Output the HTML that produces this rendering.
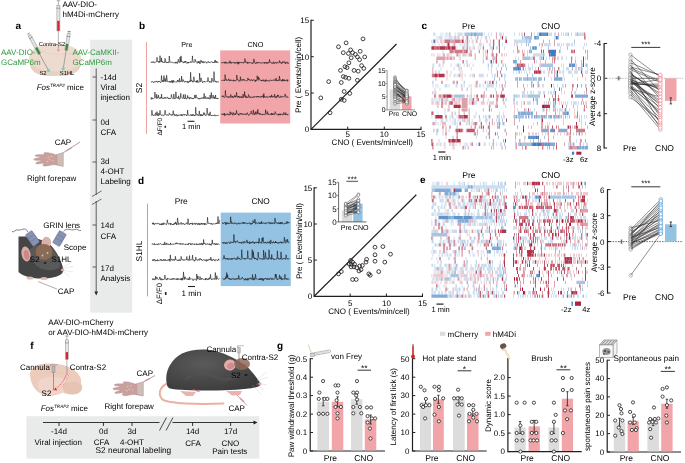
<!DOCTYPE html>
<html><head><meta charset="utf-8"><style>
html,body{margin:0;padding:0;background:#fff;}
svg{display:block;will-change:transform;}
text{font-family:"Liberation Sans",sans-serif;text-rendering:geometricPrecision;}
</style></head><body>
<svg width="685" height="463" viewBox="0 0 685 463">
<rect x="90.2" y="39.7" width="42" height="273" fill="#e9ebea"/>
<line x1="96.2" y1="68.4" x2="96.2" y2="195" stroke="#4d4d4d" stroke-width="0.9"/>
<line x1="96.2" y1="201" x2="96.2" y2="292" stroke="#4d4d4d" stroke-width="0.9"/>
<path d="M94.4 291.5 L98 291.5 L96.2 295.5 Z" fill="#231f20"/>
<line x1="92" y1="196.5" x2="101.5" y2="191" stroke="#4d4d4d" stroke-width="0.8"/>
<line x1="92" y1="204.5" x2="101.5" y2="199" stroke="#4d4d4d" stroke-width="0.8"/>
<line x1="92.5" y1="77" x2="96.2" y2="77" stroke="#4d4d4d" stroke-width="0.9"/>
<line x1="92.5" y1="120" x2="96.2" y2="120" stroke="#4d4d4d" stroke-width="0.9"/>
<line x1="92.5" y1="162" x2="96.2" y2="162" stroke="#4d4d4d" stroke-width="0.9"/>
<line x1="92.5" y1="225" x2="96.2" y2="225" stroke="#4d4d4d" stroke-width="0.9"/>
<line x1="92.5" y1="267" x2="96.2" y2="267" stroke="#4d4d4d" stroke-width="0.9"/>
<line x1="146.5" y1="42" x2="146.5" y2="134" stroke="#f3a3a6" stroke-width="1"/>
<rect x="220.2" y="50.4" width="70" height="73.1" fill="#f2a5a8"/>
<path d="M151 61.7 151.3 62.5 151.6 62.8 151.9 62 152.2 61.6 152.5 62.3 152.8 62.5 153.1 62.8 153.4 61.7 153.7 61.7 154 62.7 154.3 62.5 154.6 63.1 154.9 62.8 155.2 62.2 155.5 62.2 155.8 62.1 156.1 61.5 156.4 61.6 156.7 61.6 157 57.3 157.3 60.2 157.6 61.2 157.9 61.9 158.2 62.3 158.5 62.6 158.8 61 159.1 61.6 159.4 61.1 159.7 62.5 160 55.7 160.3 59.7 160.6 60.5 160.9 61.9 161.2 61.7 161.5 57.9 161.8 62 162.1 61.5 162.4 62.4 162.7 61.5 163 62.1 163.3 62.6 163.6 62.2 163.9 62.5 164.2 62.3 164.5 61.8 164.8 62.6 165.1 58.4 165.4 61.7 165.7 61.4 166 62.4 166.3 62.2 166.6 62.7 166.9 62 167.2 62.8 167.5 62.2 167.8 62.9 168.1 62.6 168.4 62.4 168.7 61.9 169 62.7 169.3 56 169.6 60.4 169.9 60.9 170.2 62.1 170.5 62.3 170.8 62.4 171.1 62.4 171.4 62.4 171.7 62 172 61.8 172.3 62.1 172.6 62.6 172.9 63.1 173.2 62.8 173.5 62.8 173.8 62.7 174.1 62.6 174.4 62.4 174.7 62.7 175 63.2 175.3 62.1 175.6 62 175.9 63.3 176.2 62.4 176.5 62.8 176.8 62.7 177.1 61.7 177.4 63.5 177.7 63.2 178 62.4 178.3 59.3 178.6 60.9 178.9 61.3 179.2 62 179.5 62.4 179.8 62.8 180.1 57 180.4 59.9 180.7 62 181 55.9 181.3 60.1 181.6 61.8 181.9 61.7 182.2 61.2 182.5 61.8 182.8 62.4 183.1 62.6 183.4 63.1 183.7 61.8 184 62.3 184.3 62.6 184.6 62.2 184.9 61.1 185.2 62.7 185.5 61.3 185.8 61.9 186.1 61.4 186.4 61.9 186.7 62.3 187 63.5 187.3 62.6 187.6 62.4 187.9 63.1 188.2 62.3 188.5 63.2 188.8 62 189.1 62.1 189.4 62.7 189.7 63 190 62.6 190.3 62.5 190.6 61.4 190.9 61.9 191.2 62 191.5 62 191.8 62.6 192.1 62.1 192.4 55.9 192.7 59.5 193 60.9 193.3 61.8 193.6 62.3 193.9 62.6 194.2 62 194.5 62.2 194.8 61.6 195.1 59.2 195.4 61.4 195.7 61.5 196 61.8 196.3 61.6 196.6 62.3 196.9 62.4 197.2 63.4 197.5 62.4 197.8 61.9 198.1 61.1 198.4 63 198.7 62.4 199 61.5 199.3 62.4 199.6 61.5 199.9 64 200.2 62.9 200.5 62.6 200.8 60.1 201.1 60.4 201.4 61.9 201.7 61.4 202 62.5 202.3 61.2 202.6 61.8 202.9 62.9 203.2 63.1 203.5 61.7 203.8 61.5 204.1 62.7 204.4 62.7 204.7 61.8 205 62 205.3 62 205.6 61.7 205.9 62 206.2 62.9 206.5 62.6 206.8 63.3 207.1 62.3 207.4 62.2 207.7 61.8 208 62.2 208.3 61.6 208.6 61.4 208.9 62.6 209.2 63 209.5 62.7 209.8 63 210.1 62.4 210.4 61.9 210.7 62.3 211 62.1 211.3 61.7 211.6 61.5 211.9 61.6 212.2 62.3 212.5 62.4 212.8 62.1 213.1 63 213.4 62.4 213.7 62.6 214 62.9 214.3 61.9 214.6 61.3 214.9 62.7 215.2 59.9 215.5 62.1 215.8 62.1 216.1 62.6 216.4 62.6 216.7 61.2 217 62.6 217.3 62 217.6 61.9 217.9 62.1 218.2 62.7 218.5 62.7" fill="none" stroke="#1a1a1a" stroke-width="0.6" stroke-linejoin="bevel"/>
<path d="M151 81.9 151.3 81.8 151.6 82.3 151.9 81.8 152.2 81.1 152.5 81.6 152.8 81.9 153.1 82 153.4 82 153.7 82.6 154 82.8 154.3 81.6 154.6 81.8 154.9 81.8 155.2 82.2 155.5 81.5 155.8 81.7 156.1 81.3 156.4 81.1 156.7 81.8 157 81.1 157.3 82 157.6 82.5 157.9 81.8 158.2 81.9 158.5 81.4 158.8 80.9 159.1 81.9 159.4 81.4 159.7 81.9 160 82 160.3 82.2 160.6 82.8 160.9 81.8 161.2 81.9 161.5 75.6 161.8 79.9 162.1 80.2 162.4 80.7 162.7 81.9 163 80.2 163.3 81.6 163.6 81.8 163.9 75.7 164.2 80 164.5 80.2 164.8 81.4 165.1 78.3 165.4 79.8 165.7 81.8 166 82.1 166.3 81.1 166.6 75.3 166.9 78.1 167.2 79.9 167.5 81.7 167.8 81.9 168.1 81.8 168.4 81.6 168.7 81.7 169 81.3 169.3 82.3 169.6 81.4 169.9 81.4 170.2 82.4 170.5 81.4 170.8 81.3 171.1 82.3 171.4 81.1 171.7 81.4 172 80.1 172.3 83.1 172.6 81.2 172.9 81.1 173.2 81.8 173.5 80.3 173.8 82.4 174.1 81.8 174.4 81.7 174.7 81.3 175 81.6 175.3 81.8 175.6 81.9 175.9 82.2 176.2 82 176.5 81.9 176.8 82.2 177.1 81.3 177.4 80.4 177.7 81.6 178 80.2 178.3 81 178.6 81.1 178.9 81 179.2 82.3 179.5 78.3 179.8 80.1 180.1 80.9 180.4 81.7 180.7 81.5 181 81.3 181.3 81.7 181.6 76.1 181.9 79.6 182.2 81.9 182.5 81.8 182.8 81 183.1 79.5 183.4 80.2 183.7 81 184 81.3 184.3 82.3 184.6 81.3 184.9 81.5 185.2 81.6 185.5 81.3 185.8 82.1 186.1 81.7 186.4 82 186.7 81.8 187 81.7 187.3 81.2 187.6 82.4 187.9 81.2 188.2 83.1 188.5 82.2 188.8 81.9 189.1 81.6 189.4 82.1 189.7 81.4 190 80.4 190.3 81.9 190.6 72.3 190.9 78.3 191.2 80.7 191.5 80.7 191.8 80 192.1 81.8 192.4 81.9 192.7 81.1 193 82.2 193.3 82.2 193.6 81.4 193.9 76.8 194.2 80.1 194.5 81 194.8 81.7 195.1 81.9 195.4 81.4 195.7 81.2 196 81.6 196.3 82.4 196.6 80.9 196.9 82.1 197.2 80 197.5 81.4 197.8 82.5 198.1 81.5 198.4 81.7 198.7 81.9 199 82.4 199.3 81.2 199.6 73.2 199.9 77.9 200.2 80.1 200.5 81.8 200.8 80.8 201.1 77.9 201.4 79.6 201.7 80.4 202 81.6 202.3 81.9 202.6 82.8 202.9 81.5 203.2 81.8 203.5 81.6 203.8 82.1 204.1 81.8 204.4 81.1 204.7 82 205 82.2 205.3 82.1 205.6 81.9 205.9 81.8 206.2 81.4 206.5 81.1 206.8 81.4 207.1 81.3 207.4 81.4 207.7 81.7 208 77.5 208.3 80.8 208.6 81.1 208.9 81.2 209.2 82.2 209.5 82.3 209.8 81.1 210.1 81.1 210.4 81.8 210.7 82.2 211 81.7 211.3 82.6 211.6 81.2 211.9 78 212.2 80.3 212.5 80.9 212.8 80.6 213.1 81.3 213.4 82.1 213.7 81.4 214 71.6 214.3 77.7 214.6 80.1 214.9 80.8 215.2 81.9 215.5 81.9 215.8 80.9 216.1 81.7 216.4 81.4 216.7 82.5 217 82 217.3 81.9 217.6 81.6 217.9 81.5 218.2 81.4 218.5 82.5" fill="none" stroke="#1a1a1a" stroke-width="0.6" stroke-linejoin="bevel"/>
<path d="M151 97.7 151.3 99.4 151.6 97.6 151.9 98 152.2 97.8 152.5 99.1 152.8 98.5 153.1 98.5 153.4 98.9 153.7 98.7 154 98.2 154.3 98 154.6 97.5 154.9 92 155.2 95.2 155.5 96.9 155.8 97.8 156.1 98.4 156.4 98.6 156.7 94.3 157 97.5 157.3 98 157.6 97.4 157.9 98.4 158.2 97.7 158.5 95.1 158.8 97.4 159.1 97.4 159.4 97.9 159.7 98.7 160 98.8 160.3 98.3 160.6 97.9 160.9 97 161.2 98.5 161.5 94.1 161.8 96.8 162.1 97.6 162.4 97.8 162.7 98.6 163 98.1 163.3 98.1 163.6 97.9 163.9 98.7 164.2 98.5 164.5 97.4 164.8 98.1 165.1 98.1 165.4 98.4 165.7 97.2 166 97.9 166.3 98.2 166.6 98 166.9 98.3 167.2 98 167.5 96.9 167.8 97.5 168.1 98.2 168.4 98.5 168.7 98 169 99 169.3 98.1 169.6 98.4 169.9 98.5 170.2 98.3 170.5 99 170.8 98.2 171.1 97.9 171.4 94.5 171.7 96.3 172 97.3 172.3 98 172.6 98.4 172.9 98.2 173.2 98.8 173.5 97.9 173.8 94 174.1 96.5 174.4 97.5 174.7 99.1 175 99.1 175.3 98.2 175.6 98.1 175.9 91.8 176.2 95.8 176.5 96.8 176.8 98.1 177.1 97.9 177.4 97.4 177.7 97.8 178 98.5 178.3 98.9 178.6 95.8 178.9 97.2 179.2 98.5 179.5 99.4 179.8 98.9 180.1 98 180.4 98 180.7 93.3 181 95.8 181.3 96.8 181.6 97.1 181.9 97.6 182.2 98.6 182.5 98.3 182.8 98 183.1 98.3 183.4 94.6 183.7 97.4 184 98 184.3 98.6 184.6 98.1 184.9 98.9 185.2 94.3 185.5 97.4 185.8 98.4 186.1 98.2 186.4 99 186.7 99.2 187 97.8 187.3 98 187.6 95.4 187.9 97.7 188.2 97.6 188.5 97.3 188.8 98.2 189.1 97.7 189.4 99.2 189.7 98.3 190 97.1 190.3 97.3 190.6 97.4 190.9 98.4 191.2 98.8 191.5 97.9 191.8 97.8 192.1 98.2 192.4 98.7 192.7 98.1 193 99.1 193.3 98.6 193.6 99 193.9 97.8 194.2 97.6 194.5 97.8 194.8 95 195.1 97.6 195.4 98 195.7 98.2 196 94.8 196.3 97.3 196.6 97.6 196.9 98.2 197.2 98 197.5 97.7 197.8 98.3 198.1 98.7 198.4 98 198.7 98.5 199 99.3 199.3 98.8 199.6 99 199.9 98.1 200.2 98.6 200.5 97.9 200.8 98.4 201.1 98 201.4 98.3 201.7 97.7 202 98.5 202.3 98.2 202.6 98.4 202.9 98.1 203.2 97.1 203.5 98 203.8 98.7 204.1 93.4 204.4 96.1 204.7 97.8 205 98.9 205.3 98.5 205.6 96.4 205.9 97 206.2 97.5 206.5 98.7 206.8 98.4 207.1 98.3 207.4 98.6 207.7 98 208 97.1 208.3 98.3 208.6 98.9 208.9 98.2 209.2 98.4 209.5 98.7 209.8 99.2 210.1 95.1 210.4 97.5 210.7 98.7 211 97.8 211.3 92.5 211.6 96.1 211.9 98.1 212.2 98.2 212.5 98.1 212.8 98 213.1 95 213.4 97.1 213.7 97.6 214 98.7 214.3 96.8 214.6 97 214.9 98.9 215.2 98.7 215.5 95 215.8 97.7 216.1 98.4 216.4 98.6 216.7 98 217 98.6 217.3 98.5 217.6 98 217.9 99 218.2 98.4 218.5 98.6" fill="none" stroke="#1a1a1a" stroke-width="0.6" stroke-linejoin="bevel"/>
<path d="M151 115.3 151.3 115.6 151.6 115.1 151.9 110.2 152.2 112.5 152.5 115 152.8 114.9 153.1 115.5 153.4 114.9 153.7 115.5 154 115.3 154.3 115.2 154.6 114.8 154.9 114.7 155.2 115.7 155.5 113.9 155.8 112.7 156.1 115 156.4 115.1 156.7 114.9 157 111.6 157.3 113.1 157.6 115.6 157.9 114.7 158.2 115.2 158.5 115.9 158.8 113.2 159.1 114.4 159.4 114.6 159.7 115.1 160 110.4 160.3 113.6 160.6 114 160.9 114.9 161.2 115.3 161.5 115.6 161.8 114.9 162.1 115.2 162.4 115 162.7 114.9 163 115.6 163.3 115.5 163.6 114.9 163.9 115.3 164.2 114.5 164.5 114.8 164.8 114.5 165.1 110.2 165.4 113.7 165.7 114.4 166 114.7 166.3 115.2 166.6 115 166.9 115.3 167.2 114.5 167.5 115.2 167.8 114.8 168.1 115.3 168.4 115.2 168.7 115.3 169 114.6 169.3 112.9 169.6 113.5 169.9 114.5 170.2 114.8 170.5 114.8 170.8 114.5 171.1 115.3 171.4 115.6 171.7 115.1 172 114.1 172.3 114.6 172.6 115.3 172.9 114.5 173.2 110.6 173.5 113.1 173.8 114.1 174.1 115.1 174.4 115.6 174.7 114.2 175 114.4 175.3 115.9 175.6 115.5 175.9 115.3 176.2 114.8 176.5 115.2 176.8 114.3 177.1 116.3 177.4 115.4 177.7 115.5 178 115.3 178.3 115.9 178.6 115.2 178.9 115.2 179.2 114.7 179.5 115.1 179.8 115.2 180.1 115.8 180.4 114.8 180.7 114.7 181 114.7 181.3 114.7 181.6 115.8 181.9 114.1 182.2 115 182.5 115.6 182.8 115.5 183.1 114.9 183.4 115 183.7 114.4 184 114.7 184.3 114 184.6 115.3 184.9 114.9 185.2 114.8 185.5 114.8 185.8 114.8 186.1 115 186.4 115 186.7 116 187 114.8 187.3 115.1 187.6 110.1 187.9 113.5 188.2 114.5 188.5 115.4 188.8 115.2 189.1 115.3 189.4 115.4 189.7 115.3 190 115.1 190.3 115 190.6 114.4 190.9 115.5 191.2 114.9 191.5 115.2 191.8 115.9 192.1 114.4 192.4 115.6 192.7 115.3 193 114.3 193.3 115.2 193.6 114.6 193.9 115.7 194.2 115.2 194.5 116 194.8 115 195.1 115.6 195.4 115.3 195.7 107.3 196 112.6 196.3 113.4 196.6 114 196.9 115.3 197.2 114.4 197.5 114.5 197.8 115.3 198.1 114.9 198.4 114.7 198.7 115.7 199 115.2 199.3 110.9 199.6 113.9 199.9 114.4 200.2 116.1 200.5 114.6 200.8 115.6 201.1 115.7 201.4 114.6 201.7 115.5 202 114.3 202.3 115.9 202.6 115.4 202.9 115.2 203.2 115.1 203.5 115 203.8 112.4 204.1 113.9 204.4 114.4 204.7 113.4 205 115.4 205.3 115.5 205.6 115.8 205.9 115.3 206.2 114.7 206.5 115.2 206.8 114.9 207.1 108.1 207.4 112.1 207.7 113.4 208 114.1 208.3 115.4 208.6 115.2 208.9 113.8 209.2 114.6 209.5 115.7 209.8 114.3 210.1 111.8 210.4 114 210.7 114.9 211 115.9 211.3 115.8 211.6 115.2 211.9 115.8 212.2 115.5 212.5 115.5 212.8 115.8 213.1 115.3 213.4 115.6 213.7 115.7 214 115.1 214.3 115.6 214.6 114.7 214.9 115.3 215.2 115.2 215.5 115.4 215.8 116.2 216.1 115.6 216.4 115.1 216.7 115.4 217 115.4 217.3 115.7 217.6 115.5 217.9 115.2 218.2 115.6 218.5 114.8" fill="none" stroke="#1a1a1a" stroke-width="0.6" stroke-linejoin="bevel"/>
<path d="M221.5 62.2 221.8 63 222.1 63.2 222.4 62.6 222.7 62.7 223 62.4 223.3 62.4 223.6 62.6 223.9 63.1 224.2 62.5 224.5 63.3 224.8 62.2 225.1 61.7 225.4 63.1 225.7 62.2 226 63.3 226.3 62.4 226.6 62.5 226.9 63.3 227.2 63 227.5 62.7 227.8 63.3 228.1 63.2 228.4 62.7 228.7 62.5 229 62.1 229.3 62.8 229.6 63.3 229.9 60.7 230.2 62.4 230.5 62.3 230.8 63.1 231.1 62.2 231.4 63.5 231.7 63.2 232 62.3 232.3 62.6 232.6 62.7 232.9 63 233.2 62.7 233.5 62.5 233.8 63.2 234.1 62.7 234.4 62.1 234.7 62.2 235 63.7 235.3 62.9 235.6 62.8 235.9 62.4 236.2 62.4 236.5 62.4 236.8 63.2 237.1 62.5 237.4 63.5 237.7 61.8 238 62 238.3 64.3 238.6 62.6 238.9 62.1 239.2 63.4 239.5 62.3 239.8 62.2 240.1 63 240.4 62.8 240.7 62.3 241 62.9 241.3 62.6 241.6 62.5 241.9 63.1 242.2 62.8 242.5 62.6 242.8 63 243.1 62.2 243.4 63.3 243.7 63.1 244 63 244.3 62.4 244.6 62.2 244.9 58.6 245.2 60.6 245.5 62.3 245.8 61.7 246.1 62.7 246.4 62.5 246.7 62.7 247 62.8 247.3 63.6 247.6 61.9 247.9 62.9 248.2 62.7 248.5 62.4 248.8 63.3 249.1 62.6 249.4 62.7 249.7 62.9 250 62.4 250.3 62.5 250.6 62.8 250.9 62.6 251.2 62.7 251.5 63.3 251.8 63.1 252.1 62.6 252.4 63.6 252.7 62.8 253 63.3 253.3 63.1 253.6 62.9 253.9 58.9 254.2 61.6 254.5 61.3 254.8 62.8 255.1 63.5 255.4 63.3 255.7 63.5 256 63.9 256.3 62.3 256.6 62.7 256.9 62 257.2 62.2 257.5 63.3 257.8 62.7 258.1 63.1 258.4 62.8 258.7 63.1 259 62.1 259.3 62.7 259.6 62.5 259.9 62.7 260.2 62.8 260.5 63.1 260.8 63.1 261.1 63.5 261.4 62.6 261.7 62.9 262 62.7 262.3 62.6 262.6 62.9 262.9 62.8 263.2 63 263.5 63.2 263.8 62.6 264.1 62.1 264.4 62.9 264.7 63.7 265 62 265.3 62.3 265.6 62.6 265.9 63.2 266.2 62.5 266.5 62.5 266.8 63.6 267.1 62.8 267.4 63.3 267.7 62.3 268 63 268.3 62.5 268.6 63.2 268.9 62.6 269.2 62.8 269.5 59.4 269.8 61.2 270.1 61.5 270.4 62.4 270.7 62.4 271 63 271.3 63.2 271.6 63.1 271.9 62.6 272.2 63.3 272.5 62.9 272.8 63.6 273.1 62.7 273.4 62.8 273.7 61.7 274 63.5 274.3 63.5 274.6 62.8 274.9 63.3 275.2 62.7 275.5 62.4 275.8 62.5 276.1 62.6 276.4 63.5 276.7 62.4 277 62.6 277.3 62.2 277.6 62.8 277.9 62.8 278.2 62.6 278.5 63.1 278.8 63 279.1 62.7 279.4 60.6 279.7 60.6 280 62.7 280.3 62.2 280.6 62.9 280.9 62.7 281.2 62.6 281.5 63.7 281.8 62.7 282.1 62.6 282.4 63.2 282.7 61.7 283 61.4 283.3 62.4 283.6 62.6 283.9 62.8 284.2 61.4 284.5 61.8 284.8 62.1 285.1 63.3 285.4 62.4 285.7 63.9 286 63 286.3 62.8 286.6 62.1 286.9 62.3 287.2 62.3 287.5 61.9 287.8 63.1 288.1 63.9 288.4 62.7" fill="none" stroke="#1a1a1a" stroke-width="0.6" stroke-linejoin="bevel"/>
<path d="M221.5 80 221.8 80.6 222.1 80.4 222.4 80.5 222.7 80.4 223 80 223.3 79.9 223.6 80.1 223.9 80 224.2 81 224.5 80 224.8 80.5 225.1 74.6 225.4 77.6 225.7 79.5 226 80.2 226.3 79.3 226.6 80.4 226.9 80.2 227.2 80.7 227.5 80.2 227.8 80.1 228.1 80 228.4 80.3 228.7 78.7 229 79.4 229.3 80.1 229.6 80.7 229.9 80 230.2 81.1 230.5 80 230.8 79.6 231.1 80.2 231.4 80.3 231.7 80.4 232 80 232.3 80.5 232.6 80.9 232.9 80.9 233.2 80.4 233.5 79.7 233.8 81.3 234.1 80.9 234.4 80.4 234.7 81 235 81.1 235.3 80.5 235.6 80 235.9 80.5 236.2 79.9 236.5 80.2 236.8 75 237.1 77.8 237.4 78.7 237.7 80 238 80.1 238.3 79.8 238.6 80.4 238.9 81.4 239.2 80.8 239.5 80.6 239.8 80.7 240.1 81.3 240.4 76.7 240.7 79.6 241 79.7 241.3 80.4 241.6 80.2 241.9 80.1 242.2 79.2 242.5 80.5 242.8 80.6 243.1 79.9 243.4 79.5 243.7 80.2 244 79.2 244.3 79.9 244.6 80.5 244.9 80.7 245.2 80.7 245.5 80.6 245.8 80.3 246.1 80.6 246.4 80.8 246.7 80.8 247 80.5 247.3 80.5 247.6 80.6 247.9 77.9 248.2 79.5 248.5 79.3 248.8 79.9 249.1 79.1 249.4 80.2 249.7 80.7 250 80.6 250.3 80.8 250.6 80.6 250.9 80.5 251.2 79.3 251.5 80.1 251.8 80.4 252.1 80.1 252.4 81 252.7 80.2 253 79.7 253.3 80.3 253.6 80 253.9 79.5 254.2 79.8 254.5 80.1 254.8 80.5 255.1 81.7 255.4 79.9 255.7 81.2 256 80.5 256.3 80.3 256.6 80.5 256.9 80.6 257.2 75.7 257.5 78.3 257.8 79.2 258.1 80.4 258.4 76.8 258.7 79 259 79.2 259.3 78.2 259.6 79.1 259.9 80.1 260.2 80.3 260.5 80.3 260.8 80.5 261.1 80.3 261.4 81.1 261.7 80 262 80.8 262.3 80.1 262.6 80.1 262.9 79.8 263.2 81.2 263.5 79.9 263.8 80.1 264.1 79.9 264.4 80.3 264.7 79.9 265 81.4 265.3 80.5 265.6 81.6 265.9 81 266.2 79.6 266.5 80.7 266.8 80.9 267.1 80.8 267.4 80.4 267.7 80.8 268 81.1 268.3 80.5 268.6 81.1 268.9 81.1 269.2 81.4 269.5 80.4 269.8 80.6 270.1 80.2 270.4 80 270.7 79.9 271 80.2 271.3 80.9 271.6 80.1 271.9 80.4 272.2 80.4 272.5 80 272.8 80.4 273.1 79.8 273.4 80.1 273.7 80.2 274 80.5 274.3 79.8 274.6 80.4 274.9 79.6 275.2 79.4 275.5 80.3 275.8 80.9 276.1 78 276.4 79.5 276.7 79.9 277 81.1 277.3 80.4 277.6 80 277.9 80.9 278.2 80.1 278.5 79.8 278.8 80.7 279.1 80.9 279.4 76 279.7 78.2 280 79.7 280.3 80.4 280.6 79.8 280.9 80.2 281.2 80.7 281.5 80.6 281.8 81.3 282.1 80.9 282.4 79.1 282.7 81.1 283 80 283.3 80.6 283.6 79.6 283.9 80.7 284.2 79.6 284.5 80.8 284.8 81.2 285.1 80.3 285.4 80.8 285.7 80.5 286 80.3 286.3 79.9 286.6 80.4 286.9 80.6 287.2 79.7 287.5 81.4 287.8 79.8 288.1 80.3 288.4 80.3" fill="none" stroke="#1a1a1a" stroke-width="0.6" stroke-linejoin="bevel"/>
<path d="M221.5 96.8 221.8 97.1 222.1 96.6 222.4 96.7 222.7 95.5 223 96.7 223.3 95.9 223.6 96.5 223.9 96.5 224.2 97.7 224.5 97.4 224.8 97.2 225.1 96.7 225.4 90.4 225.7 94.7 226 95.5 226.3 96.5 226.6 97.3 226.9 96.8 227.2 96.9 227.5 96.5 227.8 97.5 228.1 97.3 228.4 97.3 228.7 97.8 229 96.2 229.3 97 229.6 97.3 229.9 97.2 230.2 97.1 230.5 97.2 230.8 94.5 231.1 96.2 231.4 97.3 231.7 96.8 232 96.8 232.3 97.4 232.6 96.1 232.9 97.2 233.2 97.8 233.5 96.9 233.8 96.6 234.1 97.3 234.4 96.8 234.7 95.3 235 96.5 235.3 95.9 235.6 97.2 235.9 96.3 236.2 96.7 236.5 92.3 236.8 94.8 237.1 96.2 237.4 97.3 237.7 97.6 238 96.5 238.3 96.1 238.6 97.2 238.9 96 239.2 97.3 239.5 97.6 239.8 96.6 240.1 97.2 240.4 97.4 240.7 96.9 241 96.7 241.3 97.8 241.6 96.3 241.9 97.1 242.2 97.5 242.5 97.1 242.8 97.8 243.1 94 243.4 95.6 243.7 97.2 244 97.1 244.3 96.2 244.6 91.5 244.9 94.8 245.2 96.1 245.5 95.7 245.8 98 246.1 96.1 246.4 96.4 246.7 97.2 247 97.1 247.3 97.8 247.6 97.1 247.9 97.2 248.2 97.4 248.5 94.5 248.8 95.4 249.1 96.4 249.4 97.3 249.7 96.8 250 97.6 250.3 96.7 250.6 97.4 250.9 97 251.2 97.4 251.5 97 251.8 97.1 252.1 96.8 252.4 97.6 252.7 97 253 97.2 253.3 97.3 253.6 96.5 253.9 96.6 254.2 97 254.5 97.6 254.8 96.5 255.1 96.5 255.4 96.5 255.7 96.8 256 96.4 256.3 96.6 256.6 97.3 256.9 96.4 257.2 97 257.5 96.4 257.8 96.9 258.1 97.3 258.4 96 258.7 97 259 97.1 259.3 97 259.6 97.1 259.9 97.2 260.2 96.3 260.5 96.9 260.8 97.3 261.1 97.6 261.4 96.3 261.7 96.7 262 96.3 262.3 97 262.6 96.4 262.9 95.3 263.2 96.9 263.5 97.9 263.8 93.5 264.1 96.8 264.4 96.1 264.7 97.2 265 97.1 265.3 97.6 265.6 96.9 265.9 96.6 266.2 97 266.5 97.4 266.8 96.5 267.1 97.2 267.4 97 267.7 97.1 268 97 268.3 97.3 268.6 97.4 268.9 96.8 269.2 96.8 269.5 95.9 269.8 96.5 270.1 96.2 270.4 97.3 270.7 96.4 271 96.6 271.3 97.3 271.6 94.8 271.9 96.5 272.2 96.1 272.5 96.9 272.8 97.4 273.1 96.5 273.4 96.9 273.7 96.4 274 96.7 274.3 97.3 274.6 94.1 274.9 95.6 275.2 96.2 275.5 97.5 275.8 97.3 276.1 96.3 276.4 98.1 276.7 96.8 277 96.9 277.3 96.7 277.6 94.8 277.9 96.5 278.2 95.9 278.5 95.2 278.8 96.1 279.1 97.6 279.4 97.1 279.7 97.2 280 97.2 280.3 97.3 280.6 97.1 280.9 95.8 281.2 97.2 281.5 96.8 281.8 97.3 282.1 97.2 282.4 96.7 282.7 96.5 283 96.5 283.3 97.1 283.6 96.9 283.9 96.5 284.2 96.8 284.5 97.2 284.8 96.7 285.1 93.9 285.4 95.4 285.7 95.1 286 96.8 286.3 96.9 286.6 97.4 286.9 97.6 287.2 96.6 287.5 97.3 287.8 97.1 288.1 97 288.4 97.4" fill="none" stroke="#1a1a1a" stroke-width="0.6" stroke-linejoin="bevel"/>
<path d="M221.5 114.4 221.8 113.9 222.1 113.7 222.4 114.5 222.7 114.5 223 113.8 223.3 114.8 223.6 114 223.9 113.8 224.2 114.6 224.5 113.1 224.8 115.9 225.1 114.8 225.4 114.4 225.7 115 226 114.7 226.3 114.5 226.6 114.5 226.9 113.7 227.2 114.6 227.5 114.3 227.8 113.8 228.1 114.2 228.4 114.8 228.7 114.6 229 114.1 229.3 115.3 229.6 114.4 229.9 114 230.2 111.7 230.5 113.9 230.8 114.6 231.1 114.1 231.4 112.7 231.7 113.5 232 113.7 232.3 113.5 232.6 114.5 232.9 115.4 233.2 112.4 233.5 113.2 233.8 114.1 234.1 114.2 234.4 114 234.7 115 235 114.5 235.3 113.2 235.6 114.5 235.9 114.4 236.2 114 236.5 110.4 236.8 112.5 237.1 113.1 237.4 114 237.7 114.4 238 114.1 238.3 114.2 238.6 114.1 238.9 115.4 239.2 113.7 239.5 114 239.8 114 240.1 114.1 240.4 113.2 240.7 114.3 241 114.2 241.3 114 241.6 114.3 241.9 113.1 242.2 113.9 242.5 114.5 242.8 114 243.1 113.9 243.4 114.2 243.7 114.7 244 115 244.3 114.3 244.6 113.8 244.9 113.6 245.2 114.7 245.5 114.2 245.8 113.7 246.1 114.5 246.4 114.5 246.7 114.8 247 113 247.3 112.7 247.6 113.9 247.9 113.8 248.2 114.6 248.5 114.9 248.8 115.5 249.1 114.1 249.4 114.1 249.7 114.1 250 113.7 250.3 113.7 250.6 113.7 250.9 113.5 251.2 110.9 251.5 113.6 251.8 113.7 252.1 113.8 252.4 113.8 252.7 113.9 253 114.5 253.3 109.9 253.6 112.2 253.9 113 254.2 114.8 254.5 114.4 254.8 113.5 255.1 114.6 255.4 111.7 255.7 113.1 256 113.6 256.3 114 256.6 114.4 256.9 111.6 257.2 111.9 257.5 113.6 257.8 109.3 258.1 112.2 258.4 113.5 258.7 113.2 259 113.3 259.3 114.6 259.6 113 259.9 113.7 260.2 113.7 260.5 114.5 260.8 113.9 261.1 113.9 261.4 114.3 261.7 114.2 262 114.8 262.3 114.2 262.6 115.1 262.9 115 263.2 114.4 263.5 114.4 263.8 113.9 264.1 114.4 264.4 114.5 264.7 115.1 265 114.7 265.3 114.2 265.6 109.7 265.9 111.7 266.2 113.7 266.5 113.9 266.8 114.3 267.1 113.8 267.4 111.5 267.7 113.5 268 113.7 268.3 115 268.6 113.7 268.9 114 269.2 114.2 269.5 114.4 269.8 114.1 270.1 114.1 270.4 114.2 270.7 114.7 271 114.6 271.3 113.3 271.6 114.8 271.9 113 272.2 113.7 272.5 115 272.8 114 273.1 113.9 273.4 113.8 273.7 114.4 274 113.6 274.3 114.6 274.6 114.8 274.9 113.8 275.2 111.6 275.5 112.8 275.8 113 276.1 113.3 276.4 113.8 276.7 114.4 277 114.1 277.3 114.4 277.6 114.4 277.9 115 278.2 115.4 278.5 114.1 278.8 114.8 279.1 113.7 279.4 114.4 279.7 114.1 280 115.2 280.3 113.8 280.6 115.1 280.9 114.3 281.2 114.3 281.5 114.1 281.8 114.2 282.1 114.4 282.4 114.2 282.7 114.2 283 115.2 283.3 113.7 283.6 113.9 283.9 112.4 284.2 114 284.5 114.2 284.8 114.7 285.1 114.2 285.4 115 285.7 112.6 286 113.6 286.3 114.1 286.6 114.7 286.9 114.2 287.2 114.3 287.5 115.2 287.8 114.2 288.1 114.1 288.4 114.5" fill="none" stroke="#1a1a1a" stroke-width="0.6" stroke-linejoin="bevel"/>
<line x1="187.6" y1="121.3" x2="194.4" y2="121.3" stroke="#231f20" stroke-width="1.1"/>
<line x1="165.3" y1="125.8" x2="165.3" y2="127.8" stroke="#231f20" stroke-width="1.5"/>
<line x1="147.5" y1="203.7" x2="147.5" y2="296.4" stroke="#7db3dc" stroke-width="1"/>
<rect x="220.7" y="212.6" width="70.1" height="73.5" fill="#93c2e3"/>
<path d="M152 223.3 152.3 223.3 152.6 224.2 152.9 222.8 153.2 223.8 153.5 222.8 153.8 224.5 154.1 224 154.4 224.6 154.7 223.6 155 224.1 155.3 223.8 155.6 223.5 155.9 224 156.2 223.3 156.5 223.7 156.8 224.2 157.1 223.9 157.4 223.7 157.7 223 158 223.1 158.3 223.3 158.6 223.8 158.9 223.6 159.2 223.7 159.5 223.7 159.8 224.9 160.1 223.9 160.4 224 160.7 224.2 161 224.9 161.3 223.8 161.6 223.6 161.9 225.1 162.2 223.2 162.5 223.7 162.8 224.2 163.1 225 163.4 223.4 163.7 222.7 164 224.2 164.3 223.6 164.6 223.7 164.9 224.1 165.2 224 165.5 224 165.8 223.7 166.1 224.5 166.4 224.7 166.7 223.9 167 223.7 167.3 219.8 167.6 222.3 167.9 222.6 168.2 223.3 168.5 224.3 168.8 223.8 169.1 223.7 169.4 224 169.7 223.9 170 223.9 170.3 222.9 170.6 224.8 170.9 224 171.2 223.5 171.5 224.4 171.8 224.1 172.1 223.9 172.4 224.4 172.7 225 173 224.2 173.3 224.7 173.6 225 173.9 223.4 174.2 223.6 174.5 224.3 174.8 223 175.1 223.8 175.4 221.9 175.7 223.3 176 223.7 176.3 222.7 176.6 225 176.9 224.1 177.2 224.3 177.5 217.9 177.8 220.4 178.1 222.1 178.4 222.8 178.7 224.7 179 223.4 179.3 223.7 179.6 223.8 179.9 224.2 180.2 224.1 180.5 224 180.8 223.3 181.1 222.3 181.4 224 181.7 224 182 224.5 182.3 223.8 182.6 223.6 182.9 224.1 183.2 223.1 183.5 223.4 183.8 223.4 184.1 224 184.4 224.9 184.7 224.3 185 224.5 185.3 224 185.6 224 185.9 223.7 186.2 223.8 186.5 222.7 186.8 223.3 187.1 223.3 187.4 224.3 187.7 224.2 188 218.7 188.3 222.2 188.6 222.7 188.9 224 189.2 224.7 189.5 223.8 189.8 224.4 190.1 223.8 190.4 223.1 190.7 224 191 223.5 191.3 224 191.6 223.7 191.9 224.1 192.2 222.8 192.5 224.9 192.8 224.6 193.1 223.7 193.4 223.4 193.7 223.9 194 224.2 194.3 224.1 194.6 224.1 194.9 222.9 195.2 223.3 195.5 224.6 195.8 224 196.1 223.1 196.4 223.5 196.7 223.2 197 223.4 197.3 224.5 197.6 223.8 197.9 224.5 198.2 224 198.5 223.1 198.8 223.6 199.1 225.1 199.4 223.5 199.7 223.4 200 224.5 200.3 223.9 200.6 223.9 200.9 224.6 201.2 223 201.5 224.1 201.8 223.4 202.1 223.2 202.4 223.5 202.7 224.5 203 223.8 203.3 223 203.6 223.3 203.9 224.7 204.2 224.4 204.5 223.3 204.8 225.1 205.1 223.7 205.4 223.3 205.7 223.8 206 224.4 206.3 224.7 206.6 224.4 206.9 223.7 207.2 223.6 207.5 217.3 207.8 221.4 208.1 222.5 208.4 223.6 208.7 223.1 209 223.6 209.3 223.4 209.6 223.3 209.9 223.3 210.2 223.4 210.5 223.3 210.8 224.2 211.1 224 211.4 223.2 211.7 224.2 212 224 212.3 224.6 212.6 223.8 212.9 223.8 213.2 223.5 213.5 224 213.8 224.2 214.1 224 214.4 223.8 214.7 224.2 215 223.9 215.3 224 215.6 223.4 215.9 224 216.2 223.4 216.5 223.5 216.8 224 217.1 222.6 217.4 223.4 217.7 223.5 218 216.5 218.3 221.3 218.6 223.3 218.9 224 219.2 223.6 219.5 219.9" fill="none" stroke="#1a1a1a" stroke-width="0.6" stroke-linejoin="bevel"/>
<path d="M152 244.6 152.3 243.7 152.6 243.6 152.9 244.3 153.2 244.3 153.5 244.3 153.8 244.4 154.1 244.5 154.4 243.3 154.7 244.8 155 244.3 155.3 244.4 155.6 244 155.9 244.4 156.2 244 156.5 244.5 156.8 244 157.1 244.1 157.4 244.5 157.7 243.9 158 244.8 158.3 243.8 158.6 243.8 158.9 243.6 159.2 244.3 159.5 244 159.8 243.9 160.1 243.7 160.4 243.7 160.7 243.4 161 244.3 161.3 244.4 161.6 244.5 161.9 244.2 162.2 244.5 162.5 244.3 162.8 244.6 163.1 244 163.4 243.9 163.7 244.6 164 243.9 164.3 244.9 164.6 241.9 164.9 242.9 165.2 243.8 165.5 244.7 165.8 244.7 166.1 243.8 166.4 242.9 166.7 244.7 167 244.3 167.3 244.1 167.6 244.2 167.9 243.6 168.2 244.7 168.5 244.3 168.8 244.7 169.1 244.1 169.4 244 169.7 244.3 170 245.1 170.3 244.6 170.6 242.9 170.9 244.2 171.2 244.5 171.5 244.2 171.8 244.6 172.1 244.3 172.4 244.5 172.7 244.2 173 243.7 173.3 244.3 173.6 244.2 173.9 244.1 174.2 244.4 174.5 244 174.8 243.6 175.1 244.1 175.4 243.9 175.7 244.1 176 242.8 176.3 243.8 176.6 242.8 176.9 243.7 177.2 243.3 177.5 243.5 177.8 244.1 178.1 244.2 178.4 243.5 178.7 244 179 243.7 179.3 243.9 179.6 243.5 179.9 243.5 180.2 244.5 180.5 243.9 180.8 243.2 181.1 244.4 181.4 244.1 181.7 244.3 182 244 182.3 244.3 182.6 244.2 182.9 243.2 183.2 244 183.5 244.3 183.8 244.4 184.1 244.3 184.4 244.6 184.7 244.4 185 243.8 185.3 243.9 185.6 244.8 185.9 244.4 186.2 244.4 186.5 244.2 186.8 244 187.1 244.6 187.4 244.5 187.7 244.4 188 243.8 188.3 244.9 188.6 243.1 188.9 243.7 189.2 243.6 189.5 243.4 189.8 243.6 190.1 243.9 190.4 244.4 190.7 243.4 191 244.9 191.3 243.9 191.6 244 191.9 243.7 192.2 244.3 192.5 243.6 192.8 244.2 193.1 244.2 193.4 244.3 193.7 244.4 194 243.9 194.3 243.7 194.6 244.9 194.9 244.4 195.2 244 195.5 244.1 195.8 244.4 196.1 244.2 196.4 243.5 196.7 244.9 197 244.8 197.3 243.9 197.6 244.2 197.9 244.6 198.2 243.8 198.5 244.4 198.8 244.8 199.1 244.2 199.4 244.5 199.7 243.4 200 244.6 200.3 244.4 200.6 244.5 200.9 244.8 201.2 243 201.5 244.5 201.8 244.2 202.1 243.9 202.4 243.6 202.7 245.1 203 243.6 203.3 244.2 203.6 239.5 203.9 242.8 204.2 244 204.5 243.6 204.8 243 205.1 243.2 205.4 244.5 205.7 244.5 206 243.9 206.3 244.2 206.6 244.2 206.9 244.1 207.2 243.6 207.5 243.8 207.8 244.5 208.1 243.8 208.4 244.2 208.7 244.5 209 244.3 209.3 244.7 209.6 243.6 209.9 244.8 210.2 244.1 210.5 244.6 210.8 244.1 211.1 245.5 211.4 244.6 211.7 243.3 212 243.7 212.3 239.9 212.6 243.1 212.9 244.1 213.2 243.7 213.5 244 213.8 244.2 214.1 244.3 214.4 243.9 214.7 243 215 244.4 215.3 244.9 215.6 243.8 215.9 244.8 216.2 244.6 216.5 243.6 216.8 244.3 217.1 243.6 217.4 244.7 217.7 244.1 218 243.8 218.3 243.9 218.6 243.8 218.9 244.4 219.2 244.5 219.5 244.2" fill="none" stroke="#1a1a1a" stroke-width="0.6" stroke-linejoin="bevel"/>
<path d="M152 260.5 152.3 260.3 152.6 260.9 152.9 259.5 153.2 260.1 153.5 260.2 153.8 260.7 154.1 259 154.4 259.9 154.7 259.9 155 260.2 155.3 261.2 155.6 260.2 155.9 260.1 156.2 260.3 156.5 260.6 156.8 260 157.1 260.9 157.4 259.5 157.7 260.7 158 260.4 158.3 260.6 158.6 260.9 158.9 260 159.2 260.3 159.5 260.2 159.8 259.8 160.1 259.7 160.4 259.7 160.7 260.5 161 259 161.3 259.5 161.6 260.1 161.9 260.7 162.2 260 162.5 260.7 162.8 260.1 163.1 259.8 163.4 259.3 163.7 260.2 164 261 164.3 260.1 164.6 259.6 164.9 260.4 165.2 259.4 165.5 259.5 165.8 260.7 166.1 260.3 166.4 260.6 166.7 260.2 167 260 167.3 260.2 167.6 259.9 167.9 260.6 168.2 259.5 168.5 259.2 168.8 259.7 169.1 260.5 169.4 259.8 169.7 259 170 261.5 170.3 254.9 170.6 258 170.9 259.5 171.2 259.9 171.5 259.9 171.8 259.3 172.1 260.3 172.4 259.6 172.7 260 173 260.5 173.3 259.9 173.6 259.2 173.9 259.8 174.2 260.4 174.5 260.5 174.8 259.5 175.1 260.1 175.4 256.3 175.7 259 176 259.6 176.3 259.9 176.6 259.8 176.9 260.3 177.2 260.5 177.5 260 177.8 260 178.1 261 178.4 260.1 178.7 259.7 179 260.4 179.3 259.5 179.6 259.6 179.9 260.6 180.2 260.1 180.5 260.5 180.8 260.5 181.1 256.4 181.4 258.9 181.7 259.3 182 260 182.3 260.1 182.6 260 182.9 259.4 183.2 260.2 183.5 260.1 183.8 260.4 184.1 259.6 184.4 260.2 184.7 260 185 259.9 185.3 260 185.6 260 185.9 259.4 186.2 259.8 186.5 259.9 186.8 256.5 187.1 258.4 187.4 260.1 187.7 260.1 188 260.1 188.3 260.1 188.6 259.4 188.9 260.3 189.2 260.7 189.5 255.6 189.8 259.1 190.1 259.7 190.4 259.9 190.7 259.8 191 260.1 191.3 259.7 191.6 260.1 191.9 260.1 192.2 260.1 192.5 255.1 192.8 258.7 193.1 259 193.4 260 193.7 260.2 194 259.9 194.3 261.3 194.6 260.1 194.9 260.3 195.2 260 195.5 260.3 195.8 257.1 196.1 259.4 196.4 259.5 196.7 259.7 197 260.4 197.3 260.5 197.6 259.9 197.9 259.6 198.2 259.1 198.5 259.6 198.8 260.3 199.1 260.4 199.4 259.5 199.7 260.1 200 258.2 200.3 258.7 200.6 259.4 200.9 259.5 201.2 260.2 201.5 259.1 201.8 260 202.1 260.3 202.4 260.1 202.7 260.6 203 260.4 203.3 259.8 203.6 259.6 203.9 259.6 204.2 260.3 204.5 260 204.8 260.2 205.1 259.7 205.4 260.7 205.7 260.5 206 260.5 206.3 259.6 206.6 261.4 206.9 260.5 207.2 259.6 207.5 260.6 207.8 260 208.1 259.7 208.4 259.7 208.7 260.3 209 260.3 209.3 258.9 209.6 259.4 209.9 259.4 210.2 260.1 210.5 259.9 210.8 257.1 211.1 259.2 211.4 260.4 211.7 259.6 212 260.5 212.3 259.7 212.6 260.5 212.9 260.4 213.2 260.1 213.5 259.1 213.8 259.3 214.1 259.7 214.4 260.5 214.7 260.4 215 261.2 215.3 259.6 215.6 259.9 215.9 260.1 216.2 260.1 216.5 259.9 216.8 259.9 217.1 260.1 217.4 260.7 217.7 260 218 259.7 218.3 260.3 218.6 258.8 218.9 259.7 219.2 259.8 219.5 260.3" fill="none" stroke="#1a1a1a" stroke-width="0.6" stroke-linejoin="bevel"/>
<path d="M152 278.9 152.3 278.6 152.6 279.9 152.9 279.7 153.2 278.8 153.5 279.4 153.8 279.7 154.1 278.5 154.4 278.9 154.7 279.9 155 279.6 155.3 279.6 155.6 276.2 155.9 278 156.2 279.2 156.5 278.6 156.8 277.2 157.1 278.3 157.4 278.2 157.7 279.1 158 279.4 158.3 279.5 158.6 279 158.9 279.3 159.2 279 159.5 278.9 159.8 276.9 160.1 278.5 160.4 278.4 160.7 280.1 161 279.1 161.3 279.4 161.6 278.5 161.9 280.2 162.2 279.6 162.5 279.4 162.8 279.4 163.1 279.9 163.4 279 163.7 279.3 164 279.5 164.3 278.9 164.6 279 164.9 275 165.2 277.7 165.5 278.4 165.8 279 166.1 279.5 166.4 279.1 166.7 280.1 167 278.7 167.3 279.2 167.6 278.2 167.9 279.2 168.2 278.7 168.5 279 168.8 278.8 169.1 278.6 169.4 278.8 169.7 279.5 170 279.6 170.3 279.6 170.6 279.5 170.9 278.9 171.2 278.7 171.5 279.7 171.8 278.9 172.1 279 172.4 278.4 172.7 279.5 173 279.4 173.3 279.3 173.6 279.2 173.9 278.1 174.2 279.4 174.5 279.3 174.8 278.9 175.1 278.9 175.4 279.1 175.7 279.1 176 278.9 176.3 279.3 176.6 278.8 176.9 279.9 177.2 278.2 177.5 279.1 177.8 279.6 178.1 278.6 178.4 279.4 178.7 278.9 179 278.8 179.3 279.3 179.6 279 179.9 279 180.2 279.6 180.5 278.9 180.8 279.5 181.1 278 181.4 279.7 181.7 279 182 280.3 182.3 277.9 182.6 279.8 182.9 279.8 183.2 279.1 183.5 271.9 183.8 276.3 184.1 278.3 184.4 277.7 184.7 279.6 185 276.7 185.3 278.5 185.6 278.4 185.9 278.7 186.2 278.7 186.5 278.8 186.8 279.2 187.1 279.3 187.4 279.5 187.7 278.5 188 279.2 188.3 279.8 188.6 278.7 188.9 278.9 189.2 279.9 189.5 276.9 189.8 278.3 190.1 279.3 190.4 278.8 190.7 279 191 279.3 191.3 279.1 191.6 278.8 191.9 279.2 192.2 279 192.5 279.2 192.8 279.4 193.1 280.7 193.4 279.3 193.7 278.9 194 279.1 194.3 279.2 194.6 279.4 194.9 279.4 195.2 279.6 195.5 279.2 195.8 279.2 196.1 279.4 196.4 280.5 196.7 274 197 276.5 197.3 277 197.6 279.2 197.9 275.9 198.2 278.1 198.5 279 198.8 279 199.1 279.3 199.4 279.5 199.7 279.9 200 276.5 200.3 278.1 200.6 278.4 200.9 279.9 201.2 279.6 201.5 278.5 201.8 279.1 202.1 278.1 202.4 278.7 202.7 279 203 278.8 203.3 279 203.6 279.6 203.9 279.3 204.2 279 204.5 279.3 204.8 279.5 205.1 279.4 205.4 278.4 205.7 280.1 206 278.3 206.3 279.3 206.6 279.2 206.9 278.5 207.2 279 207.5 279.6 207.8 278.9 208.1 279.8 208.4 279.7 208.7 278.5 209 279.1 209.3 277.7 209.6 279.1 209.9 278.9 210.2 279.1 210.5 274.4 210.8 277 211.1 278.7 211.4 279 211.7 279.8 212 278.8 212.3 279 212.6 279.1 212.9 278.9 213.2 279.4 213.5 279.1 213.8 278.5 214.1 278.8 214.4 279.1 214.7 278.6 215 279.7 215.3 272.5 215.6 276.5 215.9 277.9 216.2 278.9 216.5 279.5 216.8 275.7 217.1 277.7 217.4 278.6 217.7 278.5 218 278.5 218.3 279.2 218.6 279.4 218.9 278.8 219.2 278.6 219.5 278.9" fill="none" stroke="#1a1a1a" stroke-width="0.6" stroke-linejoin="bevel"/>
<path d="M222.5 222.3 222.8 223.7 223.1 223.8 223.4 223 223.7 223.4 224 223 224.3 222.6 224.6 222.3 224.9 222 225.2 223.3 225.5 222.8 225.8 224.6 226.1 222.8 226.4 224.3 226.7 223.9 227 222.3 227.3 223.3 227.6 223.1 227.9 223.2 228.2 224 228.5 223.9 228.8 222.9 229.1 223.7 229.4 223.4 229.7 223.1 230 223.6 230.3 223.4 230.6 216.8 230.9 220 231.2 222.3 231.5 221.7 231.8 223.7 232.1 222.5 232.4 222.8 232.7 223.4 233 223.2 233.3 223.5 233.6 223.1 233.9 223.6 234.2 224.1 234.5 223.3 234.8 222.6 235.1 222.5 235.4 223.4 235.7 223 236 223.4 236.3 223.3 236.6 223.5 236.9 224.5 237.2 223.6 237.5 223.7 237.8 223.2 238.1 223 238.4 223.5 238.7 223.4 239 222.7 239.3 223.8 239.6 224.2 239.9 223.4 240.2 223.2 240.5 223 240.8 223.4 241.1 223 241.4 222.9 241.7 223.2 242 223.7 242.3 222.8 242.6 222.9 242.9 222.5 243.2 223.4 243.5 222.1 243.8 223.5 244.1 222.5 244.4 223.6 244.7 223.9 245 223 245.3 222.6 245.6 222.8 245.9 223.2 246.2 223 246.5 223 246.8 223.4 247.1 224.1 247.4 223.4 247.7 223.1 248 223.6 248.3 223.4 248.6 223.3 248.9 223.1 249.2 222.9 249.5 222.6 249.8 223.6 250.1 223.9 250.4 222.9 250.7 223.6 251 224.8 251.3 223.6 251.6 223.9 251.9 223 252.2 223 252.5 223.8 252.8 222.9 253.1 220.5 253.4 221.9 253.7 223 254 222.7 254.3 222.6 254.6 222.7 254.9 219.1 255.2 222 255.5 221.9 255.8 224.2 256.1 222.9 256.4 222.8 256.7 222.6 257 223 257.3 223.3 257.6 223.5 257.9 223.8 258.2 223.7 258.5 222.2 258.8 222.5 259.1 222.6 259.4 222.6 259.7 223.9 260 223.3 260.3 222.8 260.6 223.6 260.9 222.7 261.2 223.9 261.5 221.3 261.8 222.4 262.1 223.6 262.4 223 262.7 223.2 263 222.6 263.3 222.7 263.6 222.9 263.9 223.5 264.2 223.5 264.5 223.2 264.8 222.8 265.1 223.9 265.4 224 265.7 223.3 266 222.5 266.3 223.1 266.6 223.5 266.9 223.3 267.2 223 267.5 222.9 267.8 222.6 268.1 223.3 268.4 223.3 268.7 222.6 269 222.8 269.3 222.1 269.6 222.5 269.9 223.4 270.2 224.1 270.5 222.7 270.8 223.6 271.1 223.2 271.4 223.6 271.7 222.6 272 223.1 272.3 223.9 272.6 222.9 272.9 222.6 273.2 223.3 273.5 222.9 273.8 222.9 274.1 223.2 274.4 224.1 274.7 223.2 275 218.1 275.3 221.3 275.6 222.8 275.9 222.6 276.2 222.5 276.5 222.3 276.8 223.3 277.1 223.1 277.4 223.7 277.7 223.3 278 222.5 278.3 222.4 278.6 223.8 278.9 223.9 279.2 223.4 279.5 223.9 279.8 222.5 280.1 223.6 280.4 224.1 280.7 222.2 281 223.1 281.3 223 281.6 224 281.9 222.3 282.2 222.1 282.5 223 282.8 223.7 283.1 223.8 283.4 223.8 283.7 224.2 284 223.7 284.3 223.5 284.6 223.6 284.9 223.9 285.2 223.1 285.5 223.3 285.8 222.8 286.1 223.3 286.4 223.8 286.7 223.6 287 221.2 287.3 223.3 287.6 222.3 287.9 223 288.2 222.9 288.5 223.1 288.8 222.2 289.1 223 289.4 223.1" fill="none" stroke="#1a1a1a" stroke-width="0.6" stroke-linejoin="bevel"/>
<path d="M222.5 242.6 222.8 242.2 223.1 243.4 223.4 242.7 223.7 243.3 224 242.2 224.3 243.1 224.6 243.1 224.9 242.6 225.2 242.4 225.5 244 225.8 243.5 226.1 243.3 226.4 242.4 226.7 243.4 227 243 227.3 243.6 227.6 242.6 227.9 242.6 228.2 242.2 228.5 241.9 228.8 241.9 229.1 242.5 229.4 242.7 229.7 243.5 230 243.7 230.3 242.4 230.6 241.6 230.9 242.8 231.2 242.9 231.5 242.5 231.8 242.2 232.1 242.3 232.4 242.8 232.7 242.8 233 241.8 233.3 242.6 233.6 242.2 233.9 234.4 234.2 239.4 234.5 240.9 234.8 242.2 235.1 241.2 235.4 242.8 235.7 242.7 236 242.4 236.3 242.2 236.6 241.9 236.9 242.1 237.2 240.6 237.5 241.6 237.8 242.1 238.1 242.1 238.4 242.3 238.7 242 239 242.8 239.3 243.1 239.6 242.2 239.9 243 240.2 242.5 240.5 242.8 240.8 242.2 241.1 243.1 241.4 243.5 241.7 242.4 242 242.5 242.3 243.2 242.6 242.3 242.9 242 243.2 241.4 243.5 242.4 243.8 243.3 244.1 242.3 244.4 242.6 244.7 241.4 245 242.4 245.3 242.6 245.6 242.3 245.9 242.4 246.2 242.1 246.5 242.2 246.8 239.9 247.1 240.7 247.4 242.7 247.7 241.7 248 243.2 248.3 242.6 248.6 243 248.9 242.6 249.2 242.9 249.5 243.9 249.8 241.5 250.1 242.4 250.4 242.9 250.7 243.4 251 242 251.3 242.7 251.6 243.1 251.9 242.4 252.2 242.7 252.5 242.8 252.8 241.2 253.1 242 253.4 242.5 253.7 242.2 254 242.4 254.3 243.8 254.6 242 254.9 242.5 255.2 242.3 255.5 242.7 255.8 242.2 256.1 243.1 256.4 242.3 256.7 242.4 257 241.9 257.3 242.5 257.6 241.9 257.9 242.5 258.2 242.9 258.5 241.8 258.8 243.6 259.1 238.3 259.4 240.8 259.7 241.6 260 242.8 260.3 242.8 260.6 242.4 260.9 242.7 261.2 242.7 261.5 242.3 261.8 243.4 262.1 238 262.4 241.2 262.7 241.5 263 237.2 263.3 240.3 263.6 241.8 263.9 243.1 264.2 242.3 264.5 242.9 264.8 242.9 265.1 242.8 265.4 242.1 265.7 242.7 266 241.9 266.3 243.3 266.6 243.4 266.9 242.8 267.2 243 267.5 242.7 267.8 241.8 268.1 242.5 268.4 243.2 268.7 242.7 269 242.3 269.3 241.2 269.6 243.2 269.9 243.5 270.2 243.6 270.5 244 270.8 239.9 271.1 242 271.4 242.7 271.7 242.3 272 242.8 272.3 243.3 272.6 242.4 272.9 243 273.2 242.2 273.5 241.5 273.8 242.7 274.1 243 274.4 243 274.7 243.1 275 242.2 275.3 243 275.6 241.1 275.9 242.8 276.2 242 276.5 242.7 276.8 242.1 277.1 242.8 277.4 243.1 277.7 243.2 278 242.4 278.3 243.4 278.6 242.8 278.9 243.4 279.2 242.7 279.5 242.1 279.8 242.7 280.1 242.2 280.4 242.2 280.7 241.6 281 242.8 281.3 243.4 281.6 242.1 281.9 242.6 282.2 241.9 282.5 242.9 282.8 243.2 283.1 242.7 283.4 243 283.7 243 284 242.6 284.3 237.2 284.6 239.3 284.9 241.6 285.2 242.3 285.5 242.8 285.8 243.3 286.1 239.6 286.4 241 286.7 241.9 287 242.3 287.3 242.1 287.6 239.2 287.9 241.7 288.2 241.6 288.5 242.5 288.8 242.6 289.1 242.6 289.4 243.2" fill="none" stroke="#1a1a1a" stroke-width="0.6" stroke-linejoin="bevel"/>
<path d="M222.5 259.1 222.8 259.1 223.1 259.2 223.4 258.7 223.7 258.5 224 255.3 224.3 258.4 224.6 257.6 224.9 258.4 225.2 258.7 225.5 258.3 225.8 259.4 226.1 258.5 226.4 258.7 226.7 258.8 227 259 227.3 258.1 227.6 259.4 227.9 258.5 228.2 259.3 228.5 259.3 228.8 259.6 229.1 258.5 229.4 259.1 229.7 259 230 258.5 230.3 259.5 230.6 259.2 230.9 258.9 231.2 258.7 231.5 258.3 231.8 259.8 232.1 258.4 232.4 258.9 232.7 259.2 233 259.2 233.3 258 233.6 258.3 233.9 258.2 234.2 257.8 234.5 258.7 234.8 259 235.1 258.6 235.4 259.3 235.7 259.1 236 259 236.3 259.8 236.6 258.3 236.9 259 237.2 259.1 237.5 259.2 237.8 256.6 238.1 257.8 238.4 258.8 238.7 258.8 239 258.9 239.3 258 239.6 259.1 239.9 259.4 240.2 259.1 240.5 259.5 240.8 259.6 241.1 259.7 241.4 258.3 241.7 249.7 242 255 242.3 257.2 242.6 258 242.9 258.7 243.2 258.4 243.5 259.2 243.8 258.6 244.1 258.9 244.4 258.3 244.7 258.9 245 259.5 245.3 258.6 245.6 259 245.9 258.3 246.2 258.7 246.5 258.8 246.8 258.5 247.1 258.7 247.4 258.7 247.7 250.7 248 255.5 248.3 257.6 248.6 258 248.9 258.6 249.2 259 249.5 258.7 249.8 259.5 250.1 258.9 250.4 259.1 250.7 259.2 251 258.6 251.3 259 251.6 259.4 251.9 259.3 252.2 249.6 252.5 255.8 252.8 257 253.1 257.9 253.4 251.6 253.7 256.3 254 257.8 254.3 258.9 254.6 257.7 254.9 259.1 255.2 258.2 255.5 259 255.8 258.5 256.1 258.6 256.4 258.8 256.7 259.5 257 258.7 257.3 259.5 257.6 260.2 257.9 258.6 258.2 252.1 258.5 256.5 258.8 257.1 259.1 257.7 259.4 258 259.7 258.6 260 259.2 260.3 258.6 260.6 258.7 260.9 258.7 261.2 258.4 261.5 259 261.8 259.1 262.1 259.2 262.4 259.5 262.7 259.7 263 258.4 263.3 259.3 263.6 250.1 263.9 255.5 264.2 257 264.5 257.5 264.8 259.4 265.1 258.7 265.4 252.4 265.7 255.7 266 257.5 266.3 257.5 266.6 258.3 266.9 259.2 267.2 258.5 267.5 259 267.8 258.8 268.1 259.5 268.4 258.5 268.7 259.1 269 249.8 269.3 254.5 269.6 256.9 269.9 258.3 270.2 258.9 270.5 258.8 270.8 257.8 271.1 259 271.4 259.5 271.7 254.5 272 257.2 272.3 258.4 272.6 258.3 272.9 258.9 273.2 258.3 273.5 259.7 273.8 259.9 274.1 259 274.4 259.1 274.7 259.4 275 259 275.3 259.2 275.6 258.9 275.9 259.3 276.2 258.8 276.5 258.8 276.8 258.6 277.1 259 277.4 250.8 277.7 256.4 278 258.3 278.3 257.9 278.6 258.7 278.9 259.5 279.2 259.1 279.5 258.8 279.8 259.2 280.1 258.2 280.4 259.2 280.7 258.6 281 251.9 281.3 255.9 281.6 258.1 281.9 259.4 282.2 259 282.5 259.4 282.8 258.6 283.1 258.4 283.4 259 283.7 258.9 284 258.2 284.3 258.8 284.6 258.4 284.9 258.3 285.2 259.4 285.5 259.1 285.8 259.3 286.1 254.8 286.4 257.5 286.7 258.4 287 258.3 287.3 258.8 287.6 258.7 287.9 259.4 288.2 258.6 288.5 258.9 288.8 258.7 289.1 258.2 289.4 258.3" fill="none" stroke="#1a1a1a" stroke-width="0.6" stroke-linejoin="bevel"/>
<path d="M222.5 278.6 222.8 278.5 223.1 278.9 223.4 279 223.7 279.3 224 279.7 224.3 278.5 224.6 279.3 224.9 279.3 225.2 278.6 225.5 278.9 225.8 276.5 226.1 278.5 226.4 278.4 226.7 272.6 227 276.1 227.3 277.7 227.6 274.6 227.9 277.3 228.2 278.6 228.5 278.9 228.8 278 229.1 278.4 229.4 279.4 229.7 278.4 230 279.2 230.3 279 230.6 279.5 230.9 280 231.2 278.7 231.5 279.2 231.8 279.2 232.1 279.4 232.4 278.6 232.7 278.6 233 278.5 233.3 278.1 233.6 278.3 233.9 279.6 234.2 279.8 234.5 279 234.8 279.2 235.1 278.8 235.4 279.6 235.7 279.2 236 278.4 236.3 279.3 236.6 278.9 236.9 278.5 237.2 279.4 237.5 278.4 237.8 278.6 238.1 278.8 238.4 279 238.7 275.4 239 276.5 239.3 279.1 239.6 279.1 239.9 279.6 240.2 279 240.5 278.7 240.8 278.7 241.1 279.3 241.4 279.2 241.7 278.6 242 278.6 242.3 277 242.6 277.8 242.9 278.3 243.2 278.5 243.5 279.2 243.8 279.1 244.1 279.2 244.4 279.2 244.7 280.3 245 279.3 245.3 278.5 245.6 279.6 245.9 278.5 246.2 279.3 246.5 279 246.8 280.2 247.1 279.3 247.4 280.2 247.7 279.2 248 278 248.3 280.2 248.6 279.8 248.9 278.6 249.2 278.5 249.5 278.5 249.8 278.8 250.1 278.2 250.4 277.7 250.7 278.9 251 278.8 251.3 278.2 251.6 278.8 251.9 279.4 252.2 280 252.5 274.5 252.8 276.8 253.1 278 253.4 279.4 253.7 280.2 254 277.7 254.3 278.8 254.6 279.9 254.9 278.6 255.2 278.8 255.5 274.2 255.8 277.2 256.1 278.6 256.4 278.7 256.7 279.1 257 279.2 257.3 278.9 257.6 279.2 257.9 279.1 258.2 279.4 258.5 279.5 258.8 278.9 259.1 278.5 259.4 278.6 259.7 279.9 260 278.8 260.3 279.9 260.6 278.5 260.9 278.9 261.2 278 261.5 278.7 261.8 279.6 262.1 278.4 262.4 280 262.7 278.8 263 281 263.3 279 263.6 279.5 263.9 279 264.2 278.3 264.5 279.1 264.8 279.3 265.1 279.2 265.4 278.8 265.7 278 266 278.9 266.3 278.4 266.6 279.1 266.9 279.6 267.2 280 267.5 278.4 267.8 278.6 268.1 278.4 268.4 279.5 268.7 278.8 269 279.2 269.3 278.5 269.6 279.7 269.9 279.4 270.2 278.5 270.5 278.4 270.8 278 271.1 278.2 271.4 277.9 271.7 279 272 280 272.3 279 272.6 278.3 272.9 278.7 273.2 278.8 273.5 279.1 273.8 279 274.1 279.4 274.4 278.7 274.7 278.6 275 278.7 275.3 274 275.6 276.1 275.9 277.5 276.2 274.4 276.5 277.1 276.8 279.3 277.1 279.2 277.4 279.8 277.7 278.7 278 278.9 278.3 279.3 278.6 279 278.9 278.8 279.2 278.7 279.5 274.8 279.8 277.6 280.1 279 280.4 278 280.7 278.5 281 276.4 281.3 279.2 281.6 280.1 281.9 278.5 282.2 279.6 282.5 279.4 282.8 279.1 283.1 278.4 283.4 278.9 283.7 278.6 284 279.3 284.3 279.7 284.6 279.1 284.9 274.2 285.2 277.2 285.5 277.7 285.8 279.2 286.1 278.8 286.4 278.4 286.7 279.5 287 279.5 287.3 278.5 287.6 278.7 287.9 279.5 288.2 278.9 288.5 278.9 288.8 279 289.1 279.2 289.4 279.2" fill="none" stroke="#1a1a1a" stroke-width="0.6" stroke-linejoin="bevel"/>
<line x1="188" y1="286.5" x2="195" y2="286.5" stroke="#231f20" stroke-width="1.1"/>
<line x1="165.7" y1="292" x2="165.7" y2="295" stroke="#231f20" stroke-width="1.6"/>
<path d="M311 19.8 V129.4 H421.5" fill="none" stroke="#231f20" stroke-width="1.2"/>
<line x1="311" y1="93" x2="313.8" y2="93" stroke="#231f20" stroke-width="1"/>
<line x1="347.7" y1="129.4" x2="347.7" y2="126.6" stroke="#231f20" stroke-width="1"/>
<line x1="311" y1="56.7" x2="313.8" y2="56.7" stroke="#231f20" stroke-width="1"/>
<line x1="384.3" y1="129.4" x2="384.3" y2="126.6" stroke="#231f20" stroke-width="1"/>
<line x1="311" y1="20.3" x2="313.8" y2="20.3" stroke="#231f20" stroke-width="1"/>
<line x1="421" y1="129.4" x2="421" y2="126.6" stroke="#231f20" stroke-width="1"/>
<line x1="311" y1="129.4" x2="396.5" y2="44" stroke="#231f20" stroke-width="1.2"/>
<circle cx="320.8" cy="97.9" r="1.9" fill="none" stroke="#231f20" stroke-width="0.85"/>
<circle cx="330.1" cy="112.8" r="1.9" fill="none" stroke="#231f20" stroke-width="0.85"/>
<circle cx="328.7" cy="81.6" r="1.9" fill="none" stroke="#231f20" stroke-width="0.85"/>
<circle cx="338.5" cy="46.8" r="1.9" fill="none" stroke="#231f20" stroke-width="0.85"/>
<circle cx="346.1" cy="42.9" r="1.9" fill="none" stroke="#231f20" stroke-width="0.85"/>
<circle cx="363" cy="38.9" r="1.9" fill="none" stroke="#231f20" stroke-width="0.85"/>
<circle cx="343.3" cy="52.7" r="1.9" fill="none" stroke="#231f20" stroke-width="0.85"/>
<circle cx="348.4" cy="53.5" r="1.9" fill="none" stroke="#231f20" stroke-width="0.85"/>
<circle cx="350.6" cy="49.9" r="1.9" fill="none" stroke="#231f20" stroke-width="0.85"/>
<circle cx="352.6" cy="52.7" r="1.9" fill="none" stroke="#231f20" stroke-width="0.85"/>
<circle cx="355.4" cy="54.4" r="1.9" fill="none" stroke="#231f20" stroke-width="0.85"/>
<circle cx="357.4" cy="56.9" r="1.9" fill="none" stroke="#231f20" stroke-width="0.85"/>
<circle cx="360.2" cy="51.3" r="1.9" fill="none" stroke="#231f20" stroke-width="0.85"/>
<circle cx="364.7" cy="56.9" r="1.9" fill="none" stroke="#231f20" stroke-width="0.85"/>
<circle cx="359.6" cy="59.7" r="1.9" fill="none" stroke="#231f20" stroke-width="0.85"/>
<circle cx="351.2" cy="57.8" r="1.9" fill="none" stroke="#231f20" stroke-width="0.85"/>
<circle cx="348.9" cy="62.8" r="1.9" fill="none" stroke="#231f20" stroke-width="0.85"/>
<circle cx="345" cy="66.7" r="1.9" fill="none" stroke="#231f20" stroke-width="0.85"/>
<circle cx="340.5" cy="70.4" r="1.9" fill="none" stroke="#231f20" stroke-width="0.85"/>
<circle cx="347" cy="67.6" r="1.9" fill="none" stroke="#231f20" stroke-width="0.85"/>
<circle cx="354" cy="70.4" r="1.9" fill="none" stroke="#231f20" stroke-width="0.85"/>
<circle cx="358.2" cy="71.2" r="1.9" fill="none" stroke="#231f20" stroke-width="0.85"/>
<circle cx="361.6" cy="65.6" r="1.9" fill="none" stroke="#231f20" stroke-width="0.85"/>
<circle cx="363.8" cy="68.4" r="1.9" fill="none" stroke="#231f20" stroke-width="0.85"/>
<circle cx="343.3" cy="76.6" r="1.9" fill="none" stroke="#231f20" stroke-width="0.85"/>
<circle cx="345.6" cy="77.4" r="1.9" fill="none" stroke="#231f20" stroke-width="0.85"/>
<circle cx="348.9" cy="78.3" r="1.9" fill="none" stroke="#231f20" stroke-width="0.85"/>
<circle cx="341.3" cy="82.5" r="1.9" fill="none" stroke="#231f20" stroke-width="0.85"/>
<circle cx="357.4" cy="80.2" r="1.9" fill="none" stroke="#231f20" stroke-width="0.85"/>
<circle cx="344.2" cy="91.5" r="1.9" fill="none" stroke="#231f20" stroke-width="0.85"/>
<circle cx="349.8" cy="93.4" r="1.9" fill="none" stroke="#231f20" stroke-width="0.85"/>
<circle cx="341.3" cy="99.3" r="1.9" fill="none" stroke="#231f20" stroke-width="0.85"/>
<circle cx="344.2" cy="100.4" r="1.9" fill="none" stroke="#231f20" stroke-width="0.85"/>
<path d="M314.1 187.3 V296.3 H423" fill="none" stroke="#231f20" stroke-width="1.2"/>
<line x1="314.1" y1="260.1" x2="316.9" y2="260.1" stroke="#231f20" stroke-width="1"/>
<line x1="350.2" y1="296.3" x2="350.2" y2="293.5" stroke="#231f20" stroke-width="1"/>
<line x1="314.1" y1="224" x2="316.9" y2="224" stroke="#231f20" stroke-width="1"/>
<line x1="386.4" y1="296.3" x2="386.4" y2="293.5" stroke="#231f20" stroke-width="1"/>
<line x1="314.1" y1="187.8" x2="316.9" y2="187.8" stroke="#231f20" stroke-width="1"/>
<line x1="422.5" y1="296.3" x2="422.5" y2="293.5" stroke="#231f20" stroke-width="1"/>
<line x1="314.1" y1="296.3" x2="416.3" y2="194.7" stroke="#231f20" stroke-width="1.2"/>
<circle cx="338.5" cy="273.9" r="1.9" fill="none" stroke="#231f20" stroke-width="0.85"/>
<circle cx="341.3" cy="271.6" r="1.9" fill="none" stroke="#231f20" stroke-width="0.85"/>
<circle cx="350.6" cy="260.4" r="1.9" fill="none" stroke="#231f20" stroke-width="0.85"/>
<circle cx="352.6" cy="262.1" r="1.9" fill="none" stroke="#231f20" stroke-width="0.85"/>
<circle cx="349.2" cy="264" r="1.9" fill="none" stroke="#231f20" stroke-width="0.85"/>
<circle cx="351.1" cy="266.9" r="1.9" fill="none" stroke="#231f20" stroke-width="0.85"/>
<circle cx="354" cy="266.9" r="1.9" fill="none" stroke="#231f20" stroke-width="0.85"/>
<circle cx="356.8" cy="267.7" r="1.9" fill="none" stroke="#231f20" stroke-width="0.85"/>
<circle cx="359.6" cy="266" r="1.9" fill="none" stroke="#231f20" stroke-width="0.85"/>
<circle cx="362.4" cy="265.5" r="1.9" fill="none" stroke="#231f20" stroke-width="0.85"/>
<circle cx="361" cy="269.7" r="1.9" fill="none" stroke="#231f20" stroke-width="0.85"/>
<circle cx="359" cy="271" r="1.9" fill="none" stroke="#231f20" stroke-width="0.85"/>
<circle cx="366.6" cy="259.3" r="1.9" fill="none" stroke="#231f20" stroke-width="0.85"/>
<circle cx="366" cy="262.1" r="1.9" fill="none" stroke="#231f20" stroke-width="0.85"/>
<circle cx="375" cy="247.2" r="1.9" fill="none" stroke="#231f20" stroke-width="0.85"/>
<circle cx="375" cy="254.8" r="1.9" fill="none" stroke="#231f20" stroke-width="0.85"/>
<circle cx="375" cy="261.2" r="1.9" fill="none" stroke="#231f20" stroke-width="0.85"/>
<circle cx="382.9" cy="246.6" r="1.9" fill="none" stroke="#231f20" stroke-width="0.85"/>
<circle cx="390.5" cy="254.2" r="1.9" fill="none" stroke="#231f20" stroke-width="0.85"/>
<circle cx="384.8" cy="262.1" r="1.9" fill="none" stroke="#231f20" stroke-width="0.85"/>
<circle cx="378.7" cy="271.6" r="1.9" fill="none" stroke="#231f20" stroke-width="0.85"/>
<circle cx="368.8" cy="273.9" r="1.9" fill="none" stroke="#231f20" stroke-width="0.85"/>
<circle cx="370.2" cy="275.3" r="1.9" fill="none" stroke="#231f20" stroke-width="0.85"/>
<circle cx="352.6" cy="279.5" r="1.9" fill="none" stroke="#231f20" stroke-width="0.85"/>
<circle cx="356.2" cy="279.5" r="1.9" fill="none" stroke="#231f20" stroke-width="0.85"/>
<circle cx="351.1" cy="264.3" r="1.9" fill="none" stroke="#231f20" stroke-width="0.85"/>
<circle cx="354.5" cy="264.3" r="1.9" fill="none" stroke="#231f20" stroke-width="0.85"/>
<path fill="#cedeef" d="M433.4 32.6h2v3.4h-2zM440.5 32.6h1v3.4h-1zM442.5 32.6h1v3.4h-1zM445.5 32.6h2v3.4h-2zM448.5 32.6h1v3.4h-1zM454.6 32.6h1v3.4h-1zM457.6 32.6h5v3.4h-5zM463.7 32.6h1v3.4h-1zM483.8 32.6h1v3.4h-1zM487.8 32.6h1v3.4h-1zM490.9 32.6h1v3.4h-1zM498.9 32.6h3v3.4h-3zM503 32.6h1v3.4h-1zM436.4 36h1v3.4h-1zM438.5 36h4v3.4h-4zM444.5 36h1v3.4h-1zM446.5 36h1v3.4h-1zM448.5 36h4v3.4h-4zM453.6 36h1v3.4h-1zM455.6 36h1v3.4h-1zM458.6 36h1v3.4h-1zM465.7 36h1v3.4h-1zM467.7 36h1v3.4h-1zM470.7 36h1v3.4h-1zM474.7 36h1v3.4h-1zM477.8 36h1v3.4h-1zM480.8 36h1v3.4h-1zM484.8 36h1v3.4h-1zM488.9 36h1v3.4h-1zM499.9 36h2v3.4h-2zM505 36h2v3.4h-2zM472.7 39.5h1v3.4h-1zM432.4 42.9h1v3.4h-1zM434.4 42.9h1v3.4h-1zM438.5 42.9h1v3.4h-1zM443.5 42.9h1v3.4h-1zM446.5 42.9h1v3.4h-1zM451.6 42.9h1v3.4h-1zM454.6 42.9h1v3.4h-1zM459.6 42.9h1v3.4h-1zM461.6 42.9h1v3.4h-1zM463.7 42.9h2v3.4h-2zM467.7 42.9h1v3.4h-1zM472.7 42.9h1v3.4h-1zM478.8 42.9h3v3.4h-3zM482.8 42.9h1v3.4h-1zM488.9 42.9h2v3.4h-2zM493.9 42.9h1v3.4h-1zM497.9 42.9h1v3.4h-1zM502 42.9h1v3.4h-1zM456.6 46.3h1v3.4h-1zM463.7 46.3h2v3.4h-2zM468.7 46.3h2v3.4h-2zM471.7 46.3h1v3.4h-1zM477.8 46.3h1v3.4h-1zM479.8 46.3h1v3.4h-1zM489.9 46.3h3v3.4h-3zM495.9 46.3h2v3.4h-2zM504 46.3h1v3.4h-1zM442.5 49.8h1v3.4h-1zM450.6 53.2h1v3.4h-1zM465.7 60.1h2v3.4h-2zM432.4 63.5h2v3.4h-2zM438.5 63.5h2v3.4h-2zM450.6 63.5h1v3.4h-1zM455.6 63.5h1v3.4h-1zM459.6 63.5h1v3.4h-1zM463.7 63.5h1v3.4h-1zM468.7 63.5h1v3.4h-1zM472.7 63.5h1v3.4h-1zM491.9 63.5h1v3.4h-1zM497.9 63.5h1v3.4h-1zM502 63.5h2v3.4h-2zM440.5 67h1v3.4h-1zM453.6 67h1v3.4h-1zM470.7 67h1v3.4h-1zM487.8 67h1v3.4h-1zM495.9 67h1v3.4h-1zM431.4 73.8h1v3.4h-1zM444.5 73.8h1v3.4h-1zM453.6 73.8h2v3.4h-2zM456.6 73.8h1v3.4h-1zM460.6 73.8h1v3.4h-1zM464.7 73.8h1v3.4h-1zM469.7 73.8h1v3.4h-1zM471.7 73.8h2v3.4h-2zM478.8 73.8h5v3.4h-5zM486.8 73.8h1v3.4h-1zM491.9 73.8h1v3.4h-1zM493.9 73.8h2v3.4h-2zM502 73.8h1v3.4h-1zM504 73.8h2v3.4h-2zM504 77.3h1v3.4h-1zM486.8 80.7h1v3.4h-1zM432.4 84.1h1v3.4h-1zM435.4 84.1h1v3.4h-1zM437.4 84.1h1v3.4h-1zM444.5 84.1h3v3.4h-3zM448.5 84.1h1v3.4h-1zM455.6 84.1h2v3.4h-2zM460.6 84.1h2v3.4h-2zM463.7 84.1h1v3.4h-1zM468.7 84.1h1v3.4h-1zM470.7 84.1h1v3.4h-1zM474.7 84.1h1v3.4h-1zM476.8 84.1h1v3.4h-1zM478.8 84.1h2v3.4h-2zM482.8 84.1h1v3.4h-1zM486.8 84.1h7.1v3.4h-7.1zM495.9 84.1h1v3.4h-1zM498.9 84.1h1v3.4h-1zM501 84.1h1v3.4h-1zM504 84.1h2v3.4h-2zM439.5 87.6h1v3.4h-1zM494.9 87.6h1v3.4h-1zM431.4 97.9h2v3.4h-2zM436.4 97.9h1v3.4h-1zM438.5 97.9h2v3.4h-2zM443.5 97.9h3v3.4h-3zM447.5 97.9h1v3.4h-1zM452.6 97.9h1v3.4h-1zM456.6 97.9h1v3.4h-1zM469.7 97.9h3v3.4h-3zM475.8 97.9h1v3.4h-1zM487.8 97.9h1v3.4h-1zM502 97.9h1v3.4h-1zM505 97.9h2v3.4h-2zM433.4 101.3h1v3.4h-1zM442.5 101.3h1v3.4h-1zM475.8 101.3h1v3.4h-1zM489.9 104.7h1v3.4h-1zM437.4 111.6h1v3.4h-1zM444.5 111.6h1v3.4h-1zM475.8 111.6h1v3.4h-1zM498.9 111.6h1v3.4h-1zM503 111.6h1v3.4h-1zM431.4 115h1v3.4h-1zM434.4 115h1v3.4h-1zM449.5 115h1v3.4h-1zM452.6 115h1v3.4h-1zM456.6 115h1v3.4h-1zM473.7 115h2v3.4h-2zM482.8 115h1v3.4h-1zM484.8 115h2v3.4h-2zM487.8 115h1v3.4h-1zM489.9 115h1v3.4h-1zM497.9 115h2v3.4h-2zM501 115h1v3.4h-1zM503 115h2v3.4h-2zM435.4 118.5h1v3.4h-1zM440.5 118.5h3v3.4h-3zM445.5 118.5h2v3.4h-2zM449.5 118.5h1v3.4h-1zM452.6 118.5h1v3.4h-1zM457.6 118.5h1v3.4h-1zM459.6 118.5h1v3.4h-1zM461.6 118.5h2v3.4h-2zM464.7 118.5h1v3.4h-1zM466.7 118.5h2v3.4h-2zM471.7 118.5h1v3.4h-1zM478.8 118.5h2v3.4h-2zM484.8 118.5h3v3.4h-3zM488.9 118.5h1v3.4h-1zM495.9 118.5h1v3.4h-1zM497.9 118.5h1v3.4h-1zM434.4 121.9h2v3.4h-2zM437.4 121.9h1v3.4h-1zM440.5 121.9h1v3.4h-1zM451.6 121.9h1v3.4h-1zM453.6 121.9h1v3.4h-1zM456.6 121.9h1v3.4h-1zM465.7 121.9h2v3.4h-2zM470.7 121.9h1v3.4h-1zM473.7 121.9h1v3.4h-1zM476.8 121.9h1v3.4h-1zM485.8 121.9h1v3.4h-1zM497.9 121.9h1v3.4h-1zM499.9 121.9h1v3.4h-1zM502 121.9h1v3.4h-1zM504 121.9h1v3.4h-1zM448.5 128.8h1v3.4h-1zM485.8 128.8h1v3.4h-1zM504 128.8h1v3.4h-1zM445.5 135.7h1v3.4h-1zM475.8 135.7h1v3.4h-1zM436.4 142.5h1v3.4h-1zM439.5 142.5h2v3.4h-2zM443.5 142.5h2v3.4h-2zM451.6 142.5h1v3.4h-1zM455.6 142.5h1v3.4h-1zM459.6 142.5h1v3.4h-1zM463.7 142.5h1v3.4h-1zM465.7 142.5h2v3.4h-2zM469.7 142.5h2v3.4h-2zM475.8 142.5h1v3.4h-1zM477.8 142.5h1v3.4h-1zM479.8 142.5h1v3.4h-1zM484.8 142.5h1v3.4h-1zM488.9 142.5h1v3.4h-1zM491.9 142.5h1v3.4h-1zM495.9 142.5h1v3.4h-1zM499.9 142.5h2v3.4h-2z"/>
<path fill="#a7c4e2" d="M464.7 32.6h6v3.4h-6zM472.7 32.6h1v3.4h-1zM476.8 32.6h4v3.4h-4zM481.8 32.6h1v3.4h-1zM485.8 36h1v3.4h-1zM470.7 49.8h1v3.4h-1zM458.6 53.2h1v3.4h-1zM463.7 53.2h1v3.4h-1zM468.7 53.2h1v3.4h-1zM459.6 56.6h1v3.4h-1zM493.9 56.6h1v3.4h-1zM482.8 60.1h1v3.4h-1zM489.9 60.1h1v3.4h-1zM487.8 63.5h1v3.4h-1zM505 63.5h1v3.4h-1zM458.6 67h1v3.4h-1zM460.6 67h1v3.4h-1zM506 67h1v3.4h-1zM438.5 70.4h1v3.4h-1zM493.9 77.3h1v3.4h-1zM432.4 80.7h1v3.4h-1zM452.6 80.7h1v3.4h-1zM463.7 80.7h1v3.4h-1zM495.9 80.7h1v3.4h-1zM505 80.7h1v3.4h-1zM466.7 87.6h1v3.4h-1zM485.8 87.6h1v3.4h-1zM503 87.6h1v3.4h-1zM432.4 91h1v3.4h-1zM453.6 94.4h11.1v3.4h-11.1zM494.9 104.7h1v3.4h-1zM447.5 108.2h1v3.4h-1zM482.8 108.2h1v3.4h-1zM490.9 108.2h1v3.4h-1zM454.6 111.6h1v3.4h-1zM451.6 115h1v3.4h-1zM496.9 115h1v3.4h-1zM454.6 118.5h1v3.4h-1zM498.9 118.5h1v3.4h-1zM502 118.5h1v3.4h-1zM454.6 121.9h1v3.4h-1zM456.6 125.4h1v3.4h-1zM497.9 125.4h1v3.4h-1zM436.4 128.8h2v3.4h-2zM482.8 128.8h1v3.4h-1zM505 128.8h1v3.4h-1zM436.4 132.2h1v3.4h-1zM473.7 132.2h1v3.4h-1zM452.6 135.7h1v3.4h-1zM485.8 135.7h1v3.4h-1zM497.9 135.7h1v3.4h-1zM504 142.5h1v3.4h-1zM464.7 146h1v3.4h-1zM490.9 146h1v3.4h-1zM492.9 146h1v3.4h-1zM505 146h1v3.4h-1z"/>
<path fill="#82abd7" d="M470.7 32.6h2v3.4h-2zM473.7 32.6h3v3.4h-3zM480.8 32.6h1v3.4h-1z"/>
<path fill="#3e7ec0" d="M433.4 39.5h2v3.4h-2z"/>
<path fill="#eccbd1" d="M431.4 39.5h1v3.4h-1zM435.4 39.5h1v3.4h-1zM437.4 39.5h1v3.4h-1zM441.5 39.5h1v3.4h-1zM443.5 39.5h1v3.4h-1zM464.7 39.5h1v3.4h-1zM468.7 39.5h1v3.4h-1zM471.7 39.5h1v3.4h-1zM476.8 39.5h1v3.4h-1zM479.8 39.5h1v3.4h-1zM485.8 39.5h2v3.4h-2zM489.9 39.5h1v3.4h-1zM493.9 39.5h1v3.4h-1zM497.9 39.5h1v3.4h-1zM441.5 42.9h1v3.4h-1zM482.8 49.8h1v3.4h-1zM484.8 49.8h1v3.4h-1zM431.4 53.2h1v3.4h-1zM433.4 53.2h1v3.4h-1zM437.4 53.2h1v3.4h-1zM439.5 53.2h1v3.4h-1zM442.5 53.2h1v3.4h-1zM446.5 53.2h3v3.4h-3zM457.6 53.2h1v3.4h-1zM459.6 53.2h1v3.4h-1zM464.7 53.2h2v3.4h-2zM467.7 53.2h1v3.4h-1zM482.8 53.2h1v3.4h-1zM484.8 53.2h1v3.4h-1zM490.9 53.2h1v3.4h-1zM496.9 53.2h1v3.4h-1zM501 53.2h2v3.4h-2zM504 53.2h1v3.4h-1zM506 53.2h1v3.4h-1zM445.5 56.6h1v3.4h-1zM448.5 56.6h1v3.4h-1zM482.8 56.6h1v3.4h-1zM491.9 56.6h1v3.4h-1zM494.9 56.6h1v3.4h-1zM442.5 60.1h1v3.4h-1zM494.9 60.1h1v3.4h-1zM502 60.1h1v3.4h-1zM442.5 63.5h1v3.4h-1zM490.9 63.5h1v3.4h-1zM490.9 67h1v3.4h-1zM450.6 70.4h1v3.4h-1zM459.6 70.4h1v3.4h-1zM461.6 70.4h1v3.4h-1zM490.9 70.4h1v3.4h-1zM446.5 73.8h1v3.4h-1zM449.5 73.8h1v3.4h-1zM459.6 73.8h1v3.4h-1zM461.6 73.8h1v3.4h-1zM446.5 77.3h1v3.4h-1zM461.6 77.3h1v3.4h-1zM434.4 87.6h1v3.4h-1zM470.7 87.6h1v3.4h-1zM434.4 91h2v3.4h-2zM470.7 91h1v3.4h-1zM435.4 94.4h1v3.4h-1zM468.7 94.4h1v3.4h-1zM473.7 94.4h1v3.4h-1zM485.8 94.4h1v3.4h-1zM434.4 97.9h1v3.4h-1zM442.5 97.9h1v3.4h-1zM455.6 97.9h1v3.4h-1zM459.6 97.9h1v3.4h-1zM468.7 97.9h1v3.4h-1zM473.7 97.9h1v3.4h-1zM431.4 101.3h2v3.4h-2zM435.4 101.3h2v3.4h-2zM438.5 101.3h1v3.4h-1zM443.5 101.3h1v3.4h-1zM448.5 101.3h1v3.4h-1zM453.6 101.3h2v3.4h-2zM456.6 101.3h1v3.4h-1zM468.7 101.3h2v3.4h-2zM473.7 101.3h2v3.4h-2zM480.8 101.3h4v3.4h-4zM486.8 101.3h1v3.4h-1zM488.9 101.3h5v3.4h-5zM496.9 101.3h1v3.4h-1zM503 101.3h2v3.4h-2zM505 104.7h1v3.4h-1zM444.5 108.2h1v3.4h-1zM493.9 121.9h1v3.4h-1zM442.5 128.8h1v3.4h-1zM462.6 128.8h1v3.4h-1zM465.7 128.8h1v3.4h-1zM442.5 132.2h1v3.4h-1zM438.5 139.1h1v3.4h-1zM437.4 142.5h1v3.4h-1zM453.6 142.5h1v3.4h-1zM483.8 142.5h1v3.4h-1zM444.5 146h1v3.4h-1zM452.6 146h2v3.4h-2zM501 146h2v3.4h-2z"/>
<path fill="#dda1ac" d="M449.5 32.6h1v3.4h-1zM495.9 32.6h1v3.4h-1zM454.6 36h1v3.4h-1zM457.6 36h1v3.4h-1zM462.6 36h1v3.4h-1zM476.8 36h1v3.4h-1zM495.9 36h1v3.4h-1zM440.5 39.5h1v3.4h-1zM450.6 39.5h1v3.4h-1zM452.6 39.5h2v3.4h-2zM475.8 39.5h1v3.4h-1zM473.7 46.3h1v3.4h-1zM453.6 49.8h1v3.4h-1zM462.6 49.8h1v3.4h-1zM469.7 49.8h1v3.4h-1zM491.9 49.8h1v3.4h-1zM462.6 53.2h1v3.4h-1zM469.7 53.2h1v3.4h-1zM474.7 53.2h1v3.4h-1zM486.8 53.2h1v3.4h-1zM492.9 53.2h1v3.4h-1zM436.4 56.6h9.1v3.4h-9.1zM446.5 56.6h2v3.4h-2zM449.5 56.6h3v3.4h-3zM474.7 56.6h1v3.4h-1zM486.8 56.6h1v3.4h-1zM492.9 56.6h1v3.4h-1zM443.5 60.1h1v3.4h-1zM492.9 60.1h1v3.4h-1zM501 60.1h1v3.4h-1zM466.7 63.5h1v3.4h-1zM432.4 67h1v3.4h-1zM501 67h1v3.4h-1zM432.4 70.4h1v3.4h-1zM435.4 70.4h1v3.4h-1zM446.5 70.4h1v3.4h-1zM473.7 73.8h1v3.4h-1zM435.4 77.3h1v3.4h-1zM498.9 77.3h1v3.4h-1zM475.8 80.7h2v3.4h-2zM488.9 80.7h2v3.4h-2zM475.8 84.1h1v3.4h-1zM502 84.1h1v3.4h-1zM461.6 87.6h1v3.4h-1zM502 87.6h1v3.4h-1zM483.8 91h1v3.4h-1zM495.9 91h1v3.4h-1zM501 91h1v3.4h-1zM438.5 94.4h1v3.4h-1zM451.6 94.4h1v3.4h-1zM466.7 94.4h1v3.4h-1zM470.7 94.4h1v3.4h-1zM475.8 94.4h1v3.4h-1zM481.8 94.4h3v3.4h-3zM495.9 94.4h1v3.4h-1zM497.9 94.4h1v3.4h-1zM446.5 97.9h1v3.4h-1zM451.6 97.9h1v3.4h-1zM458.6 97.9h1v3.4h-1zM461.6 97.9h6v3.4h-6zM476.8 97.9h1v3.4h-1zM482.8 97.9h1v3.4h-1zM495.9 97.9h1v3.4h-1zM503 97.9h1v3.4h-1zM437.4 101.3h1v3.4h-1zM455.6 101.3h1v3.4h-1zM458.6 101.3h1v3.4h-1zM461.6 101.3h6v3.4h-6zM495.9 101.3h1v3.4h-1zM437.4 104.7h1v3.4h-1zM448.5 104.7h1v3.4h-1zM461.6 104.7h6v3.4h-6zM495.9 104.7h1v3.4h-1zM448.5 108.2h1v3.4h-1zM458.6 108.2h1v3.4h-1zM461.6 108.2h6v3.4h-6zM468.7 108.2h1v3.4h-1zM451.6 111.6h1v3.4h-1zM458.6 111.6h1v3.4h-1zM463.7 111.6h1v3.4h-1zM468.7 111.6h1v3.4h-1zM468.7 115h1v3.4h-1zM478.8 115h1v3.4h-1zM488.9 115h1v3.4h-1zM463.7 118.5h1v3.4h-1zM468.7 118.5h1v3.4h-1zM491.9 118.5h1v3.4h-1zM432.4 121.9h1v3.4h-1zM468.7 121.9h1v3.4h-1zM472.7 121.9h1v3.4h-1zM491.9 121.9h1v3.4h-1zM496.9 121.9h1v3.4h-1zM503 121.9h1v3.4h-1zM445.5 125.4h1v3.4h-1zM470.7 125.4h1v3.4h-1zM478.8 125.4h1v3.4h-1zM496.9 125.4h1v3.4h-1zM433.4 128.8h1v3.4h-1zM445.5 128.8h1v3.4h-1zM476.8 128.8h1v3.4h-1zM476.8 132.2h1v3.4h-1zM487.8 132.2h1v3.4h-1zM496.9 132.2h1v3.4h-1zM506 132.2h1v3.4h-1zM492.9 139.1h1v3.4h-1zM503 139.1h1v3.4h-1zM449.5 142.5h1v3.4h-1zM452.6 142.5h1v3.4h-1zM492.9 142.5h1v3.4h-1zM467.7 146h1v3.4h-1z"/>
<path fill="#cf7a8a" d="M444.5 39.5h6v3.4h-6zM451.6 39.5h1v3.4h-1zM454.6 39.5h6v3.4h-6zM505 39.5h1v3.4h-1zM453.6 42.9h1v3.4h-1zM466.7 42.9h1v3.4h-1zM462.6 46.3h1v3.4h-1zM449.5 49.8h4v3.4h-4zM454.6 49.8h8.1v3.4h-8.1zM463.7 49.8h2v3.4h-2zM478.8 49.8h1v3.4h-1zM443.5 53.2h1v3.4h-1zM470.7 53.2h1v3.4h-1zM491.9 53.2h1v3.4h-1zM453.6 56.6h1v3.4h-1zM485.8 56.6h1v3.4h-1zM436.4 60.1h1v3.4h-1zM457.6 63.5h1v3.4h-1zM496.9 70.4h1v3.4h-1zM499.9 70.4h1v3.4h-1zM458.6 73.8h1v3.4h-1zM496.9 73.8h1v3.4h-1zM501 73.8h1v3.4h-1zM453.6 80.7h1v3.4h-1zM484.8 80.7h1v3.4h-1zM492.9 80.7h1v3.4h-1zM440.5 94.4h1v3.4h-1zM489.9 94.4h1v3.4h-1zM496.9 94.4h1v3.4h-1zM496.9 97.9h1v3.4h-1zM445.5 101.3h1v3.4h-1zM488.9 104.7h1v3.4h-1zM496.9 104.7h1v3.4h-1zM433.4 121.9h1v3.4h-1zM442.5 121.9h1v3.4h-1zM444.5 121.9h1v3.4h-1zM475.8 121.9h1v3.4h-1zM488.9 121.9h1v3.4h-1zM498.9 121.9h1v3.4h-1zM488.9 125.4h1v3.4h-1zM498.9 125.4h1v3.4h-1zM488.9 128.8h1v3.4h-1zM488.9 132.2h1v3.4h-1zM488.9 135.7h1v3.4h-1z"/>
<path fill="#c1566a" d="M466.7 36h1v3.4h-1zM466.7 39.5h1v3.4h-1zM492.9 39.5h1v3.4h-1zM498.9 39.5h1v3.4h-1zM492.9 42.9h1v3.4h-1zM498.9 42.9h1v3.4h-1zM434.4 46.3h1v3.4h-1zM436.4 46.3h3v3.4h-3zM445.5 46.3h2v3.4h-2zM450.6 46.3h1v3.4h-1zM466.7 46.3h1v3.4h-1zM482.8 46.3h1v3.4h-1zM498.9 46.3h1v3.4h-1zM465.7 49.8h2v3.4h-2zM498.9 49.8h1v3.4h-1zM456.6 53.2h1v3.4h-1zM495.9 53.2h1v3.4h-1zM495.9 56.6h1v3.4h-1zM433.4 73.8h1v3.4h-1zM437.4 73.8h1v3.4h-1zM441.5 80.7h1v3.4h-1zM456.6 80.7h1v3.4h-1zM439.5 94.4h1v3.4h-1zM442.5 94.4h1v3.4h-1zM445.5 94.4h1v3.4h-1zM480.8 94.4h1v3.4h-1zM490.9 94.4h1v3.4h-1zM499.9 94.4h1v3.4h-1zM504 94.4h1v3.4h-1zM441.5 97.9h1v3.4h-1zM453.6 97.9h1v3.4h-1zM477.8 97.9h1v3.4h-1zM450.6 101.3h1v3.4h-1zM471.7 101.3h2v3.4h-2zM488.9 108.2h1v3.4h-1zM431.4 111.6h1v3.4h-1zM459.6 115h2v3.4h-2zM462.6 115h1v3.4h-1zM506 118.5h1v3.4h-1zM442.5 125.4h1v3.4h-1zM449.5 125.4h1v3.4h-1zM474.7 125.4h1v3.4h-1zM487.8 125.4h1v3.4h-1zM456.6 128.8h2v3.4h-2zM460.6 128.8h2v3.4h-2zM466.7 128.8h8.1v3.4h-8.1zM445.5 132.2h1v3.4h-1zM456.6 132.2h1v3.4h-1zM474.7 132.2h1v3.4h-1zM494.9 132.2h1v3.4h-1zM456.6 135.7h1v3.4h-1zM450.6 139.1h1v3.4h-1zM455.6 139.1h1v3.4h-1zM431.4 142.5h2v3.4h-2zM471.7 142.5h1v3.4h-1zM432.4 146h1v3.4h-1zM462.6 146h1v3.4h-1z"/>
<path fill="#b4324a" d="M502 36h1v3.4h-1zM461.6 39.5h2v3.4h-2zM506 39.5h1v3.4h-1zM447.5 42.9h2v3.4h-2zM431.4 46.3h3v3.4h-3zM435.4 46.3h1v3.4h-1zM439.5 46.3h6v3.4h-6zM447.5 46.3h3v3.4h-3zM451.6 46.3h4v3.4h-4zM492.9 46.3h1v3.4h-1zM486.8 49.8h1v3.4h-1zM462.6 60.1h1v3.4h-1zM490.9 60.1h1v3.4h-1zM495.9 60.1h1v3.4h-1zM432.4 73.8h1v3.4h-1zM434.4 73.8h3v3.4h-3zM438.5 73.8h6v3.4h-6zM491.9 80.7h1v3.4h-1zM434.4 94.4h1v3.4h-1zM443.5 94.4h2v3.4h-2zM446.5 94.4h5v3.4h-5zM476.8 94.4h1v3.4h-1zM492.9 94.4h1v3.4h-1zM501 94.4h3v3.4h-3zM472.7 97.9h1v3.4h-1zM441.5 101.3h1v3.4h-1zM449.5 101.3h1v3.4h-1zM441.5 104.7h1v3.4h-1zM453.6 104.7h7.1v3.4h-7.1zM432.4 111.6h1v3.4h-1zM435.4 115h7.1v3.4h-7.1zM445.5 115h1v3.4h-1zM458.6 115h1v3.4h-1zM461.6 115h1v3.4h-1zM463.7 115h4v3.4h-4zM459.6 121.9h1v3.4h-1zM474.7 121.9h1v3.4h-1zM480.8 121.9h1v3.4h-1zM480.8 125.4h1v3.4h-1zM482.8 125.4h1v3.4h-1zM455.6 128.8h1v3.4h-1zM458.6 128.8h2v3.4h-2zM431.4 139.1h1v3.4h-1zM448.5 139.1h2v3.4h-2zM451.6 139.1h4v3.4h-4zM456.6 139.1h4v3.4h-4zM505 139.1h1v3.4h-1zM478.8 142.5h1v3.4h-1z"/>
<path fill="#a8102c" d="M451.6 101.3h1v3.4h-1z"/>
<path fill="#cedeef" d="M514 32.6h1v3.4h-1zM519 32.6h1v3.4h-1zM521 32.6h2v3.4h-2zM534 32.6h1v3.4h-1zM537 32.6h2v3.4h-2zM548 32.6h4v3.4h-4zM554 32.6h1v3.4h-1zM561 32.6h1v3.4h-1zM565 32.6h3v3.4h-3zM571 32.6h1v3.4h-1zM575 32.6h2v3.4h-2zM578 32.6h6v3.4h-6zM585 32.6h1v3.4h-1zM523 36h2v3.4h-2zM554 36h1v3.4h-1zM514 39.5h12v3.4h-12zM527 39.5h2v3.4h-2zM516 42.9h2v3.4h-2zM521 42.9h1v3.4h-1zM541 42.9h1v3.4h-1zM544 42.9h7v3.4h-7zM557 42.9h3v3.4h-3zM561 42.9h1v3.4h-1zM563 42.9h1v3.4h-1zM566 42.9h4v3.4h-4zM571 42.9h2v3.4h-2zM574 42.9h1v3.4h-1zM584 42.9h1v3.4h-1zM586 42.9h1v3.4h-1zM541 46.3h1v3.4h-1zM560 46.3h1v3.4h-1zM583 46.3h1v3.4h-1zM560 49.8h1v3.4h-1zM533 53.2h10v3.4h-10zM544 53.2h1v3.4h-1zM515 56.6h1v3.4h-1zM518 56.6h1v3.4h-1zM530 56.6h3v3.4h-3zM539 56.6h2v3.4h-2zM542 56.6h1v3.4h-1zM546 56.6h1v3.4h-1zM549 56.6h1v3.4h-1zM553 56.6h1v3.4h-1zM561 56.6h2v3.4h-2zM566 56.6h1v3.4h-1zM572 56.6h1v3.4h-1zM575 56.6h1v3.4h-1zM585 56.6h1v3.4h-1zM536 60.1h1v3.4h-1zM515 63.5h2v3.4h-2zM525 63.5h1v3.4h-1zM528 63.5h1v3.4h-1zM532 63.5h1v3.4h-1zM539 63.5h1v3.4h-1zM561 63.5h1v3.4h-1zM563 63.5h1v3.4h-1zM575 63.5h1v3.4h-1zM582 63.5h1v3.4h-1zM585 63.5h1v3.4h-1zM587 63.5h1v3.4h-1zM522 67h1v3.4h-1zM525 67h1v3.4h-1zM528 67h2v3.4h-2zM532 67h1v3.4h-1zM535 67h1v3.4h-1zM540 67h1v3.4h-1zM547 67h1v3.4h-1zM559 67h1v3.4h-1zM563 67h1v3.4h-1zM566 67h3v3.4h-3zM575 67h1v3.4h-1zM580 67h1v3.4h-1zM582 67h1v3.4h-1zM587 67h1v3.4h-1zM513 70.4h1v3.4h-1zM516 70.4h1v3.4h-1zM518 70.4h1v3.4h-1zM521 70.4h1v3.4h-1zM524 70.4h1v3.4h-1zM526 70.4h1v3.4h-1zM529 70.4h1v3.4h-1zM541 70.4h1v3.4h-1zM543 70.4h2v3.4h-2zM549 70.4h1v3.4h-1zM552 70.4h1v3.4h-1zM555 70.4h2v3.4h-2zM559 70.4h2v3.4h-2zM562 70.4h2v3.4h-2zM568 70.4h4v3.4h-4zM574 70.4h4v3.4h-4zM582 70.4h1v3.4h-1zM585 70.4h3v3.4h-3zM572 73.8h1v3.4h-1zM532 77.3h1v3.4h-1zM551 77.3h1v3.4h-1zM562 77.3h1v3.4h-1zM564 77.3h1v3.4h-1zM577 77.3h1v3.4h-1zM532 80.7h1v3.4h-1zM537 80.7h1v3.4h-1zM527 84.1h1v3.4h-1zM532 84.1h1v3.4h-1zM537 84.1h1v3.4h-1zM539 84.1h1v3.4h-1zM542 84.1h2v3.4h-2zM557 84.1h1v3.4h-1zM562 84.1h2v3.4h-2zM586 84.1h1v3.4h-1zM576 87.6h1v3.4h-1zM522 91h1v3.4h-1zM524 91h1v3.4h-1zM527 91h1v3.4h-1zM530 91h2v3.4h-2zM533 91h1v3.4h-1zM538 91h3v3.4h-3zM543 91h2v3.4h-2zM548 91h1v3.4h-1zM550 91h2v3.4h-2zM553 91h2v3.4h-2zM561 91h1v3.4h-1zM574 91h2v3.4h-2zM584 91h1v3.4h-1zM513 94.4h1v3.4h-1zM515 94.4h1v3.4h-1zM517 94.4h3v3.4h-3zM523 94.4h5v3.4h-5zM513 101.3h1v3.4h-1zM516 101.3h2v3.4h-2zM521 101.3h1v3.4h-1zM523 101.3h1v3.4h-1zM527 101.3h4v3.4h-4zM533 101.3h1v3.4h-1zM536 101.3h1v3.4h-1zM544 101.3h1v3.4h-1zM546 101.3h1v3.4h-1zM550 101.3h1v3.4h-1zM554 101.3h1v3.4h-1zM559 101.3h1v3.4h-1zM561 101.3h1v3.4h-1zM563 101.3h1v3.4h-1zM565 101.3h1v3.4h-1zM567 101.3h1v3.4h-1zM571 101.3h1v3.4h-1zM573 101.3h4v3.4h-4zM578 101.3h1v3.4h-1zM585 101.3h1v3.4h-1zM521 104.7h1v3.4h-1zM517 108.2h1v3.4h-1zM525 108.2h2v3.4h-2zM530 108.2h1v3.4h-1zM534 108.2h1v3.4h-1zM542 108.2h1v3.4h-1zM544 108.2h1v3.4h-1zM547 108.2h1v3.4h-1zM557 108.2h1v3.4h-1zM559 108.2h4v3.4h-4zM566 108.2h1v3.4h-1zM569 108.2h1v3.4h-1zM583 108.2h1v3.4h-1zM513 115h1v3.4h-1zM517 115h1v3.4h-1zM529 115h1v3.4h-1zM540 115h1v3.4h-1zM560 115h1v3.4h-1zM567 115h1v3.4h-1zM575 115h2v3.4h-2zM579 115h1v3.4h-1zM584 115h1v3.4h-1zM586 115h1v3.4h-1zM554 118.5h1v3.4h-1zM533 121.9h1v3.4h-1zM549 121.9h1v3.4h-1zM567 128.8h1v3.4h-1zM576 139.1h1v3.4h-1zM568 142.5h2v3.4h-2zM571 142.5h2v3.4h-2zM574 142.5h1v3.4h-1zM579 142.5h1v3.4h-1zM583 142.5h1v3.4h-1zM586 142.5h2v3.4h-2zM568 146h1v3.4h-1z"/>
<path fill="#a7c4e2" d="M568 32.6h1v3.4h-1zM522 36h1v3.4h-1zM525 36h7v3.4h-7zM558 36h1v3.4h-1zM526 39.5h1v3.4h-1zM529 39.5h2v3.4h-2zM549 39.5h1v3.4h-1zM574 39.5h1v3.4h-1zM526 42.9h1v3.4h-1zM528 42.9h1v3.4h-1zM539 42.9h1v3.4h-1zM530 46.3h1v3.4h-1zM548 46.3h1v3.4h-1zM567 46.3h1v3.4h-1zM530 49.8h1v3.4h-1zM573 49.8h1v3.4h-1zM543 53.2h1v3.4h-1zM523 56.6h7v3.4h-7zM555 56.6h1v3.4h-1zM545 60.1h1v3.4h-1zM575 60.1h1v3.4h-1zM581 60.1h1v3.4h-1zM541 63.5h12v3.4h-12zM581 63.5h1v3.4h-1zM586 63.5h1v3.4h-1zM552 67h1v3.4h-1zM578 67h1v3.4h-1zM519 70.4h1v3.4h-1zM551 70.4h1v3.4h-1zM532 73.8h1v3.4h-1zM556 73.8h1v3.4h-1zM515 77.3h2v3.4h-2zM520 77.3h2v3.4h-2zM523 77.3h4v3.4h-4zM528 77.3h4v3.4h-4zM534 77.3h3v3.4h-3zM538 77.3h1v3.4h-1zM540 77.3h2v3.4h-2zM538 80.7h1v3.4h-1zM585 84.1h1v3.4h-1zM554 87.6h1v3.4h-1zM561 87.6h1v3.4h-1zM571 91h1v3.4h-1zM514 94.4h1v3.4h-1zM516 94.4h1v3.4h-1zM522 94.4h1v3.4h-1zM528 94.4h12v3.4h-12zM514 97.9h1v3.4h-1zM536 97.9h1v3.4h-1zM554 104.7h1v3.4h-1zM566 104.7h1v3.4h-1zM573 104.7h1v3.4h-1zM543 108.2h1v3.4h-1zM520 111.6h1v3.4h-1zM526 111.6h1v3.4h-1zM530 111.6h1v3.4h-1zM514 115h2v3.4h-2zM518 115h6v3.4h-6zM525 115h2v3.4h-2zM531 115h2v3.4h-2zM535 115h1v3.4h-1zM537 115h3v3.4h-3zM543 115h1v3.4h-1zM545 115h2v3.4h-2zM548 115h2v3.4h-2zM553 115h1v3.4h-1zM555 115h1v3.4h-1zM557 115h1v3.4h-1zM559 115h1v3.4h-1zM561 115h1v3.4h-1zM569 115h1v3.4h-1zM519 118.5h1v3.4h-1zM579 118.5h1v3.4h-1zM585 121.9h1v3.4h-1zM531 125.4h1v3.4h-1zM569 125.4h1v3.4h-1zM587 125.4h1v3.4h-1zM576 132.2h1v3.4h-1zM544 135.7h1v3.4h-1zM553 135.7h1v3.4h-1zM540 139.1h1v3.4h-1zM518 142.5h2v3.4h-2zM521 142.5h10v3.4h-10zM547 146h1v3.4h-1zM581 146h1v3.4h-1zM584 146h1v3.4h-1z"/>
<path fill="#82abd7" d="M534 36h1v3.4h-1zM536 36h3v3.4h-3zM532 46.3h1v3.4h-1zM534 46.3h1v3.4h-1zM536 46.3h1v3.4h-1zM529 49.8h1v3.4h-1zM531 49.8h1v3.4h-1zM513 60.1h4v3.4h-4zM571 63.5h1v3.4h-1zM513 67h1v3.4h-1zM517 77.3h1v3.4h-1zM519 77.3h1v3.4h-1zM527 77.3h1v3.4h-1zM533 77.3h1v3.4h-1zM539 77.3h1v3.4h-1zM544 77.3h1v3.4h-1zM554 77.3h8v3.4h-8zM575 94.4h13v3.4h-13zM518 111.6h2v3.4h-2zM521 111.6h5v3.4h-5zM527 111.6h3v3.4h-3zM531 111.6h2v3.4h-2zM563 111.6h4v3.4h-4zM568 111.6h1v3.4h-1zM516 115h1v3.4h-1zM528 115h1v3.4h-1zM534 115h1v3.4h-1zM536 115h1v3.4h-1zM541 115h2v3.4h-2zM544 115h1v3.4h-1zM550 115h2v3.4h-2zM554 115h1v3.4h-1zM558 115h1v3.4h-1zM542 128.8h6v3.4h-6zM550 128.8h1v3.4h-1zM559 128.8h8v3.4h-8zM520 142.5h1v3.4h-1zM531 142.5h1v3.4h-1zM544 142.5h1v3.4h-1zM547 142.5h1v3.4h-1zM550 142.5h5v3.4h-5zM578 146h3v3.4h-3zM582 146h2v3.4h-2zM585 146h3v3.4h-3z"/>
<path fill="#6094cb" d="M539 32.6h1v3.4h-1zM541 32.6h6v3.4h-6zM535 36h1v3.4h-1zM557 36h1v3.4h-1zM533 46.3h1v3.4h-1zM535 46.3h1v3.4h-1zM550 53.2h1v3.4h-1zM555 53.2h1v3.4h-1zM569 63.5h2v3.4h-2zM572 63.5h3v3.4h-3zM514 67h4v3.4h-4zM519 67h2v3.4h-2zM567 111.6h1v3.4h-1zM551 128.8h4v3.4h-4zM528 135.7h8v3.4h-8zM537 135.7h1v3.4h-1zM532 142.5h1v3.4h-1zM536 142.5h1v3.4h-1zM541 142.5h1v3.4h-1zM543 142.5h1v3.4h-1zM545 142.5h2v3.4h-2zM548 142.5h2v3.4h-2z"/>
<path fill="#3e7ec0" d="M540 32.6h1v3.4h-1zM547 32.6h1v3.4h-1zM556 36h1v3.4h-1zM549 49.8h7v3.4h-7zM549 53.2h1v3.4h-1zM551 53.2h4v3.4h-4zM518 67h1v3.4h-1zM536 135.7h1v3.4h-1zM538 135.7h1v3.4h-1zM533 142.5h3v3.4h-3zM537 142.5h4v3.4h-4z"/>
<path fill="#eccbd1" d="M555 32.6h1v3.4h-1zM563 32.6h1v3.4h-1zM555 36h1v3.4h-1zM514 42.9h1v3.4h-1zM513 49.8h1v3.4h-1zM519 49.8h1v3.4h-1zM524 49.8h1v3.4h-1zM527 49.8h1v3.4h-1zM522 53.2h1v3.4h-1zM524 53.2h1v3.4h-1zM527 53.2h1v3.4h-1zM522 56.6h1v3.4h-1zM557 56.6h2v3.4h-2zM540 60.1h1v3.4h-1zM540 63.5h1v3.4h-1zM576 63.5h1v3.4h-1zM530 67h1v3.4h-1zM550 67h1v3.4h-1zM576 67h1v3.4h-1zM579 67h1v3.4h-1zM548 70.4h1v3.4h-1zM548 73.8h1v3.4h-1zM563 73.8h1v3.4h-1zM585 77.3h1v3.4h-1zM553 84.1h1v3.4h-1zM523 91h1v3.4h-1zM564 91h1v3.4h-1zM513 97.9h1v3.4h-1zM535 97.9h1v3.4h-1zM557 97.9h1v3.4h-1zM559 97.9h1v3.4h-1zM514 101.3h1v3.4h-1zM586 101.3h1v3.4h-1zM514 104.7h1v3.4h-1zM555 104.7h1v3.4h-1zM577 104.7h1v3.4h-1zM514 108.2h1v3.4h-1zM549 108.2h1v3.4h-1zM554 108.2h1v3.4h-1zM564 108.2h1v3.4h-1zM574 108.2h1v3.4h-1zM577 108.2h1v3.4h-1zM514 111.6h1v3.4h-1zM559 111.6h1v3.4h-1zM562 111.6h1v3.4h-1zM574 111.6h1v3.4h-1zM563 115h1v3.4h-1zM574 115h1v3.4h-1zM581 115h1v3.4h-1zM563 118.5h1v3.4h-1zM581 118.5h1v3.4h-1zM547 121.9h1v3.4h-1zM563 121.9h1v3.4h-1zM581 121.9h1v3.4h-1zM528 125.4h1v3.4h-1zM572 125.4h1v3.4h-1zM581 125.4h1v3.4h-1zM516 132.2h2v3.4h-2zM519 132.2h1v3.4h-1zM521 132.2h1v3.4h-1zM528 132.2h2v3.4h-2zM532 132.2h2v3.4h-2zM535 132.2h2v3.4h-2zM538 132.2h1v3.4h-1zM542 132.2h1v3.4h-1zM545 132.2h1v3.4h-1zM547 132.2h1v3.4h-1zM554 132.2h1v3.4h-1zM557 132.2h1v3.4h-1zM560 132.2h1v3.4h-1zM564 132.2h1v3.4h-1zM566 132.2h1v3.4h-1zM568 132.2h2v3.4h-2zM573 132.2h1v3.4h-1zM578 132.2h1v3.4h-1zM581 132.2h2v3.4h-2zM585 132.2h1v3.4h-1zM524 135.7h2v3.4h-2zM515 139.1h1v3.4h-1zM520 139.1h1v3.4h-1zM524 139.1h1v3.4h-1zM530 139.1h1v3.4h-1zM515 142.5h1v3.4h-1zM515 146h1v3.4h-1zM538 146h1v3.4h-1zM543 146h1v3.4h-1z"/>
<path fill="#dda1ac" d="M558 32.6h1v3.4h-1zM577 32.6h1v3.4h-1zM585 36h1v3.4h-1zM543 39.5h1v3.4h-1zM554 39.5h1v3.4h-1zM542 42.9h1v3.4h-1zM554 42.9h1v3.4h-1zM517 49.8h2v3.4h-2zM522 49.8h1v3.4h-1zM559 49.8h1v3.4h-1zM585 49.8h1v3.4h-1zM587 49.8h1v3.4h-1zM587 53.2h1v3.4h-1zM541 56.6h1v3.4h-1zM552 56.6h1v3.4h-1zM587 56.6h1v3.4h-1zM520 60.1h1v3.4h-1zM552 60.1h1v3.4h-1zM549 67h1v3.4h-1zM554 67h1v3.4h-1zM572 67h1v3.4h-1zM581 67h1v3.4h-1zM554 70.4h1v3.4h-1zM527 73.8h1v3.4h-1zM554 73.8h1v3.4h-1zM517 80.7h1v3.4h-1zM531 80.7h1v3.4h-1zM517 84.1h1v3.4h-1zM523 84.1h1v3.4h-1zM531 84.1h1v3.4h-1zM538 84.1h1v3.4h-1zM565 84.1h1v3.4h-1zM573 84.1h1v3.4h-1zM581 84.1h1v3.4h-1zM524 87.6h1v3.4h-1zM572 87.6h1v3.4h-1zM586 91h1v3.4h-1zM552 94.4h1v3.4h-1zM558 94.4h1v3.4h-1zM537 97.9h1v3.4h-1zM549 97.9h1v3.4h-1zM554 97.9h1v3.4h-1zM582 97.9h1v3.4h-1zM524 101.3h1v3.4h-1zM537 101.3h1v3.4h-1zM548 101.3h1v3.4h-1zM553 101.3h1v3.4h-1zM581 101.3h1v3.4h-1zM583 101.3h1v3.4h-1zM553 104.7h1v3.4h-1zM586 104.7h1v3.4h-1zM524 108.2h1v3.4h-1zM546 108.2h1v3.4h-1zM553 108.2h1v3.4h-1zM555 108.2h1v3.4h-1zM536 111.6h1v3.4h-1zM546 111.6h1v3.4h-1zM555 111.6h1v3.4h-1zM556 115h1v3.4h-1zM565 115h1v3.4h-1zM514 118.5h1v3.4h-1zM541 118.5h1v3.4h-1zM514 121.9h1v3.4h-1zM537 121.9h1v3.4h-1zM541 121.9h2v3.4h-2zM517 125.4h1v3.4h-1zM541 125.4h2v3.4h-2zM545 125.4h1v3.4h-1zM547 125.4h2v3.4h-2zM558 125.4h1v3.4h-1zM567 125.4h1v3.4h-1zM574 125.4h2v3.4h-2zM541 128.8h1v3.4h-1zM548 128.8h1v3.4h-1zM558 128.8h1v3.4h-1zM515 132.2h1v3.4h-1zM548 132.2h1v3.4h-1zM567 132.2h1v3.4h-1zM515 135.7h1v3.4h-1zM548 135.7h1v3.4h-1zM569 135.7h2v3.4h-2zM519 139.1h1v3.4h-1zM533 139.1h1v3.4h-1zM538 139.1h1v3.4h-1zM548 139.1h1v3.4h-1zM569 139.1h2v3.4h-2zM580 139.1h2v3.4h-2zM585 139.1h1v3.4h-1zM516 142.5h1v3.4h-1zM564 142.5h1v3.4h-1zM570 142.5h1v3.4h-1zM573 142.5h1v3.4h-1zM580 142.5h1v3.4h-1zM516 146h1v3.4h-1zM522 146h1v3.4h-1zM526 146h1v3.4h-1zM549 146h1v3.4h-1zM553 146h1v3.4h-1zM569 146h1v3.4h-1zM572 146h5v3.4h-5z"/>
<path fill="#cf7a8a" d="M531 32.6h1v3.4h-1zM584 32.6h1v3.4h-1zM584 36h1v3.4h-1zM517 46.3h1v3.4h-1zM548 49.8h1v3.4h-1zM571 49.8h2v3.4h-2zM523 53.2h1v3.4h-1zM533 56.6h2v3.4h-2zM554 56.6h1v3.4h-1zM571 56.6h1v3.4h-1zM534 60.1h1v3.4h-1zM554 60.1h1v3.4h-1zM571 60.1h1v3.4h-1zM518 63.5h3v3.4h-3zM523 63.5h2v3.4h-2zM523 67h1v3.4h-1zM558 67h1v3.4h-1zM582 73.8h1v3.4h-1zM533 84.1h1v3.4h-1zM572 84.1h1v3.4h-1zM586 87.6h1v3.4h-1zM533 97.9h1v3.4h-1zM555 101.3h1v3.4h-1zM584 104.7h1v3.4h-1zM565 108.2h1v3.4h-1zM584 108.2h1v3.4h-1zM577 111.6h1v3.4h-1zM577 115h1v3.4h-1zM556 125.4h1v3.4h-1zM570 128.8h1v3.4h-1zM576 128.8h9v3.4h-9zM570 132.2h1v3.4h-1zM579 132.2h1v3.4h-1zM542 142.5h1v3.4h-1zM556 142.5h1v3.4h-1zM525 146h1v3.4h-1zM542 146h1v3.4h-1zM570 146h2v3.4h-2zM577 146h1v3.4h-1z"/>
<path fill="#c1566a" d="M524 32.6h1v3.4h-1zM541 49.8h1v3.4h-1zM543 49.8h1v3.4h-1zM574 49.8h1v3.4h-1zM543 56.6h1v3.4h-1zM517 63.5h1v3.4h-1zM521 63.5h2v3.4h-2zM538 67h1v3.4h-1zM535 70.4h1v3.4h-1zM537 70.4h2v3.4h-2zM540 70.4h1v3.4h-1zM557 73.8h1v3.4h-1zM577 84.1h1v3.4h-1zM559 87.6h1v3.4h-1zM555 91h1v3.4h-1zM544 94.4h1v3.4h-1zM555 94.4h1v3.4h-1zM571 94.4h1v3.4h-1zM553 97.9h1v3.4h-1zM555 97.9h1v3.4h-1zM558 97.9h1v3.4h-1zM528 108.2h1v3.4h-1zM552 125.4h1v3.4h-1zM570 125.4h1v3.4h-1zM577 125.4h1v3.4h-1zM556 146h1v3.4h-1z"/>
<path fill="#b4324a" d="M583 56.6h1v3.4h-1zM583 60.1h1v3.4h-1zM583 63.5h1v3.4h-1zM534 70.4h1v3.4h-1zM536 70.4h1v3.4h-1zM539 70.4h1v3.4h-1zM581 70.4h1v3.4h-1zM572 94.4h1v3.4h-1zM542 104.7h1v3.4h-1zM544 104.7h6v3.4h-6zM562 104.7h1v3.4h-1zM542 118.5h1v3.4h-1zM576 121.9h1v3.4h-1zM523 125.4h1v3.4h-1zM568 125.4h1v3.4h-1zM576 125.4h1v3.4h-1z"/>
<path fill="#a8102c" d="M557 70.4h1v3.4h-1zM551 84.1h1v3.4h-1zM543 104.7h1v3.4h-1zM523 128.8h1v3.4h-1z"/>
<path fill="#cedeef" d="M432.4 181.8h1v3.4h-1zM434.4 181.8h1v3.4h-1zM436.4 181.8h1v3.4h-1zM438.5 181.8h1v3.4h-1zM441.5 181.8h1v3.4h-1zM453.6 181.8h1v3.4h-1zM458.6 181.8h2v3.4h-2zM461.6 181.8h1v3.4h-1zM467.7 181.8h1v3.4h-1zM473.7 181.8h1v3.4h-1zM479.8 181.8h1v3.4h-1zM482.8 181.8h2v3.4h-2zM485.8 181.8h1v3.4h-1zM491.9 181.8h1v3.4h-1zM493.9 181.8h1v3.4h-1zM499.9 181.8h3v3.4h-3zM504 181.8h1v3.4h-1zM431.4 185.2h36.3v3.4h-36.3zM472.7 185.2h32.3v3.4h-32.3zM431.4 188.6h1v3.4h-1zM452.6 188.6h1v3.4h-1zM470.7 188.6h2v3.4h-2zM473.7 188.6h1v3.4h-1zM475.8 188.6h3v3.4h-3zM480.8 188.6h1v3.4h-1zM483.8 188.6h4v3.4h-4zM488.9 188.6h1v3.4h-1zM490.9 188.6h1v3.4h-1zM492.9 188.6h1v3.4h-1zM494.9 188.6h1v3.4h-1zM496.9 188.6h1v3.4h-1zM499.9 188.6h1v3.4h-1zM502 188.6h1v3.4h-1zM504 188.6h1v3.4h-1zM506 188.6h1v3.4h-1zM438.5 192h1v3.4h-1zM502 192h1v3.4h-1zM434.4 195.4h2v3.4h-2zM438.5 195.4h2v3.4h-2zM441.5 195.4h2v3.4h-2zM444.5 195.4h2v3.4h-2zM448.5 195.4h1v3.4h-1zM451.6 195.4h3v3.4h-3zM455.6 195.4h1v3.4h-1zM457.6 195.4h1v3.4h-1zM460.6 195.4h2v3.4h-2zM473.7 195.4h1v3.4h-1zM483.8 195.4h2v3.4h-2zM488.9 195.4h1v3.4h-1zM492.9 195.4h1v3.4h-1zM495.9 195.4h1v3.4h-1zM501 195.4h1v3.4h-1zM505 195.4h1v3.4h-1zM431.4 198.9h1v3.4h-1zM439.5 198.9h1v3.4h-1zM446.5 198.9h1v3.4h-1zM448.5 198.9h1v3.4h-1zM450.6 198.9h1v3.4h-1zM453.6 198.9h2v3.4h-2zM457.6 198.9h1v3.4h-1zM462.6 198.9h2v3.4h-2zM469.7 198.9h1v3.4h-1zM471.7 198.9h1v3.4h-1zM476.8 198.9h1v3.4h-1zM481.8 198.9h3v3.4h-3zM485.8 198.9h2v3.4h-2zM495.9 198.9h1v3.4h-1zM499.9 198.9h2v3.4h-2zM503 198.9h1v3.4h-1zM432.4 202.3h4v3.4h-4zM441.5 202.3h1v3.4h-1zM444.5 202.3h2v3.4h-2zM451.6 202.3h1v3.4h-1zM454.6 202.3h1v3.4h-1zM457.6 202.3h1v3.4h-1zM459.6 202.3h1v3.4h-1zM462.6 202.3h3v3.4h-3zM466.7 202.3h2v3.4h-2zM469.7 202.3h5v3.4h-5zM476.8 202.3h1v3.4h-1zM478.8 202.3h1v3.4h-1zM482.8 202.3h1v3.4h-1zM487.8 202.3h1v3.4h-1zM490.9 202.3h6v3.4h-6zM497.9 202.3h1v3.4h-1zM502 202.3h2v3.4h-2zM431.4 205.7h1v3.4h-1zM437.4 205.7h2v3.4h-2zM440.5 205.7h2v3.4h-2zM443.5 205.7h2v3.4h-2zM450.6 205.7h1v3.4h-1zM453.6 205.7h1v3.4h-1zM457.6 205.7h1v3.4h-1zM459.6 205.7h5v3.4h-5zM468.7 205.7h2v3.4h-2zM479.8 205.7h1v3.4h-1zM483.8 205.7h1v3.4h-1zM485.8 205.7h1v3.4h-1zM487.8 205.7h1v3.4h-1zM490.9 205.7h1v3.4h-1zM492.9 205.7h3v3.4h-3zM496.9 205.7h2v3.4h-2zM503 209.1h1v3.4h-1zM505 209.1h1v3.4h-1zM431.4 212.5h3v3.4h-3zM435.4 212.5h1v3.4h-1zM438.5 212.5h2v3.4h-2zM441.5 212.5h6v3.4h-6zM449.5 212.5h1v3.4h-1zM452.6 212.5h3v3.4h-3zM457.6 212.5h2v3.4h-2zM463.7 212.5h1v3.4h-1zM465.7 212.5h1v3.4h-1zM468.7 212.5h1v3.4h-1zM470.7 212.5h2v3.4h-2zM473.7 212.5h1v3.4h-1zM476.8 212.5h3v3.4h-3zM481.8 212.5h1v3.4h-1zM485.8 212.5h1v3.4h-1zM487.8 212.5h3v3.4h-3zM491.9 212.5h2v3.4h-2zM496.9 212.5h5v3.4h-5zM503 212.5h1v3.4h-1zM505 212.5h1v3.4h-1zM435.4 215.9h1v3.4h-1zM473.7 215.9h2v3.4h-2zM483.8 215.9h1v3.4h-1zM487.8 215.9h1v3.4h-1zM491.9 215.9h1v3.4h-1zM494.9 215.9h1v3.4h-1zM496.9 215.9h1v3.4h-1zM503 215.9h1v3.4h-1zM431.4 219.3h1v3.4h-1zM434.4 219.3h1v3.4h-1zM436.4 219.3h1v3.4h-1zM438.5 219.3h1v3.4h-1zM442.5 219.3h1v3.4h-1zM445.5 219.3h1v3.4h-1zM447.5 219.3h2v3.4h-2zM450.6 219.3h3v3.4h-3zM455.6 219.3h1v3.4h-1zM468.7 219.3h1v3.4h-1zM472.7 219.3h4v3.4h-4zM481.8 219.3h1v3.4h-1zM483.8 219.3h1v3.4h-1zM485.8 219.3h1v3.4h-1zM487.8 219.3h1v3.4h-1zM489.9 219.3h3v3.4h-3zM493.9 219.3h1v3.4h-1zM497.9 219.3h1v3.4h-1zM501 219.3h4v3.4h-4zM506 219.3h1v3.4h-1zM431.4 222.7h1v3.4h-1zM434.4 222.7h1v3.4h-1zM436.4 222.7h1v3.4h-1zM439.5 222.7h1v3.4h-1zM442.5 222.7h1v3.4h-1zM450.6 222.7h1v3.4h-1zM452.6 222.7h1v3.4h-1zM458.6 222.7h1v3.4h-1zM461.6 222.7h1v3.4h-1zM463.7 222.7h2v3.4h-2zM466.7 222.7h3v3.4h-3zM471.7 222.7h1v3.4h-1zM474.7 222.7h1v3.4h-1zM476.8 222.7h1v3.4h-1zM478.8 222.7h6v3.4h-6zM485.8 222.7h2v3.4h-2zM488.9 222.7h1v3.4h-1zM490.9 222.7h1v3.4h-1zM493.9 222.7h1v3.4h-1zM495.9 222.7h1v3.4h-1zM498.9 222.7h1v3.4h-1zM501 222.7h2v3.4h-2zM504 222.7h1v3.4h-1zM440.5 226.2h1v3.4h-1zM445.5 226.2h1v3.4h-1zM494.9 226.2h1v3.4h-1zM503 226.2h1v3.4h-1zM431.4 229.6h4v3.4h-4zM436.4 229.6h2v3.4h-2zM442.5 229.6h4v3.4h-4zM449.5 229.6h1v3.4h-1zM451.6 229.6h4v3.4h-4zM458.6 229.6h1v3.4h-1zM460.6 229.6h2v3.4h-2zM463.7 229.6h2v3.4h-2zM466.7 229.6h1v3.4h-1zM468.7 229.6h1v3.4h-1zM472.7 229.6h1v3.4h-1zM474.7 229.6h1v3.4h-1zM478.8 229.6h1v3.4h-1zM481.8 229.6h1v3.4h-1zM484.8 229.6h4v3.4h-4zM490.9 229.6h2v3.4h-2zM493.9 229.6h1v3.4h-1zM506 229.6h1v3.4h-1zM448.5 233h1v3.4h-1zM468.7 233h1v3.4h-1zM432.4 236.4h1v3.4h-1zM447.5 236.4h1v3.4h-1zM453.6 236.4h1v3.4h-1zM474.7 236.4h1v3.4h-1zM491.9 236.4h1v3.4h-1zM431.4 239.8h1v3.4h-1zM439.5 239.8h2v3.4h-2zM442.5 239.8h2v3.4h-2zM445.5 239.8h1v3.4h-1zM449.5 239.8h3v3.4h-3zM454.6 239.8h1v3.4h-1zM459.6 239.8h2v3.4h-2zM462.6 239.8h1v3.4h-1zM464.7 239.8h1v3.4h-1zM466.7 239.8h2v3.4h-2zM470.7 239.8h4v3.4h-4zM476.8 239.8h1v3.4h-1zM478.8 239.8h1v3.4h-1zM481.8 239.8h4v3.4h-4zM487.8 239.8h1v3.4h-1zM489.9 239.8h2v3.4h-2zM496.9 239.8h5v3.4h-5zM503 239.8h1v3.4h-1zM434.4 243.2h1v3.4h-1zM437.4 243.2h2v3.4h-2zM441.5 243.2h1v3.4h-1zM448.5 243.2h1v3.4h-1zM450.6 243.2h1v3.4h-1zM454.6 243.2h2v3.4h-2zM459.6 243.2h2v3.4h-2zM464.7 243.2h1v3.4h-1zM471.7 243.2h1v3.4h-1zM476.8 243.2h1v3.4h-1zM479.8 243.2h1v3.4h-1zM491.9 243.2h1v3.4h-1zM493.9 243.2h1v3.4h-1zM497.9 243.2h4v3.4h-4zM506 243.2h1v3.4h-1zM432.4 246.6h1v3.4h-1zM472.7 246.6h1v3.4h-1zM431.4 250h1v3.4h-1zM434.4 250h2v3.4h-2zM442.5 250h1v3.4h-1zM445.5 250h2v3.4h-2zM452.6 250h2v3.4h-2zM471.7 250h1v3.4h-1zM476.8 250h1v3.4h-1zM480.8 250h1v3.4h-1zM482.8 250h1v3.4h-1zM493.9 250h1v3.4h-1zM495.9 250h3v3.4h-3zM499.9 250h1v3.4h-1zM502 250h1v3.4h-1zM506 250h1v3.4h-1zM432.4 253.4h1v3.4h-1zM438.5 253.4h1v3.4h-1zM444.5 253.4h1v3.4h-1zM446.5 253.4h2v3.4h-2zM449.5 253.4h2v3.4h-2zM456.6 253.4h1v3.4h-1zM458.6 253.4h1v3.4h-1zM469.7 253.4h1v3.4h-1zM472.7 253.4h2v3.4h-2zM480.8 253.4h1v3.4h-1zM483.8 253.4h1v3.4h-1zM486.8 253.4h1v3.4h-1zM493.9 253.4h1v3.4h-1zM498.9 253.4h1v3.4h-1zM501 253.4h1v3.4h-1zM505 253.4h1v3.4h-1zM431.4 256.9h1v3.4h-1zM436.4 256.9h1v3.4h-1zM465.7 256.9h1v3.4h-1zM437.4 260.3h1v3.4h-1zM465.7 260.3h1v3.4h-1zM486.8 260.3h1v3.4h-1zM499.9 260.3h1v3.4h-1zM431.4 263.7h2v3.4h-2zM434.4 263.7h1v3.4h-1zM439.5 263.7h2v3.4h-2zM444.5 263.7h1v3.4h-1zM447.5 263.7h1v3.4h-1zM450.6 263.7h1v3.4h-1zM453.6 263.7h1v3.4h-1zM462.6 263.7h1v3.4h-1zM464.7 263.7h3v3.4h-3zM470.7 263.7h1v3.4h-1zM474.7 263.7h2v3.4h-2zM478.8 263.7h1v3.4h-1zM481.8 263.7h5v3.4h-5zM487.8 263.7h2v3.4h-2zM491.9 263.7h1v3.4h-1zM499.9 263.7h1v3.4h-1zM502 263.7h1v3.4h-1zM434.4 267.1h3v3.4h-3zM438.5 267.1h5v3.4h-5zM446.5 267.1h1v3.4h-1zM450.6 267.1h2v3.4h-2zM453.6 267.1h1v3.4h-1zM456.6 267.1h1v3.4h-1zM460.6 267.1h3v3.4h-3zM464.7 267.1h3v3.4h-3zM469.7 267.1h1v3.4h-1zM471.7 267.1h2v3.4h-2zM474.7 267.1h1v3.4h-1zM476.8 267.1h3v3.4h-3zM482.8 267.1h2v3.4h-2zM486.8 267.1h6v3.4h-6zM493.9 267.1h1v3.4h-1zM496.9 267.1h4v3.4h-4zM503 267.1h1v3.4h-1zM433.4 270.5h1v3.4h-1zM435.4 270.5h1v3.4h-1zM437.4 270.5h1v3.4h-1zM442.5 270.5h1v3.4h-1zM444.5 270.5h1v3.4h-1zM446.5 270.5h4v3.4h-4zM452.6 270.5h2v3.4h-2zM457.6 270.5h1v3.4h-1zM460.6 270.5h2v3.4h-2zM466.7 270.5h1v3.4h-1zM468.7 270.5h1v3.4h-1zM470.7 270.5h1v3.4h-1zM472.7 270.5h1v3.4h-1zM474.7 270.5h1v3.4h-1zM477.8 270.5h2v3.4h-2zM484.8 270.5h1v3.4h-1zM487.8 270.5h3v3.4h-3zM494.9 270.5h3v3.4h-3zM498.9 270.5h3v3.4h-3zM504 270.5h1v3.4h-1zM478.8 273.9h1v3.4h-1zM432.4 277.3h2v3.4h-2zM435.4 277.3h1v3.4h-1zM438.5 277.3h3v3.4h-3zM443.5 277.3h1v3.4h-1zM449.5 277.3h2v3.4h-2zM453.6 277.3h1v3.4h-1zM460.6 277.3h1v3.4h-1zM463.7 277.3h5v3.4h-5zM470.7 277.3h2v3.4h-2zM473.7 277.3h1v3.4h-1zM476.8 277.3h1v3.4h-1zM479.8 277.3h1v3.4h-1zM483.8 277.3h1v3.4h-1zM485.8 277.3h1v3.4h-1zM487.8 277.3h1v3.4h-1zM491.9 277.3h1v3.4h-1zM494.9 277.3h1v3.4h-1zM497.9 277.3h1v3.4h-1zM501 277.3h1v3.4h-1zM503 277.3h1v3.4h-1zM505 277.3h2v3.4h-2zM438.5 284.2h1v3.4h-1zM461.6 284.2h1v3.4h-1zM496.9 284.2h1v3.4h-1zM431.4 287.6h2v3.4h-2zM435.4 287.6h1v3.4h-1zM439.5 287.6h1v3.4h-1zM446.5 287.6h2v3.4h-2zM454.6 287.6h3v3.4h-3zM459.6 287.6h1v3.4h-1zM462.6 287.6h1v3.4h-1zM480.8 287.6h1v3.4h-1zM485.8 287.6h2v3.4h-2zM491.9 287.6h2v3.4h-2zM495.9 287.6h1v3.4h-1zM501 287.6h1v3.4h-1zM505 287.6h1v3.4h-1zM431.4 291h2v3.4h-2zM444.5 291h2v3.4h-2zM448.5 291h3v3.4h-3zM458.6 291h1v3.4h-1zM462.6 291h1v3.4h-1zM467.7 291h2v3.4h-2zM472.7 291h2v3.4h-2zM475.8 291h1v3.4h-1zM478.8 291h1v3.4h-1zM481.8 291h1v3.4h-1zM485.8 291h2v3.4h-2zM489.9 291h2v3.4h-2zM492.9 291h2v3.4h-2zM495.9 291h1v3.4h-1zM497.9 291h1v3.4h-1zM502 291h2v3.4h-2zM451.6 294.4h2v3.4h-2zM458.6 294.4h3v3.4h-3zM467.7 294.4h1v3.4h-1zM469.7 294.4h2v3.4h-2zM473.7 294.4h1v3.4h-1zM476.8 294.4h3v3.4h-3zM481.8 294.4h1v3.4h-1zM483.8 294.4h1v3.4h-1zM486.8 294.4h1v3.4h-1zM488.9 294.4h1v3.4h-1zM492.9 294.4h3v3.4h-3zM499.9 294.4h3v3.4h-3zM505 294.4h1v3.4h-1z"/>
<path fill="#a7c4e2" d="M437.4 181.8h1v3.4h-1zM463.7 181.8h1v3.4h-1zM497.9 181.8h1v3.4h-1zM505 181.8h1v3.4h-1zM469.7 185.2h1v3.4h-1zM433.4 188.6h1v3.4h-1zM450.6 188.6h1v3.4h-1zM495.9 188.6h1v3.4h-1zM448.5 192h1v3.4h-1zM451.6 192h1v3.4h-1zM455.6 192h1v3.4h-1zM457.6 192h1v3.4h-1zM486.8 192h1v3.4h-1zM488.9 192h1v3.4h-1zM472.7 195.4h1v3.4h-1zM497.9 195.4h1v3.4h-1zM503 195.4h1v3.4h-1zM440.5 198.9h1v3.4h-1zM442.5 198.9h1v3.4h-1zM452.6 198.9h1v3.4h-1zM498.9 198.9h1v3.4h-1zM458.6 202.3h1v3.4h-1zM486.8 202.3h1v3.4h-1zM506 202.3h1v3.4h-1zM432.4 205.7h1v3.4h-1zM472.7 205.7h1v3.4h-1zM434.4 209.1h1v3.4h-1zM438.5 209.1h1v3.4h-1zM447.5 209.1h1v3.4h-1zM451.6 209.1h1v3.4h-1zM464.7 209.1h1v3.4h-1zM468.7 209.1h1v3.4h-1zM477.8 209.1h1v3.4h-1zM486.8 209.1h1v3.4h-1zM497.9 209.1h1v3.4h-1zM504 209.1h1v3.4h-1zM437.4 212.5h1v3.4h-1zM440.5 212.5h1v3.4h-1zM447.5 212.5h1v3.4h-1zM464.7 212.5h1v3.4h-1zM483.8 212.5h1v3.4h-1zM490.9 212.5h1v3.4h-1zM493.9 212.5h1v3.4h-1zM502 212.5h1v3.4h-1zM472.7 215.9h1v3.4h-1zM475.8 215.9h8.1v3.4h-8.1zM484.8 215.9h3v3.4h-3zM488.9 215.9h3v3.4h-3zM497.9 215.9h2v3.4h-2zM501 215.9h1v3.4h-1zM444.5 219.3h1v3.4h-1zM492.9 219.3h1v3.4h-1zM499.9 219.3h1v3.4h-1zM443.5 222.7h1v3.4h-1zM473.7 222.7h1v3.4h-1zM484.8 222.7h1v3.4h-1zM505 222.7h1v3.4h-1zM463.7 226.2h1v3.4h-1zM502 226.2h1v3.4h-1zM455.6 229.6h1v3.4h-1zM476.8 229.6h2v3.4h-2zM431.4 233h16.1v3.4h-16.1zM459.6 233h1v3.4h-1zM481.8 233h1v3.4h-1zM473.7 236.4h1v3.4h-1zM432.4 239.8h1v3.4h-1zM447.5 239.8h1v3.4h-1zM457.6 239.8h1v3.4h-1zM461.6 239.8h1v3.4h-1zM463.7 239.8h1v3.4h-1zM480.8 239.8h1v3.4h-1zM435.4 243.2h1v3.4h-1zM444.5 243.2h1v3.4h-1zM466.7 243.2h1v3.4h-1zM470.7 243.2h1v3.4h-1zM503 243.2h1v3.4h-1zM463.7 246.6h2v3.4h-2zM433.4 250h1v3.4h-1zM455.6 250h1v3.4h-1zM458.6 250h1v3.4h-1zM441.5 253.4h1v3.4h-1zM503 253.4h1v3.4h-1zM448.5 256.9h1v3.4h-1zM453.6 256.9h1v3.4h-1zM480.8 256.9h1v3.4h-1zM440.5 260.3h1v3.4h-1zM466.7 260.3h1v3.4h-1zM475.8 260.3h1v3.4h-1zM491.9 260.3h1v3.4h-1zM503 260.3h1v3.4h-1zM445.5 263.7h1v3.4h-1zM455.6 263.7h2v3.4h-2zM489.9 263.7h1v3.4h-1zM454.6 267.1h2v3.4h-2zM479.8 267.1h1v3.4h-1zM502 267.1h1v3.4h-1zM505 267.1h1v3.4h-1zM451.6 270.5h1v3.4h-1zM505 270.5h1v3.4h-1zM435.4 273.9h1v3.4h-1zM450.6 273.9h8.1v3.4h-8.1zM463.7 273.9h1v3.4h-1zM497.9 273.9h1v3.4h-1zM499.9 273.9h1v3.4h-1zM502 273.9h1v3.4h-1zM436.4 277.3h1v3.4h-1zM444.5 277.3h5v3.4h-5zM458.6 277.3h1v3.4h-1zM486.8 277.3h1v3.4h-1zM488.9 280.7h1v3.4h-1zM504 280.7h1v3.4h-1zM455.6 284.2h1v3.4h-1zM467.7 284.2h1v3.4h-1zM472.7 284.2h1v3.4h-1zM495.9 284.2h1v3.4h-1zM436.4 287.6h1v3.4h-1zM458.6 287.6h1v3.4h-1zM473.7 287.6h1v3.4h-1zM477.8 287.6h1v3.4h-1zM504 287.6h1v3.4h-1zM434.4 291h1v3.4h-1zM438.5 291h1v3.4h-1zM441.5 291h1v3.4h-1zM456.6 291h1v3.4h-1zM477.8 291h1v3.4h-1zM447.5 294.4h1v3.4h-1zM449.5 294.4h2v3.4h-2zM454.6 294.4h1v3.4h-1zM457.6 294.4h1v3.4h-1zM462.6 294.4h1v3.4h-1zM484.8 294.4h1v3.4h-1zM497.9 294.4h1v3.4h-1z"/>
<path fill="#82abd7" d="M467.7 185.2h2v3.4h-2zM470.7 185.2h2v3.4h-2zM432.4 188.6h1v3.4h-1zM434.4 188.6h16.1v3.4h-16.1zM464.7 188.6h2v3.4h-2zM444.5 192h4v3.4h-4zM449.5 192h2v3.4h-2zM452.6 192h3v3.4h-3zM448.5 215.9h3v3.4h-3zM452.6 215.9h1v3.4h-1zM462.6 215.9h1v3.4h-1zM471.7 215.9h1v3.4h-1zM457.6 219.3h4v3.4h-4zM462.6 219.3h2v3.4h-2zM465.7 219.3h3v3.4h-3zM491.9 246.6h5v3.4h-5zM497.9 246.6h3v3.4h-3zM486.8 250h2v3.4h-2zM489.9 250h1v3.4h-1zM431.4 294.4h16.1v3.4h-16.1z"/>
<path fill="#6094cb" d="M455.6 188.6h6v3.4h-6zM466.7 188.6h1v3.4h-1zM438.5 215.9h10.1v3.4h-10.1zM451.6 215.9h1v3.4h-1zM453.6 215.9h9.1v3.4h-9.1zM463.7 215.9h8.1v3.4h-8.1zM461.6 219.3h1v3.4h-1zM464.7 219.3h1v3.4h-1zM496.9 246.6h1v3.4h-1zM488.9 250h1v3.4h-1z"/>
<path fill="#eccbd1" d="M432.4 195.4h1v3.4h-1zM465.7 195.4h1v3.4h-1zM478.8 195.4h1v3.4h-1zM482.8 195.4h1v3.4h-1zM493.9 195.4h1v3.4h-1zM445.5 198.9h1v3.4h-1zM484.8 198.9h1v3.4h-1zM488.9 198.9h1v3.4h-1zM493.9 198.9h1v3.4h-1zM499.9 202.3h1v3.4h-1zM481.8 205.7h1v3.4h-1zM499.9 205.7h1v3.4h-1zM445.5 209.1h1v3.4h-1zM482.8 212.5h1v3.4h-1zM504 212.5h1v3.4h-1zM470.7 219.3h1v3.4h-1zM466.7 233h1v3.4h-1zM482.8 233h1v3.4h-1zM495.9 233h1v3.4h-1zM470.7 236.4h1v3.4h-1zM482.8 236.4h1v3.4h-1zM495.9 236.4h1v3.4h-1zM505 243.2h1v3.4h-1zM477.8 250h1v3.4h-1zM477.8 253.4h1v3.4h-1zM480.8 263.7h1v3.4h-1zM498.9 263.7h1v3.4h-1zM459.6 267.1h1v3.4h-1zM470.7 267.1h1v3.4h-1zM504 267.1h1v3.4h-1zM438.5 270.5h1v3.4h-1zM459.6 270.5h1v3.4h-1zM431.4 273.9h1v3.4h-1zM433.4 273.9h2v3.4h-2zM436.4 273.9h7.1v3.4h-7.1zM444.5 273.9h1v3.4h-1zM446.5 273.9h1v3.4h-1zM449.5 273.9h1v3.4h-1zM458.6 273.9h1v3.4h-1zM460.6 273.9h3v3.4h-3zM464.7 273.9h3v3.4h-3zM469.7 273.9h2v3.4h-2zM472.7 273.9h3v3.4h-3zM476.8 273.9h2v3.4h-2zM481.8 273.9h3v3.4h-3zM485.8 273.9h2v3.4h-2zM489.9 273.9h3v3.4h-3zM496.9 273.9h1v3.4h-1zM498.9 273.9h1v3.4h-1zM501 273.9h1v3.4h-1zM503 273.9h1v3.4h-1zM506 273.9h1v3.4h-1zM437.4 277.3h1v3.4h-1zM489.9 277.3h1v3.4h-1zM431.4 280.7h2v3.4h-2zM434.4 280.7h2v3.4h-2zM437.4 280.7h1v3.4h-1zM440.5 280.7h1v3.4h-1zM444.5 280.7h3v3.4h-3zM449.5 280.7h1v3.4h-1zM451.6 280.7h3v3.4h-3zM459.6 280.7h3v3.4h-3zM472.7 280.7h2v3.4h-2zM476.8 280.7h1v3.4h-1zM480.8 280.7h1v3.4h-1zM483.8 280.7h1v3.4h-1zM485.8 280.7h1v3.4h-1zM489.9 280.7h1v3.4h-1zM495.9 280.7h2v3.4h-2zM503 280.7h1v3.4h-1zM505 280.7h1v3.4h-1zM443.5 284.2h1v3.4h-1zM445.5 284.2h1v3.4h-1zM473.7 284.2h1v3.4h-1zM489.9 284.2h1v3.4h-1zM489.9 287.6h1v3.4h-1zM465.7 294.4h1v3.4h-1z"/>
<path fill="#dda1ac" d="M446.5 181.8h1v3.4h-1zM478.8 188.6h1v3.4h-1zM431.4 192h1v3.4h-1zM481.8 192h1v3.4h-1zM485.8 192h1v3.4h-1zM494.9 192h1v3.4h-1zM499.9 192h1v3.4h-1zM431.4 195.4h1v3.4h-1zM446.5 195.4h1v3.4h-1zM462.6 195.4h1v3.4h-1zM481.8 195.4h1v3.4h-1zM496.9 195.4h1v3.4h-1zM504 195.4h1v3.4h-1zM473.7 198.9h1v3.4h-1zM496.9 198.9h1v3.4h-1zM504 198.9h1v3.4h-1zM448.5 202.3h1v3.4h-1zM453.6 202.3h1v3.4h-1zM480.8 202.3h1v3.4h-1zM498.9 202.3h1v3.4h-1zM504 202.3h1v3.4h-1zM504 205.7h1v3.4h-1zM467.7 212.5h1v3.4h-1zM486.8 212.5h1v3.4h-1zM469.7 219.3h1v3.4h-1zM471.7 219.3h1v3.4h-1zM469.7 222.7h1v3.4h-1zM433.4 226.2h1v3.4h-1zM481.8 226.2h1v3.4h-1zM486.8 226.2h1v3.4h-1zM501 226.2h1v3.4h-1zM435.4 229.6h1v3.4h-1zM447.5 229.6h1v3.4h-1zM465.7 229.6h1v3.4h-1zM478.8 233h1v3.4h-1zM498.9 233h1v3.4h-1zM440.5 236.4h1v3.4h-1zM446.5 236.4h1v3.4h-1zM458.6 236.4h1v3.4h-1zM469.7 236.4h1v3.4h-1zM477.8 236.4h2v3.4h-2zM496.9 236.4h1v3.4h-1zM477.8 239.8h1v3.4h-1zM485.8 239.8h2v3.4h-2zM484.8 243.2h3v3.4h-3zM439.5 250h1v3.4h-1zM486.8 256.9h1v3.4h-1zM448.5 263.7h2v3.4h-2zM477.8 263.7h1v3.4h-1zM448.5 267.1h2v3.4h-2zM480.8 267.1h1v3.4h-1zM440.5 270.5h1v3.4h-1zM462.6 270.5h1v3.4h-1zM480.8 270.5h1v3.4h-1zM491.9 270.5h1v3.4h-1zM503 270.5h1v3.4h-1zM480.8 273.9h1v3.4h-1zM469.7 277.3h1v3.4h-1zM474.7 277.3h1v3.4h-1zM477.8 277.3h1v3.4h-1zM492.9 277.3h1v3.4h-1zM496.9 277.3h1v3.4h-1zM474.7 280.7h1v3.4h-1zM492.9 280.7h1v3.4h-1zM478.8 284.2h1v3.4h-1zM504 284.2h1v3.4h-1zM452.6 287.6h1v3.4h-1zM463.7 287.6h1v3.4h-1zM466.7 287.6h1v3.4h-1zM475.8 287.6h1v3.4h-1zM478.8 287.6h1v3.4h-1zM452.6 291h1v3.4h-1zM464.7 294.4h1v3.4h-1zM468.7 294.4h1v3.4h-1z"/>
<path fill="#cf7a8a" d="M439.5 192h1v3.4h-1zM468.7 192h2v3.4h-2zM449.5 195.4h1v3.4h-1zM468.7 195.4h2v3.4h-2zM474.7 195.4h1v3.4h-1zM506 195.4h1v3.4h-1zM461.6 198.9h1v3.4h-1zM474.7 198.9h1v3.4h-1zM478.8 198.9h3v3.4h-3zM492.9 198.9h1v3.4h-1zM474.7 202.3h1v3.4h-1zM488.9 202.3h1v3.4h-1zM455.6 205.7h1v3.4h-1zM474.7 205.7h1v3.4h-1zM446.5 219.3h1v3.4h-1zM435.4 222.7h1v3.4h-1zM457.6 222.7h1v3.4h-1zM446.5 229.6h1v3.4h-1zM471.7 229.6h1v3.4h-1zM488.9 229.6h1v3.4h-1zM494.9 229.6h1v3.4h-1zM477.8 233h1v3.4h-1zM494.9 233h1v3.4h-1zM459.6 236.4h1v3.4h-1zM490.9 243.2h1v3.4h-1zM502 246.6h1v3.4h-1zM454.6 250h1v3.4h-1zM461.6 250h1v3.4h-1zM468.7 250h1v3.4h-1zM454.6 253.4h1v3.4h-1zM461.6 253.4h1v3.4h-1zM454.6 256.9h1v3.4h-1zM463.7 260.3h1v3.4h-1zM489.9 260.3h1v3.4h-1zM463.7 263.7h1v3.4h-1zM437.4 267.1h1v3.4h-1zM441.5 270.5h1v3.4h-1zM454.6 270.5h1v3.4h-1zM479.8 273.9h1v3.4h-1zM441.5 277.3h1v3.4h-1zM457.6 277.3h1v3.4h-1zM466.7 280.7h1v3.4h-1zM483.8 284.2h1v3.4h-1zM506 284.2h1v3.4h-1zM483.8 287.6h1v3.4h-1z"/>
<path fill="#c1566a" d="M487.8 188.6h1v3.4h-1zM487.8 192h1v3.4h-1zM458.6 195.4h1v3.4h-1zM479.8 195.4h2v3.4h-2zM491.9 195.4h1v3.4h-1zM494.9 195.4h1v3.4h-1zM447.5 198.9h1v3.4h-1zM468.7 198.9h1v3.4h-1zM470.7 198.9h1v3.4h-1zM449.5 202.3h1v3.4h-1zM484.8 202.3h1v3.4h-1zM505 202.3h1v3.4h-1zM449.5 205.7h1v3.4h-1zM464.7 205.7h1v3.4h-1zM484.8 205.7h1v3.4h-1zM505 205.7h1v3.4h-1zM484.8 209.1h1v3.4h-1zM493.9 209.1h1v3.4h-1zM501 209.1h1v3.4h-1zM484.8 212.5h1v3.4h-1zM495.9 212.5h1v3.4h-1zM435.4 219.3h1v3.4h-1zM459.6 222.7h1v3.4h-1zM459.6 226.2h1v3.4h-1zM488.9 226.2h1v3.4h-1zM499.9 229.6h2v3.4h-2zM489.9 233h1v3.4h-1zM431.4 236.4h1v3.4h-1zM448.5 239.8h1v3.4h-1zM453.6 239.8h1v3.4h-1zM453.6 243.2h1v3.4h-1zM469.7 243.2h1v3.4h-1zM483.8 243.2h1v3.4h-1zM487.8 243.2h1v3.4h-1zM496.9 243.2h1v3.4h-1zM446.5 246.6h1v3.4h-1zM449.5 246.6h1v3.4h-1zM471.7 246.6h1v3.4h-1zM485.8 246.6h1v3.4h-1zM443.5 250h1v3.4h-1zM504 256.9h1v3.4h-1zM454.6 260.3h1v3.4h-1zM479.8 270.5h1v3.4h-1zM445.5 287.6h1v3.4h-1zM506 287.6h1v3.4h-1zM487.8 291h1v3.4h-1zM461.6 294.4h1v3.4h-1zM482.8 294.4h1v3.4h-1zM495.9 294.4h1v3.4h-1zM504 294.4h1v3.4h-1z"/>
<path fill="#b4324a" d="M453.6 188.6h2v3.4h-2zM433.4 195.4h1v3.4h-1zM476.8 195.4h1v3.4h-1zM489.9 198.9h1v3.4h-1zM489.9 202.3h1v3.4h-1zM506 205.7h1v3.4h-1zM490.9 209.1h1v3.4h-1zM495.9 209.1h1v3.4h-1zM495.9 215.9h1v3.4h-1zM495.9 219.3h1v3.4h-1zM438.5 222.7h1v3.4h-1zM438.5 226.2h1v3.4h-1zM441.5 226.2h1v3.4h-1zM441.5 229.6h1v3.4h-1zM459.6 229.6h1v3.4h-1zM480.8 229.6h1v3.4h-1zM497.9 229.6h1v3.4h-1zM502 229.6h4v3.4h-4zM448.5 236.4h1v3.4h-1zM489.9 236.4h1v3.4h-1zM488.9 239.8h1v3.4h-1zM439.5 243.2h1v3.4h-1zM443.5 243.2h1v3.4h-1zM449.5 243.2h1v3.4h-1zM462.6 243.2h1v3.4h-1zM443.5 246.6h1v3.4h-1zM458.6 246.6h1v3.4h-1zM461.6 246.6h1v3.4h-1zM504 253.4h1v3.4h-1zM439.5 256.9h1v3.4h-1zM488.9 260.3h1v3.4h-1zM504 260.3h1v3.4h-1zM504 263.7h1v3.4h-1zM475.8 270.5h1v3.4h-1zM502 277.3h1v3.4h-1zM436.4 284.2h1v3.4h-1zM479.8 291h1v3.4h-1zM491.9 291h1v3.4h-1zM456.6 294.4h1v3.4h-1zM479.8 294.4h1v3.4h-1zM487.8 294.4h1v3.4h-1z"/>
<path fill="#a8102c" d="M432.4 198.9h1v3.4h-1zM475.8 198.9h1v3.4h-1zM465.7 205.7h1v3.4h-1zM499.9 209.1h1v3.4h-1z"/>
<path fill="#cedeef" d="M532 185.2h1v3.4h-1zM520 188.6h1v3.4h-1zM566 192h1v3.4h-1zM515 195.4h1v3.4h-1zM520 195.4h1v3.4h-1zM524 195.4h1v3.4h-1zM527 195.4h1v3.4h-1zM530 195.4h1v3.4h-1zM532 195.4h1v3.4h-1zM534 195.4h1v3.4h-1zM541 195.4h1v3.4h-1zM543 195.4h1v3.4h-1zM561 195.4h1v3.4h-1zM574 195.4h1v3.4h-1zM579 195.4h1v3.4h-1zM518 198.9h1v3.4h-1zM529 198.9h1v3.4h-1zM532 198.9h2v3.4h-2zM535 198.9h2v3.4h-2zM538 198.9h1v3.4h-1zM541 198.9h1v3.4h-1zM545 198.9h1v3.4h-1zM549 198.9h1v3.4h-1zM557 198.9h1v3.4h-1zM559 198.9h2v3.4h-2zM574 198.9h1v3.4h-1zM587 198.9h1v3.4h-1zM586 205.7h1v3.4h-1zM513 209.1h2v3.4h-2zM517 209.1h1v3.4h-1zM526 209.1h1v3.4h-1zM528 209.1h2v3.4h-2zM533 209.1h1v3.4h-1zM537 209.1h1v3.4h-1zM541 209.1h2v3.4h-2zM544 209.1h1v3.4h-1zM546 209.1h1v3.4h-1zM548 209.1h2v3.4h-2zM553 209.1h1v3.4h-1zM558 209.1h1v3.4h-1zM561 209.1h1v3.4h-1zM564 209.1h2v3.4h-2zM571 209.1h3v3.4h-3zM515 212.5h1v3.4h-1zM517 212.5h2v3.4h-2zM520 212.5h1v3.4h-1zM524 212.5h3v3.4h-3zM529 212.5h1v3.4h-1zM533 212.5h1v3.4h-1zM535 212.5h2v3.4h-2zM539 212.5h2v3.4h-2zM543 212.5h1v3.4h-1zM545 212.5h1v3.4h-1zM548 212.5h1v3.4h-1zM552 212.5h1v3.4h-1zM555 212.5h1v3.4h-1zM559 212.5h2v3.4h-2zM562 212.5h1v3.4h-1zM570 212.5h1v3.4h-1zM574 212.5h2v3.4h-2zM579 212.5h2v3.4h-2zM583 212.5h1v3.4h-1zM516 215.9h1v3.4h-1zM528 215.9h1v3.4h-1zM531 215.9h1v3.4h-1zM533 215.9h2v3.4h-2zM537 215.9h1v3.4h-1zM544 215.9h1v3.4h-1zM546 215.9h1v3.4h-1zM551 215.9h1v3.4h-1zM553 215.9h4v3.4h-4zM559 215.9h3v3.4h-3zM565 215.9h1v3.4h-1zM567 215.9h1v3.4h-1zM575 215.9h1v3.4h-1zM577 215.9h1v3.4h-1zM580 215.9h2v3.4h-2zM583 215.9h3v3.4h-3zM513 226.2h3v3.4h-3zM521 226.2h3v3.4h-3zM526 226.2h3v3.4h-3zM531 226.2h1v3.4h-1zM535 226.2h1v3.4h-1zM540 226.2h2v3.4h-2zM543 226.2h3v3.4h-3zM556 226.2h1v3.4h-1zM558 226.2h2v3.4h-2zM565 226.2h1v3.4h-1zM567 226.2h1v3.4h-1zM569 226.2h1v3.4h-1zM571 226.2h1v3.4h-1zM574 226.2h1v3.4h-1zM577 226.2h1v3.4h-1zM579 226.2h1v3.4h-1zM585 226.2h1v3.4h-1zM587 226.2h1v3.4h-1zM553 229.6h1v3.4h-1zM578 229.6h1v3.4h-1zM514 236.4h1v3.4h-1zM519 236.4h1v3.4h-1zM521 236.4h6v3.4h-6zM529 236.4h1v3.4h-1zM531 236.4h1v3.4h-1zM536 236.4h1v3.4h-1zM538 236.4h2v3.4h-2zM541 236.4h1v3.4h-1zM544 236.4h3v3.4h-3zM550 236.4h2v3.4h-2zM553 236.4h1v3.4h-1zM556 236.4h3v3.4h-3zM561 236.4h1v3.4h-1zM564 236.4h1v3.4h-1zM567 236.4h2v3.4h-2zM572 236.4h3v3.4h-3zM577 236.4h1v3.4h-1zM579 236.4h2v3.4h-2zM587 236.4h1v3.4h-1zM513 239.8h2v3.4h-2zM520 239.8h1v3.4h-1zM522 239.8h1v3.4h-1zM525 239.8h1v3.4h-1zM527 239.8h2v3.4h-2zM541 239.8h3v3.4h-3zM548 239.8h1v3.4h-1zM550 239.8h3v3.4h-3zM561 239.8h1v3.4h-1zM563 239.8h3v3.4h-3zM567 239.8h1v3.4h-1zM575 239.8h1v3.4h-1zM577 239.8h1v3.4h-1zM579 239.8h1v3.4h-1zM587 239.8h1v3.4h-1zM514 243.2h3v3.4h-3zM519 243.2h1v3.4h-1zM532 243.2h1v3.4h-1zM534 243.2h1v3.4h-1zM537 243.2h1v3.4h-1zM551 243.2h1v3.4h-1zM557 243.2h1v3.4h-1zM563 243.2h1v3.4h-1zM570 243.2h1v3.4h-1zM572 243.2h2v3.4h-2zM575 243.2h2v3.4h-2zM578 243.2h1v3.4h-1zM580 243.2h1v3.4h-1zM582 243.2h1v3.4h-1zM587 243.2h1v3.4h-1zM513 246.6h1v3.4h-1zM517 246.6h1v3.4h-1zM524 246.6h2v3.4h-2zM531 246.6h1v3.4h-1zM533 246.6h1v3.4h-1zM535 246.6h1v3.4h-1zM540 246.6h1v3.4h-1zM544 246.6h2v3.4h-2zM549 246.6h1v3.4h-1zM551 246.6h1v3.4h-1zM553 246.6h1v3.4h-1zM556 246.6h2v3.4h-2zM561 246.6h1v3.4h-1zM564 246.6h1v3.4h-1zM572 246.6h1v3.4h-1zM574 246.6h2v3.4h-2zM577 246.6h1v3.4h-1zM580 246.6h1v3.4h-1zM586 246.6h1v3.4h-1zM538 250h1v3.4h-1zM575 256.9h1v3.4h-1zM532 260.3h1v3.4h-1zM529 273.9h2v3.4h-2zM533 273.9h1v3.4h-1zM543 273.9h1v3.4h-1zM561 273.9h3v3.4h-3zM570 273.9h2v3.4h-2zM571 277.3h1v3.4h-1zM576 280.7h1v3.4h-1zM514 284.2h1v3.4h-1zM582 284.2h1v3.4h-1zM551 287.6h1v3.4h-1zM553 287.6h1v3.4h-1zM563 287.6h1v3.4h-1zM513 291h1v3.4h-1zM518 291h2v3.4h-2zM525 291h1v3.4h-1zM528 291h3v3.4h-3zM552 291h1v3.4h-1zM554 291h1v3.4h-1zM564 291h1v3.4h-1zM577 291h1v3.4h-1zM580 291h1v3.4h-1zM513 294.4h1v3.4h-1zM518 294.4h1v3.4h-1zM520 294.4h1v3.4h-1zM522 294.4h1v3.4h-1zM525 294.4h1v3.4h-1zM527 294.4h1v3.4h-1zM530 294.4h1v3.4h-1zM532 294.4h1v3.4h-1zM541 294.4h1v3.4h-1zM543 294.4h1v3.4h-1zM547 294.4h1v3.4h-1zM553 294.4h1v3.4h-1zM555 294.4h2v3.4h-2zM558 294.4h1v3.4h-1zM562 294.4h1v3.4h-1zM566 294.4h1v3.4h-1zM568 294.4h3v3.4h-3zM574 294.4h1v3.4h-1zM577 294.4h2v3.4h-2zM582 294.4h1v3.4h-1zM586 294.4h1v3.4h-1z"/>
<path fill="#a7c4e2" d="M584 181.8h1v3.4h-1zM582 185.2h1v3.4h-1zM529 192h1v3.4h-1zM581 192h1v3.4h-1zM550 195.4h11v3.4h-11zM562 195.4h12v3.4h-12zM525 198.9h1v3.4h-1zM566 215.9h1v3.4h-1zM532 219.3h1v3.4h-1zM580 229.6h1v3.4h-1zM582 229.6h1v3.4h-1zM516 233h1v3.4h-1zM586 236.4h1v3.4h-1zM529 239.8h1v3.4h-1zM514 246.6h1v3.4h-1zM545 256.9h1v3.4h-1zM519 267.1h1v3.4h-1zM525 267.1h1v3.4h-1zM551 273.9h1v3.4h-1zM533 280.7h1v3.4h-1zM545 280.7h1v3.4h-1zM565 280.7h1v3.4h-1zM577 280.7h8v3.4h-8zM547 284.2h1v3.4h-1zM568 287.6h1v3.4h-1zM571 287.6h1v3.4h-1zM575 287.6h1v3.4h-1zM582 287.6h1v3.4h-1zM573 294.4h1v3.4h-1zM583 294.4h1v3.4h-1z"/>
<path fill="#82abd7" d="M535 195.4h1v3.4h-1zM537 195.4h1v3.4h-1zM515 205.7h1v3.4h-1zM536 273.9h1v3.4h-1z"/>
<path fill="#6094cb" d="M536 195.4h1v3.4h-1zM538 195.4h1v3.4h-1zM513 205.7h2v3.4h-2zM537 273.9h2v3.4h-2z"/>
<path fill="#eccbd1" d="M517 181.8h1v3.4h-1zM519 181.8h1v3.4h-1zM523 181.8h3v3.4h-3zM528 181.8h4v3.4h-4zM543 181.8h1v3.4h-1zM546 181.8h2v3.4h-2zM549 181.8h1v3.4h-1zM552 181.8h2v3.4h-2zM555 181.8h1v3.4h-1zM557 181.8h5v3.4h-5zM563 181.8h1v3.4h-1zM566 181.8h3v3.4h-3zM570 181.8h3v3.4h-3zM574 181.8h1v3.4h-1zM576 181.8h1v3.4h-1zM580 181.8h1v3.4h-1zM582 181.8h1v3.4h-1zM553 185.2h1v3.4h-1zM572 185.2h1v3.4h-1zM585 185.2h1v3.4h-1zM580 188.6h1v3.4h-1zM515 192h1v3.4h-1zM517 192h1v3.4h-1zM521 192h1v3.4h-1zM532 192h3v3.4h-3zM537 192h1v3.4h-1zM540 192h2v3.4h-2zM543 192h1v3.4h-1zM545 192h3v3.4h-3zM549 192h1v3.4h-1zM551 192h1v3.4h-1zM554 192h2v3.4h-2zM557 192h4v3.4h-4zM564 192h1v3.4h-1zM568 192h1v3.4h-1zM571 192h2v3.4h-2zM576 192h3v3.4h-3zM580 192h1v3.4h-1zM583 192h5v3.4h-5zM513 195.4h1v3.4h-1zM517 195.4h1v3.4h-1zM517 198.9h1v3.4h-1zM519 198.9h1v3.4h-1zM547 198.9h1v3.4h-1zM516 202.3h2v3.4h-2zM521 202.3h1v3.4h-1zM525 202.3h1v3.4h-1zM527 202.3h1v3.4h-1zM530 202.3h3v3.4h-3zM537 202.3h3v3.4h-3zM542 202.3h2v3.4h-2zM549 202.3h2v3.4h-2zM553 202.3h1v3.4h-1zM556 202.3h4v3.4h-4zM564 202.3h1v3.4h-1zM568 202.3h2v3.4h-2zM573 202.3h1v3.4h-1zM577 202.3h1v3.4h-1zM579 202.3h1v3.4h-1zM581 202.3h1v3.4h-1zM583 202.3h1v3.4h-1zM586 202.3h1v3.4h-1zM518 205.7h1v3.4h-1zM521 205.7h1v3.4h-1zM523 205.7h1v3.4h-1zM533 205.7h1v3.4h-1zM556 205.7h2v3.4h-2zM559 205.7h1v3.4h-1zM564 205.7h1v3.4h-1zM567 205.7h1v3.4h-1zM570 205.7h2v3.4h-2zM574 205.7h1v3.4h-1zM576 205.7h1v3.4h-1zM578 205.7h2v3.4h-2zM581 205.7h1v3.4h-1zM584 205.7h2v3.4h-2zM547 209.1h1v3.4h-1zM544 212.5h1v3.4h-1zM547 212.5h1v3.4h-1zM557 212.5h1v3.4h-1zM576 212.5h1v3.4h-1zM539 215.9h1v3.4h-1zM557 215.9h1v3.4h-1zM517 219.3h1v3.4h-1zM534 219.3h1v3.4h-1zM540 219.3h2v3.4h-2zM546 219.3h1v3.4h-1zM575 219.3h1v3.4h-1zM583 219.3h2v3.4h-2zM587 219.3h1v3.4h-1zM578 222.7h1v3.4h-1zM516 226.2h1v3.4h-1zM518 226.2h1v3.4h-1zM550 226.2h1v3.4h-1zM572 226.2h1v3.4h-1zM578 226.2h1v3.4h-1zM586 226.2h1v3.4h-1zM518 229.6h1v3.4h-1zM572 229.6h1v3.4h-1zM585 229.6h1v3.4h-1zM573 233h1v3.4h-1zM575 233h1v3.4h-1zM582 233h1v3.4h-1zM585 233h1v3.4h-1zM532 236.4h1v3.4h-1zM575 236.4h1v3.4h-1zM582 236.4h1v3.4h-1zM532 239.8h1v3.4h-1zM574 239.8h1v3.4h-1zM582 239.8h1v3.4h-1zM561 243.2h1v3.4h-1zM584 246.6h1v3.4h-1zM517 253.4h1v3.4h-1zM519 253.4h2v3.4h-2zM522 253.4h1v3.4h-1zM534 253.4h1v3.4h-1zM537 253.4h4v3.4h-4zM542 253.4h2v3.4h-2zM546 253.4h1v3.4h-1zM548 253.4h2v3.4h-2zM551 253.4h1v3.4h-1zM554 253.4h2v3.4h-2zM557 253.4h3v3.4h-3zM561 253.4h1v3.4h-1zM563 253.4h1v3.4h-1zM565 253.4h1v3.4h-1zM570 253.4h1v3.4h-1zM573 253.4h2v3.4h-2zM576 253.4h1v3.4h-1zM578 253.4h2v3.4h-2zM581 253.4h1v3.4h-1zM586 253.4h1v3.4h-1zM521 256.9h1v3.4h-1zM525 256.9h1v3.4h-1zM527 256.9h1v3.4h-1zM539 256.9h1v3.4h-1zM555 256.9h1v3.4h-1zM573 256.9h2v3.4h-2zM577 256.9h1v3.4h-1zM582 256.9h1v3.4h-1zM514 260.3h1v3.4h-1zM517 260.3h2v3.4h-2zM521 260.3h1v3.4h-1zM523 260.3h1v3.4h-1zM526 260.3h2v3.4h-2zM533 260.3h2v3.4h-2zM536 260.3h3v3.4h-3zM540 260.3h1v3.4h-1zM542 260.3h1v3.4h-1zM546 260.3h1v3.4h-1zM548 260.3h1v3.4h-1zM555 260.3h1v3.4h-1zM557 260.3h1v3.4h-1zM559 260.3h1v3.4h-1zM561 260.3h1v3.4h-1zM563 260.3h1v3.4h-1zM573 260.3h3v3.4h-3zM578 260.3h3v3.4h-3zM582 260.3h3v3.4h-3zM586 260.3h1v3.4h-1zM565 263.7h1v3.4h-1zM572 263.7h1v3.4h-1zM524 267.1h1v3.4h-1zM539 267.1h1v3.4h-1zM543 267.1h1v3.4h-1zM565 267.1h1v3.4h-1zM534 270.5h1v3.4h-1zM538 270.5h1v3.4h-1zM542 270.5h1v3.4h-1zM546 270.5h2v3.4h-2zM550 270.5h1v3.4h-1zM553 270.5h1v3.4h-1zM559 270.5h1v3.4h-1zM568 270.5h3v3.4h-3zM573 270.5h1v3.4h-1zM576 270.5h1v3.4h-1zM582 270.5h1v3.4h-1zM586 270.5h2v3.4h-2zM521 273.9h1v3.4h-1zM527 273.9h1v3.4h-1zM538 277.3h1v3.4h-1zM582 277.3h1v3.4h-1zM534 280.7h1v3.4h-1zM587 280.7h1v3.4h-1zM517 284.2h1v3.4h-1zM587 284.2h1v3.4h-1zM535 287.6h1v3.4h-1zM561 287.6h1v3.4h-1zM570 287.6h1v3.4h-1zM535 291h1v3.4h-1zM549 291h1v3.4h-1zM523 294.4h1v3.4h-1zM551 294.4h1v3.4h-1z"/>
<path fill="#dda1ac" d="M515 181.8h1v3.4h-1zM573 181.8h1v3.4h-1zM515 185.2h1v3.4h-1zM534 185.2h1v3.4h-1zM544 185.2h1v3.4h-1zM557 185.2h1v3.4h-1zM563 185.2h1v3.4h-1zM566 185.2h1v3.4h-1zM573 185.2h1v3.4h-1zM544 188.6h1v3.4h-1zM563 188.6h1v3.4h-1zM544 192h1v3.4h-1zM563 192h1v3.4h-1zM514 195.4h1v3.4h-1zM516 195.4h1v3.4h-1zM529 195.4h1v3.4h-1zM544 195.4h1v3.4h-1zM546 195.4h1v3.4h-1zM548 195.4h1v3.4h-1zM575 195.4h1v3.4h-1zM580 195.4h1v3.4h-1zM516 198.9h1v3.4h-1zM528 198.9h1v3.4h-1zM544 198.9h1v3.4h-1zM546 198.9h1v3.4h-1zM580 198.9h1v3.4h-1zM513 202.3h1v3.4h-1zM528 202.3h1v3.4h-1zM544 202.3h3v3.4h-3zM560 202.3h1v3.4h-1zM567 202.3h1v3.4h-1zM585 202.3h1v3.4h-1zM560 205.7h1v3.4h-1zM583 205.7h1v3.4h-1zM543 209.1h1v3.4h-1zM557 209.1h1v3.4h-1zM581 209.1h7v3.4h-7zM548 215.9h1v3.4h-1zM513 219.3h1v3.4h-1zM525 219.3h1v3.4h-1zM527 219.3h2v3.4h-2zM539 219.3h1v3.4h-1zM559 219.3h1v3.4h-1zM561 219.3h1v3.4h-1zM563 219.3h1v3.4h-1zM576 219.3h2v3.4h-2zM525 222.7h1v3.4h-1zM538 222.7h2v3.4h-2zM551 222.7h1v3.4h-1zM556 222.7h1v3.4h-1zM559 222.7h1v3.4h-1zM577 222.7h1v3.4h-1zM580 222.7h2v3.4h-2zM583 222.7h5v3.4h-5zM525 226.2h1v3.4h-1zM538 226.2h2v3.4h-2zM573 226.2h1v3.4h-1zM519 229.6h1v3.4h-1zM521 229.6h1v3.4h-1zM525 229.6h1v3.4h-1zM527 229.6h2v3.4h-2zM532 229.6h2v3.4h-2zM536 229.6h1v3.4h-1zM545 229.6h1v3.4h-1zM549 229.6h1v3.4h-1zM563 229.6h1v3.4h-1zM528 233h1v3.4h-1zM541 233h1v3.4h-1zM548 233h2v3.4h-2zM564 233h1v3.4h-1zM567 233h1v3.4h-1zM572 233h1v3.4h-1zM586 233h1v3.4h-1zM516 236.4h1v3.4h-1zM537 236.4h1v3.4h-1zM560 236.4h1v3.4h-1zM570 236.4h1v3.4h-1zM516 239.8h1v3.4h-1zM523 239.8h1v3.4h-1zM537 239.8h1v3.4h-1zM540 239.8h1v3.4h-1zM570 239.8h1v3.4h-1zM578 239.8h1v3.4h-1zM523 243.2h1v3.4h-1zM545 243.2h1v3.4h-1zM559 243.2h1v3.4h-1zM565 243.2h1v3.4h-1zM574 243.2h1v3.4h-1zM585 243.2h2v3.4h-2zM516 246.6h1v3.4h-1zM522 246.6h1v3.4h-1zM555 246.6h1v3.4h-1zM582 246.6h1v3.4h-1zM516 250h1v3.4h-1zM522 250h1v3.4h-1zM555 250h1v3.4h-1zM559 250h1v3.4h-1zM530 256.9h1v3.4h-1zM559 256.9h1v3.4h-1zM583 256.9h1v3.4h-1zM551 260.3h2v3.4h-2zM564 260.3h1v3.4h-1zM581 260.3h1v3.4h-1zM587 260.3h1v3.4h-1zM520 263.7h1v3.4h-1zM525 263.7h1v3.4h-1zM537 263.7h1v3.4h-1zM581 263.7h1v3.4h-1zM520 267.1h1v3.4h-1zM523 267.1h1v3.4h-1zM553 267.1h1v3.4h-1zM567 267.1h1v3.4h-1zM569 267.1h1v3.4h-1zM523 270.5h2v3.4h-2zM531 270.5h1v3.4h-1zM557 270.5h1v3.4h-1zM567 270.5h1v3.4h-1zM523 273.9h2v3.4h-2zM531 273.9h1v3.4h-1zM566 273.9h2v3.4h-2zM574 273.9h1v3.4h-1zM523 277.3h1v3.4h-1zM514 280.7h1v3.4h-1zM520 280.7h1v3.4h-1zM523 280.7h1v3.4h-1zM530 280.7h1v3.4h-1zM540 280.7h1v3.4h-1zM543 280.7h1v3.4h-1zM554 280.7h1v3.4h-1zM520 284.2h1v3.4h-1zM548 284.2h1v3.4h-1zM554 284.2h1v3.4h-1zM580 284.2h1v3.4h-1zM580 287.6h1v3.4h-1zM514 291h1v3.4h-1zM532 291h1v3.4h-1zM534 291h1v3.4h-1zM542 291h1v3.4h-1zM547 291h1v3.4h-1zM534 294.4h2v3.4h-2zM563 294.4h1v3.4h-1z"/>
<path fill="#cf7a8a" d="M578 181.8h1v3.4h-1zM585 181.8h1v3.4h-1zM556 185.2h1v3.4h-1zM568 185.2h1v3.4h-1zM578 185.2h1v3.4h-1zM568 188.6h1v3.4h-1zM542 192h1v3.4h-1zM526 195.4h1v3.4h-1zM578 195.4h1v3.4h-1zM573 198.9h1v3.4h-1zM578 198.9h1v3.4h-1zM526 202.3h1v3.4h-1zM547 202.3h1v3.4h-1zM561 202.3h1v3.4h-1zM578 202.3h1v3.4h-1zM584 202.3h1v3.4h-1zM520 205.7h1v3.4h-1zM526 205.7h1v3.4h-1zM529 205.7h1v3.4h-1zM531 205.7h2v3.4h-2zM538 205.7h1v3.4h-1zM540 205.7h1v3.4h-1zM542 205.7h1v3.4h-1zM545 205.7h2v3.4h-2zM548 205.7h3v3.4h-3zM575 205.7h1v3.4h-1zM556 209.1h1v3.4h-1zM580 209.1h1v3.4h-1zM553 212.5h1v3.4h-1zM556 212.5h1v3.4h-1zM568 212.5h1v3.4h-1zM519 215.9h9v3.4h-9zM568 215.9h1v3.4h-1zM516 219.3h1v3.4h-1zM519 219.3h1v3.4h-1zM523 219.3h1v3.4h-1zM529 219.3h1v3.4h-1zM533 219.3h1v3.4h-1zM537 219.3h1v3.4h-1zM545 219.3h1v3.4h-1zM548 219.3h1v3.4h-1zM550 219.3h1v3.4h-1zM552 219.3h1v3.4h-1zM565 219.3h1v3.4h-1zM568 219.3h1v3.4h-1zM574 219.3h1v3.4h-1zM580 219.3h1v3.4h-1zM582 219.3h1v3.4h-1zM585 219.3h1v3.4h-1zM516 222.7h1v3.4h-1zM529 222.7h1v3.4h-1zM533 222.7h1v3.4h-1zM582 222.7h1v3.4h-1zM533 226.2h1v3.4h-1zM562 226.2h1v3.4h-1zM582 226.2h1v3.4h-1zM535 229.6h1v3.4h-1zM537 229.6h1v3.4h-1zM539 229.6h2v3.4h-2zM547 229.6h1v3.4h-1zM550 229.6h1v3.4h-1zM555 229.6h1v3.4h-1zM558 229.6h1v3.4h-1zM560 229.6h1v3.4h-1zM562 229.6h1v3.4h-1zM564 229.6h1v3.4h-1zM568 229.6h1v3.4h-1zM573 229.6h1v3.4h-1zM514 233h1v3.4h-1zM544 233h1v3.4h-1zM553 233h1v3.4h-1zM556 233h1v3.4h-1zM581 233h1v3.4h-1zM535 236.4h1v3.4h-1zM581 236.4h1v3.4h-1zM531 239.8h1v3.4h-1zM535 239.8h1v3.4h-1zM541 243.2h1v3.4h-1zM546 243.2h4v3.4h-4zM552 243.2h5v3.4h-5zM560 243.2h1v3.4h-1zM564 243.2h1v3.4h-1zM515 246.6h1v3.4h-1zM541 246.6h1v3.4h-1zM541 250h1v3.4h-1zM516 253.4h1v3.4h-1zM533 253.4h1v3.4h-1zM541 253.4h1v3.4h-1zM564 253.4h1v3.4h-1zM528 256.9h1v3.4h-1zM564 256.9h1v3.4h-1zM579 256.9h1v3.4h-1zM550 263.7h1v3.4h-1zM552 263.7h1v3.4h-1zM554 263.7h1v3.4h-1zM557 263.7h1v3.4h-1zM550 267.1h1v3.4h-1zM555 267.1h1v3.4h-1zM558 267.1h1v3.4h-1zM562 267.1h1v3.4h-1zM576 267.1h1v3.4h-1zM530 270.5h1v3.4h-1zM532 270.5h1v3.4h-1zM522 273.9h1v3.4h-1zM533 277.3h1v3.4h-1zM548 277.3h1v3.4h-1zM515 284.2h1v3.4h-1zM546 284.2h1v3.4h-1zM579 284.2h1v3.4h-1zM544 287.6h1v3.4h-1zM533 291h1v3.4h-1zM567 291h1v3.4h-1zM539 294.4h1v3.4h-1zM571 294.4h1v3.4h-1z"/>
<path fill="#c1566a" d="M535 181.8h1v3.4h-1zM537 181.8h1v3.4h-1zM542 181.8h1v3.4h-1zM579 185.2h1v3.4h-1zM537 188.6h1v3.4h-1zM522 195.4h2v3.4h-2zM539 195.4h2v3.4h-2zM583 195.4h1v3.4h-1zM514 198.9h1v3.4h-1zM526 198.9h1v3.4h-1zM553 198.9h1v3.4h-1zM565 198.9h1v3.4h-1zM581 198.9h1v3.4h-1zM541 202.3h1v3.4h-1zM570 202.3h1v3.4h-1zM519 205.7h1v3.4h-1zM522 205.7h1v3.4h-1zM524 205.7h2v3.4h-2zM527 205.7h1v3.4h-1zM530 205.7h1v3.4h-1zM536 205.7h2v3.4h-2zM539 205.7h1v3.4h-1zM541 205.7h1v3.4h-1zM543 205.7h1v3.4h-1zM547 205.7h1v3.4h-1zM551 205.7h1v3.4h-1zM554 205.7h1v3.4h-1zM576 209.1h1v3.4h-1zM514 212.5h1v3.4h-1zM532 212.5h1v3.4h-1zM582 212.5h1v3.4h-1zM570 215.9h1v3.4h-1zM572 215.9h2v3.4h-2zM515 219.3h1v3.4h-1zM522 219.3h1v3.4h-1zM543 219.3h2v3.4h-2zM547 219.3h1v3.4h-1zM549 219.3h1v3.4h-1zM567 219.3h1v3.4h-1zM570 219.3h4v3.4h-4zM579 219.3h1v3.4h-1zM519 222.7h2v3.4h-2zM522 222.7h1v3.4h-1zM526 222.7h1v3.4h-1zM528 222.7h1v3.4h-1zM544 222.7h1v3.4h-1zM566 222.7h1v3.4h-1zM520 226.2h1v3.4h-1zM551 226.2h1v3.4h-1zM557 226.2h1v3.4h-1zM566 226.2h1v3.4h-1zM568 226.2h1v3.4h-1zM520 229.6h1v3.4h-1zM524 229.6h1v3.4h-1zM526 229.6h1v3.4h-1zM544 229.6h1v3.4h-1zM561 229.6h1v3.4h-1zM566 229.6h1v3.4h-1zM518 233h1v3.4h-1zM530 233h1v3.4h-1zM533 233h2v3.4h-2zM587 233h1v3.4h-1zM518 236.4h1v3.4h-1zM520 236.4h1v3.4h-1zM530 236.4h1v3.4h-1zM533 236.4h1v3.4h-1zM566 236.4h1v3.4h-1zM518 239.8h1v3.4h-1zM533 239.8h1v3.4h-1zM517 243.2h1v3.4h-1zM521 243.2h1v3.4h-1zM529 243.2h2v3.4h-2zM550 243.2h1v3.4h-1zM558 243.2h1v3.4h-1zM562 243.2h1v3.4h-1zM519 246.6h1v3.4h-1zM521 246.6h1v3.4h-1zM530 246.6h1v3.4h-1zM519 250h1v3.4h-1zM521 250h1v3.4h-1zM532 250h1v3.4h-1zM521 253.4h1v3.4h-1zM527 253.4h1v3.4h-1zM531 253.4h1v3.4h-1zM535 253.4h1v3.4h-1zM566 256.9h1v3.4h-1zM569 256.9h1v3.4h-1zM515 260.3h1v3.4h-1zM525 260.3h1v3.4h-1zM529 260.3h1v3.4h-1zM544 260.3h1v3.4h-1zM568 260.3h1v3.4h-1zM570 260.3h1v3.4h-1zM577 260.3h1v3.4h-1zM527 263.7h1v3.4h-1zM544 263.7h1v3.4h-1zM547 263.7h1v3.4h-1zM551 263.7h1v3.4h-1zM553 263.7h1v3.4h-1zM558 263.7h2v3.4h-2zM561 263.7h1v3.4h-1zM563 263.7h1v3.4h-1zM516 267.1h2v3.4h-2zM533 267.1h1v3.4h-1zM545 267.1h1v3.4h-1zM551 267.1h1v3.4h-1zM556 267.1h1v3.4h-1zM559 267.1h1v3.4h-1zM563 267.1h2v3.4h-2zM568 267.1h1v3.4h-1zM585 267.1h1v3.4h-1zM548 270.5h1v3.4h-1zM561 270.5h1v3.4h-1zM564 270.5h1v3.4h-1zM578 270.5h1v3.4h-1zM585 270.5h1v3.4h-1zM518 273.9h1v3.4h-1zM539 273.9h1v3.4h-1zM548 273.9h1v3.4h-1zM517 277.3h1v3.4h-1zM519 277.3h1v3.4h-1zM535 277.3h1v3.4h-1zM563 277.3h1v3.4h-1zM517 280.7h1v3.4h-1zM535 280.7h1v3.4h-1zM546 280.7h1v3.4h-1zM548 280.7h1v3.4h-1zM535 284.2h1v3.4h-1zM520 287.6h1v3.4h-1zM517 291h1v3.4h-1zM536 291h1v3.4h-1zM560 291h1v3.4h-1zM571 291h1v3.4h-1zM573 291h3v3.4h-3zM537 294.4h1v3.4h-1zM542 294.4h1v3.4h-1zM567 294.4h1v3.4h-1z"/>
<path fill="#b4324a" d="M527 181.8h1v3.4h-1zM532 181.8h3v3.4h-3zM536 181.8h1v3.4h-1zM538 181.8h2v3.4h-2zM581 181.8h1v3.4h-1zM535 188.6h1v3.4h-1zM525 195.4h1v3.4h-1zM549 195.4h1v3.4h-1zM582 195.4h1v3.4h-1zM584 195.4h1v3.4h-1zM539 198.9h1v3.4h-1zM582 198.9h3v3.4h-3zM515 202.3h1v3.4h-1zM554 202.3h1v3.4h-1zM576 202.3h1v3.4h-1zM532 209.1h1v3.4h-1zM554 209.1h2v3.4h-2zM514 215.9h1v3.4h-1zM571 215.9h1v3.4h-1zM524 219.3h1v3.4h-1zM556 219.3h2v3.4h-2zM578 219.3h1v3.4h-1zM581 219.3h1v3.4h-1zM521 222.7h1v3.4h-1zM532 222.7h1v3.4h-1zM549 222.7h1v3.4h-1zM569 222.7h1v3.4h-1zM551 229.6h1v3.4h-1zM552 233h1v3.4h-1zM555 233h1v3.4h-1zM558 233h1v3.4h-1zM566 233h1v3.4h-1zM569 233h1v3.4h-1zM513 236.4h1v3.4h-1zM552 236.4h1v3.4h-1zM569 236.4h1v3.4h-1zM566 239.8h1v3.4h-1zM534 246.6h1v3.4h-1zM527 250h5v3.4h-5zM533 250h1v3.4h-1zM513 253.4h1v3.4h-1zM528 253.4h3v3.4h-3zM532 253.4h1v3.4h-1zM544 253.4h1v3.4h-1zM513 256.9h1v3.4h-1zM523 256.9h1v3.4h-1zM565 256.9h1v3.4h-1zM567 256.9h2v3.4h-2zM570 256.9h2v3.4h-2zM513 260.3h1v3.4h-1zM516 260.3h1v3.4h-1zM522 260.3h1v3.4h-1zM535 260.3h1v3.4h-1zM565 260.3h3v3.4h-3zM569 260.3h1v3.4h-1zM571 260.3h1v3.4h-1zM513 263.7h1v3.4h-1zM529 263.7h1v3.4h-1zM544 267.1h1v3.4h-1zM517 270.5h1v3.4h-1zM539 270.5h1v3.4h-1zM585 273.9h1v3.4h-1zM516 277.3h1v3.4h-1zM541 277.3h1v3.4h-1zM557 277.3h1v3.4h-1zM585 277.3h1v3.4h-1zM533 287.6h1v3.4h-1zM548 287.6h1v3.4h-1zM524 291h1v3.4h-1zM548 291h1v3.4h-1zM558 291h1v3.4h-1zM561 291h1v3.4h-1zM572 291h1v3.4h-1zM576 291h1v3.4h-1zM548 294.4h1v3.4h-1z"/>
<path fill="#a8102c" d="M562 219.3h1v3.4h-1zM570 222.7h1v3.4h-1zM530 226.2h1v3.4h-1zM531 243.2h1v3.4h-1zM520 246.6h1v3.4h-1zM585 260.3h1v3.4h-1zM514 277.3h1v3.4h-1zM522 287.6h1v3.4h-1zM540 287.6h1v3.4h-1zM523 291h1v3.4h-1z"/>
<line x1="438.2" y1="152" x2="445.4" y2="152" stroke="#231f20" stroke-width="1.2"/>
<rect x="571.9" y="151.7" width="2.3" height="3" fill="#4582c3"/>
<rect x="576.3" y="151.7" width="5.1" height="3" fill="#af243e"/>
<line x1="436.5" y1="304.1" x2="443.5" y2="304.1" stroke="#231f20" stroke-width="1.2"/>
<rect x="571.5" y="301.5" width="1.4" height="4.3" fill="#4582c3"/>
<rect x="575" y="301.5" width="6" height="4.3" fill="#af243e"/>
<path d="M604.1 43 V148.5" fill="none" stroke="#231f20" stroke-width="1.2"/>
<line x1="604.1" y1="43.5" x2="607.1" y2="43.5" stroke="#231f20" stroke-width="1"/>
<line x1="604.1" y1="78.3" x2="607.1" y2="78.3" stroke="#231f20" stroke-width="1"/>
<line x1="604.1" y1="113.7" x2="607.1" y2="113.7" stroke="#231f20" stroke-width="1"/>
<line x1="604.1" y1="148" x2="607.1" y2="148" stroke="#231f20" stroke-width="1"/>
<line x1="604.1" y1="78.3" x2="683" y2="78.3" stroke="#9a9a9a" stroke-width="0.7" stroke-dasharray="1.4 1.2"/>
<circle cx="630.5" cy="54.8" r="1.75" fill="#fff" stroke="#9b9b9b" stroke-width="0.7"/>
<circle cx="630.5" cy="59.2" r="1.75" fill="#fff" stroke="#9b9b9b" stroke-width="0.7"/>
<circle cx="630.5" cy="62.6" r="1.75" fill="#fff" stroke="#9b9b9b" stroke-width="0.7"/>
<circle cx="630.5" cy="65.2" r="1.75" fill="#fff" stroke="#9b9b9b" stroke-width="0.7"/>
<circle cx="630.5" cy="67.9" r="1.75" fill="#fff" stroke="#9b9b9b" stroke-width="0.7"/>
<circle cx="630.5" cy="69.6" r="1.75" fill="#fff" stroke="#9b9b9b" stroke-width="0.7"/>
<circle cx="630.5" cy="71.3" r="1.75" fill="#fff" stroke="#9b9b9b" stroke-width="0.7"/>
<circle cx="630.5" cy="73.1" r="1.75" fill="#fff" stroke="#9b9b9b" stroke-width="0.7"/>
<circle cx="630.5" cy="74" r="1.75" fill="#fff" stroke="#9b9b9b" stroke-width="0.7"/>
<circle cx="630.5" cy="75.7" r="1.75" fill="#fff" stroke="#9b9b9b" stroke-width="0.7"/>
<circle cx="630.5" cy="76.6" r="1.75" fill="#fff" stroke="#9b9b9b" stroke-width="0.7"/>
<circle cx="630.5" cy="78.3" r="1.75" fill="#fff" stroke="#9b9b9b" stroke-width="0.7"/>
<circle cx="630.5" cy="79.2" r="1.75" fill="#fff" stroke="#9b9b9b" stroke-width="0.7"/>
<circle cx="630.5" cy="80" r="1.75" fill="#fff" stroke="#9b9b9b" stroke-width="0.7"/>
<circle cx="630.5" cy="80.9" r="1.75" fill="#fff" stroke="#9b9b9b" stroke-width="0.7"/>
<circle cx="630.5" cy="81.8" r="1.75" fill="#fff" stroke="#9b9b9b" stroke-width="0.7"/>
<circle cx="630.5" cy="82.6" r="1.75" fill="#fff" stroke="#9b9b9b" stroke-width="0.7"/>
<circle cx="630.5" cy="83.5" r="1.75" fill="#fff" stroke="#9b9b9b" stroke-width="0.7"/>
<circle cx="630.5" cy="84.4" r="1.75" fill="#fff" stroke="#9b9b9b" stroke-width="0.7"/>
<circle cx="630.5" cy="85.3" r="1.75" fill="#fff" stroke="#9b9b9b" stroke-width="0.7"/>
<circle cx="630.5" cy="86.1" r="1.75" fill="#fff" stroke="#9b9b9b" stroke-width="0.7"/>
<circle cx="630.5" cy="87" r="1.75" fill="#fff" stroke="#9b9b9b" stroke-width="0.7"/>
<circle cx="630.5" cy="87.9" r="1.75" fill="#fff" stroke="#9b9b9b" stroke-width="0.7"/>
<circle cx="630.5" cy="88.7" r="1.75" fill="#fff" stroke="#9b9b9b" stroke-width="0.7"/>
<circle cx="630.5" cy="90.5" r="1.75" fill="#fff" stroke="#9b9b9b" stroke-width="0.7"/>
<circle cx="630.5" cy="92.2" r="1.75" fill="#fff" stroke="#9b9b9b" stroke-width="0.7"/>
<circle cx="630.5" cy="94" r="1.75" fill="#fff" stroke="#9b9b9b" stroke-width="0.7"/>
<circle cx="630.5" cy="97.4" r="1.75" fill="#fff" stroke="#9b9b9b" stroke-width="0.7"/>
<circle cx="630.5" cy="74.8" r="1.75" fill="#fff" stroke="#9b9b9b" stroke-width="0.7"/>
<circle cx="630.5" cy="78.3" r="1.75" fill="#fff" stroke="#9b9b9b" stroke-width="0.7"/>
<circle cx="630.5" cy="80.9" r="1.75" fill="#fff" stroke="#9b9b9b" stroke-width="0.7"/>
<circle cx="630.5" cy="83.5" r="1.75" fill="#fff" stroke="#9b9b9b" stroke-width="0.7"/>
<circle cx="630.5" cy="67" r="1.75" fill="#fff" stroke="#9b9b9b" stroke-width="0.7"/>
<circle cx="630.5" cy="86.1" r="1.75" fill="#fff" stroke="#9b9b9b" stroke-width="0.7"/>
<path d="M630.5 54.8L660.3 77M630.5 59.2L660.3 91.9M630.5 62.6L660.3 75.8M630.5 65.2L660.3 98.7M630.5 67.9L660.3 81.1M630.5 69.6L660.3 82.5M630.5 71.3L660.3 123.9M630.5 73.1L660.3 95.3M630.5 74L660.3 93.6M630.5 75.7L660.3 109.2M630.5 76.6L660.3 116.5M630.5 78.3L660.3 105.6M630.5 79.2L660.3 114.6M630.5 80L660.3 88.7M630.5 80.9L660.3 102.1M630.5 81.8L660.3 103.9M630.5 82.6L660.3 87.1M630.5 83.5L660.3 85.6M630.5 84.4L660.3 84M630.5 85.3L660.3 107.4M630.5 86.1L660.3 112.8M630.5 87L660.3 111M630.5 87.9L660.3 118.3M630.5 88.7L660.3 97M630.5 90.5L660.3 122.1M630.5 92.2L660.3 125.8M630.5 94L660.3 129.6M630.5 97.4L660.3 120.2M630.5 74.8L660.3 90.3M630.5 78.3L660.3 78.3M630.5 80.9L660.3 100.4M630.5 83.5L660.3 79.7M630.5 67L660.3 74.8M630.5 86.1L660.3 127.7" stroke="#231f20" stroke-width="0.5" fill="none"/>
<rect x="665" y="78.3" width="11.5" height="22.6" fill="#f2a5a8"/>
<line x1="670.8" y1="97.9" x2="670.8" y2="103.9" stroke="#231f20" stroke-width="0.8"/>
<line x1="669.6" y1="97.9" x2="672" y2="97.9" stroke="#231f20" stroke-width="0.8"/>
<line x1="669.6" y1="103.9" x2="672" y2="103.9" stroke="#231f20" stroke-width="0.8"/>
<rect x="616.2" y="77.7" width="5" height="1.2" fill="#9a9a9a"/>
<line x1="618.7" y1="76.7" x2="618.7" y2="79.9" stroke="#555" stroke-width="0.8"/>
<line x1="617.7" y1="76.7" x2="619.7" y2="76.7" stroke="#555" stroke-width="0.7"/>
<line x1="617.7" y1="79.9" x2="619.7" y2="79.9" stroke="#555" stroke-width="0.7"/>
<circle cx="660.3" cy="77" r="1.75" fill="#fff" stroke="#f08c91" stroke-width="0.7"/>
<circle cx="660.3" cy="91.9" r="1.75" fill="#fff" stroke="#f08c91" stroke-width="0.7"/>
<circle cx="660.3" cy="75.8" r="1.75" fill="#fff" stroke="#f08c91" stroke-width="0.7"/>
<circle cx="660.3" cy="98.7" r="1.75" fill="#fff" stroke="#f08c91" stroke-width="0.7"/>
<circle cx="660.3" cy="81.1" r="1.75" fill="#fff" stroke="#f08c91" stroke-width="0.7"/>
<circle cx="660.3" cy="82.5" r="1.75" fill="#fff" stroke="#f08c91" stroke-width="0.7"/>
<circle cx="660.3" cy="123.9" r="1.75" fill="#fff" stroke="#f08c91" stroke-width="0.7"/>
<circle cx="660.3" cy="95.3" r="1.75" fill="#fff" stroke="#f08c91" stroke-width="0.7"/>
<circle cx="660.3" cy="93.6" r="1.75" fill="#fff" stroke="#f08c91" stroke-width="0.7"/>
<circle cx="660.3" cy="109.2" r="1.75" fill="#fff" stroke="#f08c91" stroke-width="0.7"/>
<circle cx="660.3" cy="116.5" r="1.75" fill="#fff" stroke="#f08c91" stroke-width="0.7"/>
<circle cx="660.3" cy="105.6" r="1.75" fill="#fff" stroke="#f08c91" stroke-width="0.7"/>
<circle cx="660.3" cy="114.6" r="1.75" fill="#fff" stroke="#f08c91" stroke-width="0.7"/>
<circle cx="660.3" cy="88.7" r="1.75" fill="#fff" stroke="#f08c91" stroke-width="0.7"/>
<circle cx="660.3" cy="102.1" r="1.75" fill="#fff" stroke="#f08c91" stroke-width="0.7"/>
<circle cx="660.3" cy="103.9" r="1.75" fill="#fff" stroke="#f08c91" stroke-width="0.7"/>
<circle cx="660.3" cy="87.1" r="1.75" fill="#fff" stroke="#f08c91" stroke-width="0.7"/>
<circle cx="660.3" cy="85.6" r="1.75" fill="#fff" stroke="#f08c91" stroke-width="0.7"/>
<circle cx="660.3" cy="84" r="1.75" fill="#fff" stroke="#f08c91" stroke-width="0.7"/>
<circle cx="660.3" cy="107.4" r="1.75" fill="#fff" stroke="#f08c91" stroke-width="0.7"/>
<circle cx="660.3" cy="112.8" r="1.75" fill="#fff" stroke="#f08c91" stroke-width="0.7"/>
<circle cx="660.3" cy="111" r="1.75" fill="#fff" stroke="#f08c91" stroke-width="0.7"/>
<circle cx="660.3" cy="118.3" r="1.75" fill="#fff" stroke="#f08c91" stroke-width="0.7"/>
<circle cx="660.3" cy="97" r="1.75" fill="#fff" stroke="#f08c91" stroke-width="0.7"/>
<circle cx="660.3" cy="122.1" r="1.75" fill="#fff" stroke="#f08c91" stroke-width="0.7"/>
<circle cx="660.3" cy="125.8" r="1.75" fill="#fff" stroke="#f08c91" stroke-width="0.7"/>
<circle cx="660.3" cy="129.6" r="1.75" fill="#fff" stroke="#f08c91" stroke-width="0.7"/>
<circle cx="660.3" cy="120.2" r="1.75" fill="#fff" stroke="#f08c91" stroke-width="0.7"/>
<circle cx="660.3" cy="90.3" r="1.75" fill="#fff" stroke="#f08c91" stroke-width="0.7"/>
<circle cx="660.3" cy="78.3" r="1.75" fill="#fff" stroke="#f08c91" stroke-width="0.7"/>
<circle cx="660.3" cy="100.4" r="1.75" fill="#fff" stroke="#f08c91" stroke-width="0.7"/>
<circle cx="660.3" cy="79.7" r="1.75" fill="#fff" stroke="#f08c91" stroke-width="0.7"/>
<circle cx="660.3" cy="74.8" r="1.75" fill="#fff" stroke="#f08c91" stroke-width="0.7"/>
<circle cx="660.3" cy="127.7" r="1.75" fill="#fff" stroke="#f08c91" stroke-width="0.7"/>
<line x1="631.3" y1="47.4" x2="660.3" y2="47.4" stroke="#231f20" stroke-width="0.9"/>
<path d="M607.5 189.1 V293.5" fill="none" stroke="#231f20" stroke-width="1.2"/>
<line x1="607.5" y1="189.6" x2="610.5" y2="189.6" stroke="#231f20" stroke-width="1"/>
<line x1="607.5" y1="215.7" x2="610.5" y2="215.7" stroke="#231f20" stroke-width="1"/>
<line x1="607.5" y1="241.6" x2="610.5" y2="241.6" stroke="#231f20" stroke-width="1"/>
<line x1="607.5" y1="267.1" x2="610.5" y2="267.1" stroke="#231f20" stroke-width="1"/>
<line x1="607.5" y1="293" x2="610.5" y2="293" stroke="#231f20" stroke-width="1"/>
<line x1="607.5" y1="241.6" x2="683" y2="241.6" stroke="#231f20" stroke-width="0.7" stroke-dasharray="1.4 1.2"/>
<circle cx="630.8" cy="227.8" r="1.75" fill="#fff" stroke="#9b9b9b" stroke-width="0.7"/>
<circle cx="630.8" cy="229.5" r="1.75" fill="#fff" stroke="#9b9b9b" stroke-width="0.7"/>
<circle cx="630.8" cy="231.2" r="1.75" fill="#fff" stroke="#9b9b9b" stroke-width="0.7"/>
<circle cx="630.8" cy="233" r="1.75" fill="#fff" stroke="#9b9b9b" stroke-width="0.7"/>
<circle cx="630.8" cy="233.8" r="1.75" fill="#fff" stroke="#9b9b9b" stroke-width="0.7"/>
<circle cx="630.8" cy="234.7" r="1.75" fill="#fff" stroke="#9b9b9b" stroke-width="0.7"/>
<circle cx="630.8" cy="235.6" r="1.75" fill="#fff" stroke="#9b9b9b" stroke-width="0.7"/>
<circle cx="630.8" cy="236.4" r="1.75" fill="#fff" stroke="#9b9b9b" stroke-width="0.7"/>
<circle cx="630.8" cy="237.3" r="1.75" fill="#fff" stroke="#9b9b9b" stroke-width="0.7"/>
<circle cx="630.8" cy="238.1" r="1.75" fill="#fff" stroke="#9b9b9b" stroke-width="0.7"/>
<circle cx="630.8" cy="239" r="1.75" fill="#fff" stroke="#9b9b9b" stroke-width="0.7"/>
<circle cx="630.8" cy="239.9" r="1.75" fill="#fff" stroke="#9b9b9b" stroke-width="0.7"/>
<circle cx="630.8" cy="240.7" r="1.75" fill="#fff" stroke="#9b9b9b" stroke-width="0.7"/>
<circle cx="630.8" cy="241.6" r="1.75" fill="#fff" stroke="#9b9b9b" stroke-width="0.7"/>
<circle cx="630.8" cy="242.5" r="1.75" fill="#fff" stroke="#9b9b9b" stroke-width="0.7"/>
<circle cx="630.8" cy="243.3" r="1.75" fill="#fff" stroke="#9b9b9b" stroke-width="0.7"/>
<circle cx="630.8" cy="244.2" r="1.75" fill="#fff" stroke="#9b9b9b" stroke-width="0.7"/>
<circle cx="630.8" cy="245.1" r="1.75" fill="#fff" stroke="#9b9b9b" stroke-width="0.7"/>
<circle cx="630.8" cy="245.9" r="1.75" fill="#fff" stroke="#9b9b9b" stroke-width="0.7"/>
<circle cx="630.8" cy="246.8" r="1.75" fill="#fff" stroke="#9b9b9b" stroke-width="0.7"/>
<circle cx="630.8" cy="248.5" r="1.75" fill="#fff" stroke="#9b9b9b" stroke-width="0.7"/>
<circle cx="630.8" cy="249.4" r="1.75" fill="#fff" stroke="#9b9b9b" stroke-width="0.7"/>
<circle cx="630.8" cy="275.3" r="1.75" fill="#fff" stroke="#9b9b9b" stroke-width="0.7"/>
<circle cx="630.8" cy="237.3" r="1.75" fill="#fff" stroke="#9b9b9b" stroke-width="0.7"/>
<circle cx="630.8" cy="239" r="1.75" fill="#fff" stroke="#9b9b9b" stroke-width="0.7"/>
<circle cx="630.8" cy="232.1" r="1.75" fill="#fff" stroke="#9b9b9b" stroke-width="0.7"/>
<circle cx="630.8" cy="243.3" r="1.75" fill="#fff" stroke="#9b9b9b" stroke-width="0.7"/>
<circle cx="630.8" cy="241.6" r="1.75" fill="#fff" stroke="#9b9b9b" stroke-width="0.7"/>
<path d="M630.8 227.8L660.8 220.1M630.8 229.5L660.8 199.3M630.8 231.2L660.8 202.8M630.8 233L660.8 211.2M630.8 233.8L660.8 204.6M630.8 234.7L660.8 206.3M630.8 235.6L660.8 201.1M630.8 236.4L660.8 215.8M630.8 237.3L660.8 218.7M630.8 238.1L660.8 221.4M630.8 239L660.8 224M630.8 239.9L660.8 217.2M630.8 240.7L660.8 225.2M630.8 241.6L660.8 212.7M630.8 242.5L660.8 232.2M630.8 243.3L660.8 228.6M630.8 244.2L660.8 229.6M630.8 245.1L660.8 232.9M630.8 245.9L660.8 209.6M630.8 246.8L660.8 233.5M630.8 248.5L660.8 230.6M630.8 249.4L660.8 231.5M630.8 275.3L660.8 233.8M630.8 237.3L660.8 227.5M630.8 239L660.8 207.9M630.8 232.1L660.8 214.3M630.8 243.3L660.8 222.7M630.8 241.6L660.8 226.4" stroke="#231f20" stroke-width="0.5" fill="none"/>
<rect x="665" y="224.3" width="11.5" height="17.3" fill="#93c2e3"/>
<line x1="670.8" y1="222" x2="670.8" y2="226.6" stroke="#231f20" stroke-width="0.8"/>
<line x1="669.6" y1="222" x2="672" y2="222" stroke="#231f20" stroke-width="0.8"/>
<line x1="669.6" y1="226.6" x2="672" y2="226.6" stroke="#231f20" stroke-width="0.8"/>
<rect x="619" y="241" width="5" height="1.2" fill="#9a9a9a"/>
<line x1="621.5" y1="240" x2="621.5" y2="243.2" stroke="#555" stroke-width="0.8"/>
<line x1="620.5" y1="240" x2="622.5" y2="240" stroke="#555" stroke-width="0.7"/>
<line x1="620.5" y1="243.2" x2="622.5" y2="243.2" stroke="#555" stroke-width="0.7"/>
<circle cx="660.8" cy="220.1" r="1.75" fill="#fff" stroke="#5aa7dc" stroke-width="0.7"/>
<circle cx="660.8" cy="199.3" r="1.75" fill="#fff" stroke="#5aa7dc" stroke-width="0.7"/>
<circle cx="660.8" cy="202.8" r="1.75" fill="#fff" stroke="#5aa7dc" stroke-width="0.7"/>
<circle cx="660.8" cy="211.2" r="1.75" fill="#fff" stroke="#5aa7dc" stroke-width="0.7"/>
<circle cx="660.8" cy="204.6" r="1.75" fill="#fff" stroke="#5aa7dc" stroke-width="0.7"/>
<circle cx="660.8" cy="206.3" r="1.75" fill="#fff" stroke="#5aa7dc" stroke-width="0.7"/>
<circle cx="660.8" cy="201.1" r="1.75" fill="#fff" stroke="#5aa7dc" stroke-width="0.7"/>
<circle cx="660.8" cy="215.8" r="1.75" fill="#fff" stroke="#5aa7dc" stroke-width="0.7"/>
<circle cx="660.8" cy="218.7" r="1.75" fill="#fff" stroke="#5aa7dc" stroke-width="0.7"/>
<circle cx="660.8" cy="221.4" r="1.75" fill="#fff" stroke="#5aa7dc" stroke-width="0.7"/>
<circle cx="660.8" cy="224" r="1.75" fill="#fff" stroke="#5aa7dc" stroke-width="0.7"/>
<circle cx="660.8" cy="217.2" r="1.75" fill="#fff" stroke="#5aa7dc" stroke-width="0.7"/>
<circle cx="660.8" cy="225.2" r="1.75" fill="#fff" stroke="#5aa7dc" stroke-width="0.7"/>
<circle cx="660.8" cy="212.7" r="1.75" fill="#fff" stroke="#5aa7dc" stroke-width="0.7"/>
<circle cx="660.8" cy="232.2" r="1.75" fill="#fff" stroke="#5aa7dc" stroke-width="0.7"/>
<circle cx="660.8" cy="228.6" r="1.75" fill="#fff" stroke="#5aa7dc" stroke-width="0.7"/>
<circle cx="660.8" cy="229.6" r="1.75" fill="#fff" stroke="#5aa7dc" stroke-width="0.7"/>
<circle cx="660.8" cy="232.9" r="1.75" fill="#fff" stroke="#5aa7dc" stroke-width="0.7"/>
<circle cx="660.8" cy="209.6" r="1.75" fill="#fff" stroke="#5aa7dc" stroke-width="0.7"/>
<circle cx="660.8" cy="233.5" r="1.75" fill="#fff" stroke="#5aa7dc" stroke-width="0.7"/>
<circle cx="660.8" cy="230.6" r="1.75" fill="#fff" stroke="#5aa7dc" stroke-width="0.7"/>
<circle cx="660.8" cy="231.5" r="1.75" fill="#fff" stroke="#5aa7dc" stroke-width="0.7"/>
<circle cx="660.8" cy="233.8" r="1.75" fill="#fff" stroke="#5aa7dc" stroke-width="0.7"/>
<circle cx="660.8" cy="227.5" r="1.75" fill="#fff" stroke="#5aa7dc" stroke-width="0.7"/>
<circle cx="660.8" cy="207.9" r="1.75" fill="#fff" stroke="#5aa7dc" stroke-width="0.7"/>
<circle cx="660.8" cy="214.3" r="1.75" fill="#fff" stroke="#5aa7dc" stroke-width="0.7"/>
<circle cx="660.8" cy="222.7" r="1.75" fill="#fff" stroke="#5aa7dc" stroke-width="0.7"/>
<circle cx="660.8" cy="226.4" r="1.75" fill="#fff" stroke="#5aa7dc" stroke-width="0.7"/>
<line x1="631.3" y1="186.8" x2="660.3" y2="186.8" stroke="#231f20" stroke-width="0.9"/>
<rect x="26.4" y="416.2" width="232.9" height="42.4" fill="#e9ebea"/>
<line x1="43" y1="422.5" x2="159.5" y2="422.5" stroke="#231f20" stroke-width="0.9"/>
<line x1="172.5" y1="422.5" x2="254" y2="422.5" stroke="#231f20" stroke-width="0.9"/>
<path d="M253.5 420.6 L257.5 422.5 L253.5 424.4 Z" fill="#231f20"/>
<line x1="159.5" y1="430.5" x2="166.5" y2="417.5" stroke="#231f20" stroke-width="0.8"/>
<line x1="166" y1="430.5" x2="173" y2="417.5" stroke="#231f20" stroke-width="0.8"/>
<line x1="59" y1="422.5" x2="59" y2="426" stroke="#231f20" stroke-width="0.9"/>
<line x1="103.4" y1="422.5" x2="103.4" y2="426" stroke="#231f20" stroke-width="0.9"/>
<line x1="132" y1="422.5" x2="132" y2="426" stroke="#231f20" stroke-width="0.9"/>
<line x1="192.6" y1="422.5" x2="192.6" y2="426" stroke="#231f20" stroke-width="0.9"/>
<line x1="230.6" y1="422.5" x2="230.6" y2="426" stroke="#231f20" stroke-width="0.9"/>
<rect x="440" y="331.8" width="5.3" height="4" fill="#dcdcdc"/>
<rect x="485.2" y="331.8" width="5.4" height="4" fill="#f2a5a8"/>
<path d="M310.2 358.2 V451 H385" fill="none" stroke="#231f20" stroke-width="1.2"/>
<line x1="310.2" y1="451" x2="313" y2="451" stroke="#231f20" stroke-width="1"/>
<line x1="310.2" y1="432.5" x2="313" y2="432.5" stroke="#231f20" stroke-width="1"/>
<line x1="310.2" y1="414.1" x2="313" y2="414.1" stroke="#231f20" stroke-width="1"/>
<line x1="310.2" y1="395.6" x2="313" y2="395.6" stroke="#231f20" stroke-width="1"/>
<line x1="310.2" y1="377.2" x2="313" y2="377.2" stroke="#231f20" stroke-width="1"/>
<line x1="310.2" y1="358.7" x2="313" y2="358.7" stroke="#231f20" stroke-width="1"/>
<rect x="317.4" y="401.8" width="11.6" height="48.6" fill="#dcdcdc"/>
<rect x="331.8" y="401.8" width="11.5" height="48.6" fill="#f2a5a8"/>
<rect x="351" y="399.2" width="11.5" height="51.2" fill="#dcdcdc"/>
<rect x="364.8" y="419.5" width="11.5" height="30.9" fill="#f2a5a8"/>
<line x1="323.2" y1="397.8" x2="323.2" y2="405.8" stroke="#231f20" stroke-width="0.8"/>
<line x1="322" y1="397.8" x2="324.4" y2="397.8" stroke="#231f20" stroke-width="0.8"/>
<line x1="322" y1="405.8" x2="324.4" y2="405.8" stroke="#231f20" stroke-width="0.8"/>
<line x1="337.6" y1="396.8" x2="337.6" y2="406.8" stroke="#231f20" stroke-width="0.8"/>
<line x1="336.4" y1="396.8" x2="338.8" y2="396.8" stroke="#231f20" stroke-width="0.8"/>
<line x1="336.4" y1="406.8" x2="338.8" y2="406.8" stroke="#231f20" stroke-width="0.8"/>
<line x1="356.8" y1="394.2" x2="356.8" y2="404.2" stroke="#231f20" stroke-width="0.8"/>
<line x1="355.6" y1="394.2" x2="357.9" y2="394.2" stroke="#231f20" stroke-width="0.8"/>
<line x1="355.6" y1="404.2" x2="357.9" y2="404.2" stroke="#231f20" stroke-width="0.8"/>
<line x1="370.6" y1="415" x2="370.6" y2="424" stroke="#231f20" stroke-width="0.8"/>
<line x1="369.4" y1="415" x2="371.8" y2="415" stroke="#231f20" stroke-width="0.8"/>
<line x1="369.4" y1="424" x2="371.8" y2="424" stroke="#231f20" stroke-width="0.8"/>
<circle cx="323.1" cy="381.1" r="1.6" fill="#fff" stroke="#231f20" stroke-width="0.8"/>
<circle cx="319.4" cy="392.6" r="1.6" fill="#fff" stroke="#231f20" stroke-width="0.8"/>
<circle cx="318.8" cy="398.9" r="1.6" fill="#fff" stroke="#231f20" stroke-width="0.8"/>
<circle cx="324.5" cy="398.9" r="1.6" fill="#fff" stroke="#231f20" stroke-width="0.8"/>
<circle cx="327.4" cy="398.9" r="1.6" fill="#fff" stroke="#231f20" stroke-width="0.8"/>
<circle cx="318.8" cy="413.8" r="1.6" fill="#fff" stroke="#231f20" stroke-width="0.8"/>
<circle cx="323.1" cy="413.8" r="1.6" fill="#fff" stroke="#231f20" stroke-width="0.8"/>
<circle cx="327.4" cy="413.8" r="1.6" fill="#fff" stroke="#231f20" stroke-width="0.8"/>
<circle cx="335.5" cy="385.4" r="1.6" fill="#fff" stroke="#231f20" stroke-width="0.8"/>
<circle cx="338.3" cy="385.4" r="1.6" fill="#fff" stroke="#231f20" stroke-width="0.8"/>
<circle cx="337.5" cy="392.6" r="1.6" fill="#fff" stroke="#231f20" stroke-width="0.8"/>
<circle cx="336.6" cy="400.3" r="1.6" fill="#fff" stroke="#231f20" stroke-width="0.8"/>
<circle cx="340.9" cy="407" r="1.6" fill="#fff" stroke="#231f20" stroke-width="0.8"/>
<circle cx="335.5" cy="407" r="1.6" fill="#fff" stroke="#231f20" stroke-width="0.8"/>
<circle cx="337.5" cy="413.3" r="1.6" fill="#fff" stroke="#231f20" stroke-width="0.8"/>
<circle cx="337.5" cy="418.4" r="1.6" fill="#fff" stroke="#231f20" stroke-width="0.8"/>
<circle cx="357" cy="381.1" r="1.6" fill="#fff" stroke="#231f20" stroke-width="0.8"/>
<circle cx="353.3" cy="392.6" r="1.6" fill="#fff" stroke="#231f20" stroke-width="0.8"/>
<circle cx="357" cy="392.6" r="1.6" fill="#fff" stroke="#231f20" stroke-width="0.8"/>
<circle cx="356.1" cy="395.5" r="1.6" fill="#fff" stroke="#231f20" stroke-width="0.8"/>
<circle cx="357" cy="399.5" r="1.6" fill="#fff" stroke="#231f20" stroke-width="0.8"/>
<circle cx="353.3" cy="407" r="1.6" fill="#fff" stroke="#231f20" stroke-width="0.8"/>
<circle cx="359.9" cy="407" r="1.6" fill="#fff" stroke="#231f20" stroke-width="0.8"/>
<circle cx="353.3" cy="413.3" r="1.6" fill="#fff" stroke="#231f20" stroke-width="0.8"/>
<circle cx="361.3" cy="413.3" r="1.6" fill="#fff" stroke="#231f20" stroke-width="0.8"/>
<circle cx="367" cy="407.5" r="1.6" fill="#fff" stroke="#231f20" stroke-width="0.8"/>
<circle cx="371.1" cy="407.5" r="1.6" fill="#fff" stroke="#231f20" stroke-width="0.8"/>
<circle cx="367.6" cy="416.1" r="1.6" fill="#fff" stroke="#231f20" stroke-width="0.8"/>
<circle cx="371.9" cy="418.4" r="1.6" fill="#fff" stroke="#231f20" stroke-width="0.8"/>
<circle cx="375.1" cy="418.4" r="1.6" fill="#fff" stroke="#231f20" stroke-width="0.8"/>
<circle cx="367.6" cy="422.5" r="1.6" fill="#fff" stroke="#231f20" stroke-width="0.8"/>
<circle cx="369.9" cy="428.5" r="1.6" fill="#fff" stroke="#231f20" stroke-width="0.8"/>
<circle cx="370.5" cy="438.5" r="1.6" fill="#fff" stroke="#231f20" stroke-width="0.8"/>
<line x1="357.6" y1="370.2" x2="371" y2="370.2" stroke="#231f20" stroke-width="0.9"/>
<path d="M412.5 358.2 V451 H486.7" fill="none" stroke="#231f20" stroke-width="1.2"/>
<line x1="412.5" y1="451" x2="415.3" y2="451" stroke="#231f20" stroke-width="1"/>
<line x1="412.5" y1="432.5" x2="415.3" y2="432.5" stroke="#231f20" stroke-width="1"/>
<line x1="412.5" y1="414.1" x2="415.3" y2="414.1" stroke="#231f20" stroke-width="1"/>
<line x1="412.5" y1="395.6" x2="415.3" y2="395.6" stroke="#231f20" stroke-width="1"/>
<line x1="412.5" y1="377.2" x2="415.3" y2="377.2" stroke="#231f20" stroke-width="1"/>
<line x1="412.5" y1="358.7" x2="415.3" y2="358.7" stroke="#231f20" stroke-width="1"/>
<rect x="420" y="402" width="11" height="48.4" fill="#dcdcdc"/>
<rect x="433" y="399.3" width="10.8" height="51.1" fill="#f2a5a8"/>
<rect x="453" y="400" width="11.7" height="50.4" fill="#dcdcdc"/>
<rect x="467" y="413" width="11.5" height="37.4" fill="#f2a5a8"/>
<line x1="425.5" y1="398.5" x2="425.5" y2="405.5" stroke="#231f20" stroke-width="0.8"/>
<line x1="424.3" y1="398.5" x2="426.7" y2="398.5" stroke="#231f20" stroke-width="0.8"/>
<line x1="424.3" y1="405.5" x2="426.7" y2="405.5" stroke="#231f20" stroke-width="0.8"/>
<line x1="438.4" y1="395.3" x2="438.4" y2="403.3" stroke="#231f20" stroke-width="0.8"/>
<line x1="437.2" y1="395.3" x2="439.6" y2="395.3" stroke="#231f20" stroke-width="0.8"/>
<line x1="437.2" y1="403.3" x2="439.6" y2="403.3" stroke="#231f20" stroke-width="0.8"/>
<line x1="458.9" y1="397" x2="458.9" y2="403" stroke="#231f20" stroke-width="0.8"/>
<line x1="457.7" y1="397" x2="460.1" y2="397" stroke="#231f20" stroke-width="0.8"/>
<line x1="457.7" y1="403" x2="460.1" y2="403" stroke="#231f20" stroke-width="0.8"/>
<line x1="472.8" y1="410" x2="472.8" y2="416" stroke="#231f20" stroke-width="0.8"/>
<line x1="471.6" y1="410" x2="473.9" y2="410" stroke="#231f20" stroke-width="0.8"/>
<line x1="471.6" y1="416" x2="473.9" y2="416" stroke="#231f20" stroke-width="0.8"/>
<circle cx="420.8" cy="386.8" r="1.6" fill="#fff" stroke="#231f20" stroke-width="0.8"/>
<circle cx="424.5" cy="390.3" r="1.6" fill="#fff" stroke="#231f20" stroke-width="0.8"/>
<circle cx="425.9" cy="398.9" r="1.6" fill="#fff" stroke="#231f20" stroke-width="0.8"/>
<circle cx="421.6" cy="405.2" r="1.6" fill="#fff" stroke="#231f20" stroke-width="0.8"/>
<circle cx="425.9" cy="405.2" r="1.6" fill="#fff" stroke="#231f20" stroke-width="0.8"/>
<circle cx="429.4" cy="405.2" r="1.6" fill="#fff" stroke="#231f20" stroke-width="0.8"/>
<circle cx="423.1" cy="407" r="1.6" fill="#fff" stroke="#231f20" stroke-width="0.8"/>
<circle cx="425.1" cy="418.4" r="1.6" fill="#fff" stroke="#231f20" stroke-width="0.8"/>
<circle cx="434.5" cy="386.8" r="1.6" fill="#fff" stroke="#231f20" stroke-width="0.8"/>
<circle cx="438.9" cy="386.8" r="1.6" fill="#fff" stroke="#231f20" stroke-width="0.8"/>
<circle cx="438.9" cy="390.3" r="1.6" fill="#fff" stroke="#231f20" stroke-width="0.8"/>
<circle cx="443.2" cy="398.3" r="1.6" fill="#fff" stroke="#231f20" stroke-width="0.8"/>
<circle cx="435.1" cy="398.9" r="1.6" fill="#fff" stroke="#231f20" stroke-width="0.8"/>
<circle cx="438.9" cy="407" r="1.6" fill="#fff" stroke="#231f20" stroke-width="0.8"/>
<circle cx="434.5" cy="414.7" r="1.6" fill="#fff" stroke="#231f20" stroke-width="0.8"/>
<circle cx="438.9" cy="421.3" r="1.6" fill="#fff" stroke="#231f20" stroke-width="0.8"/>
<circle cx="458.1" cy="389.7" r="1.6" fill="#fff" stroke="#231f20" stroke-width="0.8"/>
<circle cx="454.1" cy="398.3" r="1.6" fill="#fff" stroke="#231f20" stroke-width="0.8"/>
<circle cx="457.5" cy="398.3" r="1.6" fill="#fff" stroke="#231f20" stroke-width="0.8"/>
<circle cx="461.8" cy="398.3" r="1.6" fill="#fff" stroke="#231f20" stroke-width="0.8"/>
<circle cx="457.5" cy="404.6" r="1.6" fill="#fff" stroke="#231f20" stroke-width="0.8"/>
<circle cx="461.8" cy="404.6" r="1.6" fill="#fff" stroke="#231f20" stroke-width="0.8"/>
<circle cx="459" cy="415.6" r="1.6" fill="#fff" stroke="#231f20" stroke-width="0.8"/>
<circle cx="469" cy="405.2" r="1.6" fill="#fff" stroke="#231f20" stroke-width="0.8"/>
<circle cx="473.3" cy="405.2" r="1.6" fill="#fff" stroke="#231f20" stroke-width="0.8"/>
<circle cx="473.3" cy="409.8" r="1.6" fill="#fff" stroke="#231f20" stroke-width="0.8"/>
<circle cx="469.6" cy="413.8" r="1.6" fill="#fff" stroke="#231f20" stroke-width="0.8"/>
<circle cx="476.5" cy="413.8" r="1.6" fill="#fff" stroke="#231f20" stroke-width="0.8"/>
<circle cx="473.3" cy="417.6" r="1.6" fill="#fff" stroke="#231f20" stroke-width="0.8"/>
<circle cx="469" cy="421.3" r="1.6" fill="#fff" stroke="#231f20" stroke-width="0.8"/>
<circle cx="477" cy="421.3" r="1.6" fill="#fff" stroke="#231f20" stroke-width="0.8"/>
<line x1="457.6" y1="370.8" x2="471.3" y2="370.8" stroke="#231f20" stroke-width="0.9"/>
<path d="M507.9 358.1 V451.6 H581.7" fill="none" stroke="#231f20" stroke-width="1.2"/>
<line x1="507.9" y1="451.6" x2="510.7" y2="451.6" stroke="#231f20" stroke-width="1"/>
<line x1="507.9" y1="433.1" x2="510.7" y2="433.1" stroke="#231f20" stroke-width="1"/>
<line x1="507.9" y1="414.6" x2="510.7" y2="414.6" stroke="#231f20" stroke-width="1"/>
<line x1="507.9" y1="396.1" x2="510.7" y2="396.1" stroke="#231f20" stroke-width="1"/>
<line x1="507.9" y1="377.6" x2="510.7" y2="377.6" stroke="#231f20" stroke-width="1"/>
<rect x="514.5" y="427.5" width="11.2" height="23.5" fill="#dcdcdc"/>
<rect x="528.6" y="426.4" width="11.2" height="24.6" fill="#f2a5a8"/>
<rect x="548.5" y="427.5" width="10.7" height="23.5" fill="#dcdcdc"/>
<rect x="561.8" y="398.7" width="11.2" height="52.3" fill="#f2a5a8"/>
<line x1="520.1" y1="421.5" x2="520.1" y2="433.5" stroke="#231f20" stroke-width="0.8"/>
<line x1="518.9" y1="421.5" x2="521.3" y2="421.5" stroke="#231f20" stroke-width="0.8"/>
<line x1="518.9" y1="433.5" x2="521.3" y2="433.5" stroke="#231f20" stroke-width="0.8"/>
<line x1="534.2" y1="420.4" x2="534.2" y2="432.4" stroke="#231f20" stroke-width="0.8"/>
<line x1="533" y1="420.4" x2="535.4" y2="420.4" stroke="#231f20" stroke-width="0.8"/>
<line x1="533" y1="432.4" x2="535.4" y2="432.4" stroke="#231f20" stroke-width="0.8"/>
<line x1="553.9" y1="421.5" x2="553.9" y2="433.5" stroke="#231f20" stroke-width="0.8"/>
<line x1="552.6" y1="421.5" x2="555.1" y2="421.5" stroke="#231f20" stroke-width="0.8"/>
<line x1="552.6" y1="433.5" x2="555.1" y2="433.5" stroke="#231f20" stroke-width="0.8"/>
<line x1="567.4" y1="391.7" x2="567.4" y2="405.7" stroke="#231f20" stroke-width="0.8"/>
<line x1="566.2" y1="391.7" x2="568.6" y2="391.7" stroke="#231f20" stroke-width="0.8"/>
<line x1="566.2" y1="405.7" x2="568.6" y2="405.7" stroke="#231f20" stroke-width="0.8"/>
<circle cx="516.7" cy="402.7" r="1.6" fill="#fff" stroke="#231f20" stroke-width="0.8"/>
<circle cx="524.6" cy="402.7" r="1.6" fill="#fff" stroke="#231f20" stroke-width="0.8"/>
<circle cx="520.4" cy="425.5" r="1.6" fill="#fff" stroke="#231f20" stroke-width="0.8"/>
<circle cx="516.7" cy="433" r="1.6" fill="#fff" stroke="#231f20" stroke-width="0.8"/>
<circle cx="522.5" cy="433" r="1.6" fill="#fff" stroke="#231f20" stroke-width="0.8"/>
<circle cx="516.7" cy="440.4" r="1.6" fill="#fff" stroke="#231f20" stroke-width="0.8"/>
<circle cx="522.5" cy="440.4" r="1.6" fill="#fff" stroke="#231f20" stroke-width="0.8"/>
<circle cx="520.4" cy="451.6" r="1.6" fill="#fff" stroke="#231f20" stroke-width="0.8"/>
<circle cx="533.9" cy="402.7" r="1.6" fill="#fff" stroke="#231f20" stroke-width="0.8"/>
<circle cx="531.8" cy="421.8" r="1.6" fill="#fff" stroke="#231f20" stroke-width="0.8"/>
<circle cx="536.3" cy="421.8" r="1.6" fill="#fff" stroke="#231f20" stroke-width="0.8"/>
<circle cx="531.8" cy="433" r="1.6" fill="#fff" stroke="#231f20" stroke-width="0.8"/>
<circle cx="536.3" cy="433" r="1.6" fill="#fff" stroke="#231f20" stroke-width="0.8"/>
<circle cx="530.5" cy="440.4" r="1.6" fill="#fff" stroke="#231f20" stroke-width="0.8"/>
<circle cx="533.7" cy="440.4" r="1.6" fill="#fff" stroke="#231f20" stroke-width="0.8"/>
<circle cx="537.1" cy="440.4" r="1.6" fill="#fff" stroke="#231f20" stroke-width="0.8"/>
<circle cx="553.9" cy="402.7" r="1.6" fill="#fff" stroke="#231f20" stroke-width="0.8"/>
<circle cx="555.7" cy="414.9" r="1.6" fill="#fff" stroke="#231f20" stroke-width="0.8"/>
<circle cx="553.9" cy="421.8" r="1.6" fill="#fff" stroke="#231f20" stroke-width="0.8"/>
<circle cx="551.7" cy="433" r="1.6" fill="#fff" stroke="#231f20" stroke-width="0.8"/>
<circle cx="551.7" cy="440.4" r="1.6" fill="#fff" stroke="#231f20" stroke-width="0.8"/>
<circle cx="555.7" cy="440.4" r="1.6" fill="#fff" stroke="#231f20" stroke-width="0.8"/>
<circle cx="553.9" cy="451.6" r="1.6" fill="#fff" stroke="#231f20" stroke-width="0.8"/>
<circle cx="562.9" cy="378" r="1.6" fill="#fff" stroke="#231f20" stroke-width="0.8"/>
<circle cx="571.7" cy="378" r="1.6" fill="#fff" stroke="#231f20" stroke-width="0.8"/>
<circle cx="562.9" cy="390" r="1.6" fill="#fff" stroke="#231f20" stroke-width="0.8"/>
<circle cx="571.7" cy="390" r="1.6" fill="#fff" stroke="#231f20" stroke-width="0.8"/>
<circle cx="565" cy="410.4" r="1.6" fill="#fff" stroke="#231f20" stroke-width="0.8"/>
<circle cx="570.9" cy="410.4" r="1.6" fill="#fff" stroke="#231f20" stroke-width="0.8"/>
<circle cx="567.1" cy="419.2" r="1.6" fill="#fff" stroke="#231f20" stroke-width="0.8"/>
<circle cx="562.9" cy="433" r="1.6" fill="#fff" stroke="#231f20" stroke-width="0.8"/>
<line x1="556.5" y1="369.8" x2="570.3" y2="369.8" stroke="#231f20" stroke-width="0.9"/>
<path d="M607.2 359.7 V452 H681" fill="none" stroke="#231f20" stroke-width="1.2"/>
<line x1="607.2" y1="452" x2="610" y2="452" stroke="#231f20" stroke-width="1"/>
<line x1="607.2" y1="433.6" x2="610" y2="433.6" stroke="#231f20" stroke-width="1"/>
<line x1="607.2" y1="415.3" x2="610" y2="415.3" stroke="#231f20" stroke-width="1"/>
<line x1="607.2" y1="396.9" x2="610" y2="396.9" stroke="#231f20" stroke-width="1"/>
<line x1="607.2" y1="378.6" x2="610" y2="378.6" stroke="#231f20" stroke-width="1"/>
<line x1="607.2" y1="360.2" x2="610" y2="360.2" stroke="#231f20" stroke-width="1"/>
<rect x="613.8" y="422.3" width="11.5" height="29.1" fill="#dcdcdc"/>
<rect x="627.6" y="420.8" width="11.2" height="30.6" fill="#f2a5a8"/>
<rect x="647.4" y="422.6" width="11.5" height="28.8" fill="#dcdcdc"/>
<rect x="661.2" y="403.7" width="11.4" height="47.7" fill="#f2a5a8"/>
<line x1="619.5" y1="418.3" x2="619.5" y2="426.3" stroke="#231f20" stroke-width="0.8"/>
<line x1="618.3" y1="418.3" x2="620.8" y2="418.3" stroke="#231f20" stroke-width="0.8"/>
<line x1="618.3" y1="426.3" x2="620.8" y2="426.3" stroke="#231f20" stroke-width="0.8"/>
<line x1="633.2" y1="417.3" x2="633.2" y2="424.3" stroke="#231f20" stroke-width="0.8"/>
<line x1="632" y1="417.3" x2="634.4" y2="417.3" stroke="#231f20" stroke-width="0.8"/>
<line x1="632" y1="424.3" x2="634.4" y2="424.3" stroke="#231f20" stroke-width="0.8"/>
<line x1="653.1" y1="419.6" x2="653.1" y2="425.6" stroke="#231f20" stroke-width="0.8"/>
<line x1="651.9" y1="419.6" x2="654.4" y2="419.6" stroke="#231f20" stroke-width="0.8"/>
<line x1="651.9" y1="425.6" x2="654.4" y2="425.6" stroke="#231f20" stroke-width="0.8"/>
<line x1="666.9" y1="399.2" x2="666.9" y2="408.2" stroke="#231f20" stroke-width="0.8"/>
<line x1="665.7" y1="399.2" x2="668.1" y2="399.2" stroke="#231f20" stroke-width="0.8"/>
<line x1="665.7" y1="408.2" x2="668.1" y2="408.2" stroke="#231f20" stroke-width="0.8"/>
<circle cx="619.5" cy="405.2" r="1.6" fill="#fff" stroke="#231f20" stroke-width="0.8"/>
<circle cx="621" cy="409" r="1.6" fill="#fff" stroke="#231f20" stroke-width="0.8"/>
<circle cx="615.2" cy="420.5" r="1.6" fill="#fff" stroke="#231f20" stroke-width="0.8"/>
<circle cx="622.4" cy="420.5" r="1.6" fill="#fff" stroke="#231f20" stroke-width="0.8"/>
<circle cx="618.7" cy="427.6" r="1.6" fill="#fff" stroke="#231f20" stroke-width="0.8"/>
<circle cx="621.5" cy="431.1" r="1.6" fill="#fff" stroke="#231f20" stroke-width="0.8"/>
<circle cx="615.2" cy="435.7" r="1.6" fill="#fff" stroke="#231f20" stroke-width="0.8"/>
<circle cx="622.4" cy="434" r="1.6" fill="#fff" stroke="#231f20" stroke-width="0.8"/>
<circle cx="621.5" cy="413.3" r="1.6" fill="#fff" stroke="#231f20" stroke-width="0.8"/>
<circle cx="633" cy="402.4" r="1.6" fill="#fff" stroke="#231f20" stroke-width="0.8"/>
<circle cx="630.1" cy="411.9" r="1.6" fill="#fff" stroke="#231f20" stroke-width="0.8"/>
<circle cx="633.9" cy="415.6" r="1.6" fill="#fff" stroke="#231f20" stroke-width="0.8"/>
<circle cx="630.1" cy="422.5" r="1.6" fill="#fff" stroke="#231f20" stroke-width="0.8"/>
<circle cx="634.7" cy="422.5" r="1.6" fill="#fff" stroke="#231f20" stroke-width="0.8"/>
<circle cx="636.7" cy="428.2" r="1.6" fill="#fff" stroke="#231f20" stroke-width="0.8"/>
<circle cx="631.9" cy="430" r="1.6" fill="#fff" stroke="#231f20" stroke-width="0.8"/>
<circle cx="635.9" cy="430" r="1.6" fill="#fff" stroke="#231f20" stroke-width="0.8"/>
<circle cx="654" cy="407.5" r="1.6" fill="#fff" stroke="#231f20" stroke-width="0.8"/>
<circle cx="650.2" cy="419" r="1.6" fill="#fff" stroke="#231f20" stroke-width="0.8"/>
<circle cx="654.8" cy="419" r="1.6" fill="#fff" stroke="#231f20" stroke-width="0.8"/>
<circle cx="652.5" cy="421.9" r="1.6" fill="#fff" stroke="#231f20" stroke-width="0.8"/>
<circle cx="649.1" cy="422.5" r="1.6" fill="#fff" stroke="#231f20" stroke-width="0.8"/>
<circle cx="656" cy="422.5" r="1.6" fill="#fff" stroke="#231f20" stroke-width="0.8"/>
<circle cx="650.2" cy="429.1" r="1.6" fill="#fff" stroke="#231f20" stroke-width="0.8"/>
<circle cx="651.1" cy="437.7" r="1.6" fill="#fff" stroke="#231f20" stroke-width="0.8"/>
<circle cx="658.3" cy="418.5" r="1.6" fill="#fff" stroke="#231f20" stroke-width="0.8"/>
<circle cx="662.6" cy="388.9" r="1.6" fill="#fff" stroke="#231f20" stroke-width="0.8"/>
<circle cx="666.9" cy="387.4" r="1.6" fill="#fff" stroke="#231f20" stroke-width="0.8"/>
<circle cx="662.6" cy="396.6" r="1.6" fill="#fff" stroke="#231f20" stroke-width="0.8"/>
<circle cx="671.2" cy="400.4" r="1.6" fill="#fff" stroke="#231f20" stroke-width="0.8"/>
<circle cx="666.9" cy="405.2" r="1.6" fill="#fff" stroke="#231f20" stroke-width="0.8"/>
<circle cx="666.3" cy="415.6" r="1.6" fill="#fff" stroke="#231f20" stroke-width="0.8"/>
<circle cx="666.9" cy="422.5" r="1.6" fill="#fff" stroke="#231f20" stroke-width="0.8"/>
<line x1="660.8" y1="371.4" x2="674.9" y2="371.4" stroke="#231f20" stroke-width="0.9"/>
<rect x="389.7" y="89.4" width="10.5" height="20.5" fill="#dcdcdc"/>
<rect x="402" y="96.2" width="9.5" height="13.7" fill="#f2a5a8"/>
<path d="M387.1 70.5 V109.9 H415" fill="none" stroke="#777" stroke-width="0.8"/>
<line x1="385.6" y1="109.9" x2="387.1" y2="109.9" stroke="#777" stroke-width="0.7"/>
<line x1="385.6" y1="96.8" x2="387.1" y2="96.8" stroke="#777" stroke-width="0.7"/>
<line x1="385.6" y1="83.6" x2="387.1" y2="83.6" stroke="#777" stroke-width="0.7"/>
<line x1="385.6" y1="70.5" x2="387.1" y2="70.5" stroke="#777" stroke-width="0.7"/>
<path d="M395 77.1L406.8 95.1M395 78.4L406.8 92.5M395 79.7L406.8 90.5M395 81L406.8 90.5M395 81.5L406.8 91.1M395 82.3L406.8 94.3M395 83.1L406.8 93.9M395 83.6L406.8 95.6M395 84.2L406.8 98.5M395 84.9L406.8 96.6M395 85.7L406.8 93.2M395 86.3L406.8 95.2M395 87L406.8 97M395 87.6L406.8 99.1M395 88.4L406.8 96.8M395 88.9L406.8 98.3M395 89.7L406.8 96.9M395 90.2L406.8 96M395 91L406.8 103.5M395 91.5L406.8 97.9M395 92.3L406.8 101.8M395 92.8L406.8 100.6M395 93.6L406.8 101.7M395 94.1L406.8 95.7M395 94.9L406.8 97.1M395 96L406.8 97.9M395 96.8L406.8 101.5M395 98.1L406.8 103.7M395 99.4L406.8 101.4M395 102L406.8 100.8M395 103.9L406.8 102.2M395 86.8L406.8 94.2M395 84.7L406.8 96.2" stroke="#231f20" stroke-width="0.4" fill="none"/>
<circle cx="395" cy="77.1" r="1.35" fill="#fff" stroke="#444" stroke-width="0.5"/>
<circle cx="395" cy="78.4" r="1.35" fill="#fff" stroke="#444" stroke-width="0.5"/>
<circle cx="395" cy="79.7" r="1.35" fill="#fff" stroke="#444" stroke-width="0.5"/>
<circle cx="395" cy="81" r="1.35" fill="#fff" stroke="#444" stroke-width="0.5"/>
<circle cx="395" cy="81.5" r="1.35" fill="#fff" stroke="#444" stroke-width="0.5"/>
<circle cx="395" cy="82.3" r="1.35" fill="#fff" stroke="#444" stroke-width="0.5"/>
<circle cx="395" cy="83.1" r="1.35" fill="#fff" stroke="#444" stroke-width="0.5"/>
<circle cx="395" cy="83.6" r="1.35" fill="#fff" stroke="#444" stroke-width="0.5"/>
<circle cx="395" cy="84.2" r="1.35" fill="#fff" stroke="#444" stroke-width="0.5"/>
<circle cx="395" cy="84.9" r="1.35" fill="#fff" stroke="#444" stroke-width="0.5"/>
<circle cx="395" cy="85.7" r="1.35" fill="#fff" stroke="#444" stroke-width="0.5"/>
<circle cx="395" cy="86.3" r="1.35" fill="#fff" stroke="#444" stroke-width="0.5"/>
<circle cx="395" cy="87" r="1.35" fill="#fff" stroke="#444" stroke-width="0.5"/>
<circle cx="395" cy="87.6" r="1.35" fill="#fff" stroke="#444" stroke-width="0.5"/>
<circle cx="395" cy="88.4" r="1.35" fill="#fff" stroke="#444" stroke-width="0.5"/>
<circle cx="395" cy="88.9" r="1.35" fill="#fff" stroke="#444" stroke-width="0.5"/>
<circle cx="395" cy="89.7" r="1.35" fill="#fff" stroke="#444" stroke-width="0.5"/>
<circle cx="395" cy="90.2" r="1.35" fill="#fff" stroke="#444" stroke-width="0.5"/>
<circle cx="395" cy="91" r="1.35" fill="#fff" stroke="#444" stroke-width="0.5"/>
<circle cx="395" cy="91.5" r="1.35" fill="#fff" stroke="#444" stroke-width="0.5"/>
<circle cx="395" cy="92.3" r="1.35" fill="#fff" stroke="#444" stroke-width="0.5"/>
<circle cx="395" cy="92.8" r="1.35" fill="#fff" stroke="#444" stroke-width="0.5"/>
<circle cx="395" cy="93.6" r="1.35" fill="#fff" stroke="#444" stroke-width="0.5"/>
<circle cx="395" cy="94.1" r="1.35" fill="#fff" stroke="#444" stroke-width="0.5"/>
<circle cx="395" cy="94.9" r="1.35" fill="#fff" stroke="#444" stroke-width="0.5"/>
<circle cx="395" cy="96" r="1.35" fill="#fff" stroke="#444" stroke-width="0.5"/>
<circle cx="395" cy="96.8" r="1.35" fill="#fff" stroke="#444" stroke-width="0.5"/>
<circle cx="395" cy="98.1" r="1.35" fill="#fff" stroke="#444" stroke-width="0.5"/>
<circle cx="395" cy="99.4" r="1.35" fill="#fff" stroke="#444" stroke-width="0.5"/>
<circle cx="395" cy="102" r="1.35" fill="#fff" stroke="#444" stroke-width="0.5"/>
<circle cx="395" cy="103.9" r="1.35" fill="#fff" stroke="#444" stroke-width="0.5"/>
<circle cx="395" cy="86.8" r="1.35" fill="#fff" stroke="#444" stroke-width="0.5"/>
<circle cx="395" cy="84.7" r="1.35" fill="#fff" stroke="#444" stroke-width="0.5"/>
<circle cx="406.8" cy="95.1" r="1.35" fill="#fff" stroke="#555" stroke-width="0.5"/>
<circle cx="406.8" cy="92.5" r="1.35" fill="#fff" stroke="#555" stroke-width="0.5"/>
<circle cx="406.8" cy="90.5" r="1.35" fill="#fff" stroke="#555" stroke-width="0.5"/>
<circle cx="406.8" cy="90.5" r="1.35" fill="#fff" stroke="#555" stroke-width="0.5"/>
<circle cx="406.8" cy="91.1" r="1.35" fill="#fff" stroke="#555" stroke-width="0.5"/>
<circle cx="406.8" cy="94.3" r="1.35" fill="#fff" stroke="#555" stroke-width="0.5"/>
<circle cx="406.8" cy="93.9" r="1.35" fill="#fff" stroke="#555" stroke-width="0.5"/>
<circle cx="406.8" cy="95.6" r="1.35" fill="#fff" stroke="#555" stroke-width="0.5"/>
<circle cx="406.8" cy="98.5" r="1.35" fill="#fff" stroke="#555" stroke-width="0.5"/>
<circle cx="406.8" cy="96.6" r="1.35" fill="#fff" stroke="#555" stroke-width="0.5"/>
<circle cx="406.8" cy="93.2" r="1.35" fill="#fff" stroke="#555" stroke-width="0.5"/>
<circle cx="406.8" cy="95.2" r="1.35" fill="#fff" stroke="#555" stroke-width="0.5"/>
<circle cx="406.8" cy="97" r="1.35" fill="#fff" stroke="#555" stroke-width="0.5"/>
<circle cx="406.8" cy="99.1" r="1.35" fill="#fff" stroke="#555" stroke-width="0.5"/>
<circle cx="406.8" cy="96.8" r="1.35" fill="#fff" stroke="#555" stroke-width="0.5"/>
<circle cx="406.8" cy="98.3" r="1.35" fill="#fff" stroke="#555" stroke-width="0.5"/>
<circle cx="406.8" cy="96.9" r="1.35" fill="#fff" stroke="#555" stroke-width="0.5"/>
<circle cx="406.8" cy="96" r="1.35" fill="#fff" stroke="#555" stroke-width="0.5"/>
<circle cx="406.8" cy="103.5" r="1.35" fill="#fff" stroke="#555" stroke-width="0.5"/>
<circle cx="406.8" cy="97.9" r="1.35" fill="#fff" stroke="#555" stroke-width="0.5"/>
<circle cx="406.8" cy="101.8" r="1.35" fill="#fff" stroke="#555" stroke-width="0.5"/>
<circle cx="406.8" cy="100.6" r="1.35" fill="#fff" stroke="#555" stroke-width="0.5"/>
<circle cx="406.8" cy="101.7" r="1.35" fill="#fff" stroke="#555" stroke-width="0.5"/>
<circle cx="406.8" cy="95.7" r="1.35" fill="#fff" stroke="#555" stroke-width="0.5"/>
<circle cx="406.8" cy="97.1" r="1.35" fill="#fff" stroke="#555" stroke-width="0.5"/>
<circle cx="406.8" cy="97.9" r="1.35" fill="#fff" stroke="#555" stroke-width="0.5"/>
<circle cx="406.8" cy="101.5" r="1.35" fill="#fff" stroke="#555" stroke-width="0.5"/>
<circle cx="406.8" cy="103.7" r="1.35" fill="#fff" stroke="#555" stroke-width="0.5"/>
<circle cx="406.8" cy="101.4" r="1.35" fill="#fff" stroke="#555" stroke-width="0.5"/>
<circle cx="406.8" cy="100.8" r="1.35" fill="#fff" stroke="#555" stroke-width="0.5"/>
<circle cx="406.8" cy="102.2" r="1.35" fill="#fff" stroke="#555" stroke-width="0.5"/>
<circle cx="406.8" cy="94.2" r="1.35" fill="#fff" stroke="#555" stroke-width="0.5"/>
<circle cx="406.8" cy="96.2" r="1.35" fill="#fff" stroke="#555" stroke-width="0.5"/>
<rect x="341.8" y="210.6" width="10.4" height="11.3" fill="#dcdcdc"/>
<rect x="353.2" y="203.7" width="9.4" height="18.2" fill="#93c2e3"/>
<path d="M338.6 182.4 V221.9 H366.5" fill="none" stroke="#444" stroke-width="0.8"/>
<line x1="337.1" y1="221.9" x2="338.6" y2="221.9" stroke="#444" stroke-width="0.7"/>
<line x1="337.1" y1="208.7" x2="338.6" y2="208.7" stroke="#444" stroke-width="0.7"/>
<line x1="337.1" y1="195.6" x2="338.6" y2="195.6" stroke="#444" stroke-width="0.7"/>
<line x1="337.1" y1="182.4" x2="338.6" y2="182.4" stroke="#444" stroke-width="0.7"/>
<path d="M345.7 203.5L358.4 194.2M345.7 204.8L358.4 199.1M345.7 205.6L358.4 195.2M345.7 206.1L358.4 201.6M345.7 206.6L358.4 203.6M345.7 207.4L358.4 206.3M345.7 207.9L358.4 201.1M345.7 208.7L358.4 201M345.7 209.3L358.4 204.4M345.7 209.8L358.4 204M345.7 210.3L358.4 206.7M345.7 210.8L358.4 207.6M345.7 211.4L358.4 207.6M345.7 211.9L358.4 212.4M345.7 212.7L358.4 211.1M345.7 213.2L358.4 208M345.7 214L358.4 208.3M345.7 214.5L358.4 205.5M345.7 215.3L358.4 207.7M345.7 210.1L358.4 204.1M345.7 208.2L358.4 203.9M345.7 212.4L358.4 212.4M345.7 204L358.4 200.6M345.7 215.8L358.4 212.4" stroke="#231f20" stroke-width="0.4" fill="none"/>
<circle cx="345.7" cy="203.5" r="1.35" fill="#fff" stroke="#555" stroke-width="0.5"/>
<circle cx="345.7" cy="204.8" r="1.35" fill="#fff" stroke="#555" stroke-width="0.5"/>
<circle cx="345.7" cy="205.6" r="1.35" fill="#fff" stroke="#555" stroke-width="0.5"/>
<circle cx="345.7" cy="206.1" r="1.35" fill="#fff" stroke="#555" stroke-width="0.5"/>
<circle cx="345.7" cy="206.6" r="1.35" fill="#fff" stroke="#555" stroke-width="0.5"/>
<circle cx="345.7" cy="207.4" r="1.35" fill="#fff" stroke="#555" stroke-width="0.5"/>
<circle cx="345.7" cy="207.9" r="1.35" fill="#fff" stroke="#555" stroke-width="0.5"/>
<circle cx="345.7" cy="208.7" r="1.35" fill="#fff" stroke="#555" stroke-width="0.5"/>
<circle cx="345.7" cy="209.3" r="1.35" fill="#fff" stroke="#555" stroke-width="0.5"/>
<circle cx="345.7" cy="209.8" r="1.35" fill="#fff" stroke="#555" stroke-width="0.5"/>
<circle cx="345.7" cy="210.3" r="1.35" fill="#fff" stroke="#555" stroke-width="0.5"/>
<circle cx="345.7" cy="210.8" r="1.35" fill="#fff" stroke="#555" stroke-width="0.5"/>
<circle cx="345.7" cy="211.4" r="1.35" fill="#fff" stroke="#555" stroke-width="0.5"/>
<circle cx="345.7" cy="211.9" r="1.35" fill="#fff" stroke="#555" stroke-width="0.5"/>
<circle cx="345.7" cy="212.7" r="1.35" fill="#fff" stroke="#555" stroke-width="0.5"/>
<circle cx="345.7" cy="213.2" r="1.35" fill="#fff" stroke="#555" stroke-width="0.5"/>
<circle cx="345.7" cy="214" r="1.35" fill="#fff" stroke="#555" stroke-width="0.5"/>
<circle cx="345.7" cy="214.5" r="1.35" fill="#fff" stroke="#555" stroke-width="0.5"/>
<circle cx="345.7" cy="215.3" r="1.35" fill="#fff" stroke="#555" stroke-width="0.5"/>
<circle cx="345.7" cy="210.1" r="1.35" fill="#fff" stroke="#555" stroke-width="0.5"/>
<circle cx="345.7" cy="208.2" r="1.35" fill="#fff" stroke="#555" stroke-width="0.5"/>
<circle cx="345.7" cy="212.4" r="1.35" fill="#fff" stroke="#555" stroke-width="0.5"/>
<circle cx="345.7" cy="204" r="1.35" fill="#fff" stroke="#555" stroke-width="0.5"/>
<circle cx="345.7" cy="215.8" r="1.35" fill="#fff" stroke="#555" stroke-width="0.5"/>
<circle cx="358.4" cy="194.2" r="1.35" fill="#fff" stroke="#555" stroke-width="0.5"/>
<circle cx="358.4" cy="199.1" r="1.35" fill="#fff" stroke="#555" stroke-width="0.5"/>
<circle cx="358.4" cy="195.2" r="1.35" fill="#fff" stroke="#555" stroke-width="0.5"/>
<circle cx="358.4" cy="201.6" r="1.35" fill="#fff" stroke="#555" stroke-width="0.5"/>
<circle cx="358.4" cy="203.6" r="1.35" fill="#fff" stroke="#555" stroke-width="0.5"/>
<circle cx="358.4" cy="206.3" r="1.35" fill="#fff" stroke="#555" stroke-width="0.5"/>
<circle cx="358.4" cy="201.1" r="1.35" fill="#fff" stroke="#555" stroke-width="0.5"/>
<circle cx="358.4" cy="201" r="1.35" fill="#fff" stroke="#555" stroke-width="0.5"/>
<circle cx="358.4" cy="204.4" r="1.35" fill="#fff" stroke="#555" stroke-width="0.5"/>
<circle cx="358.4" cy="204" r="1.35" fill="#fff" stroke="#555" stroke-width="0.5"/>
<circle cx="358.4" cy="206.7" r="1.35" fill="#fff" stroke="#555" stroke-width="0.5"/>
<circle cx="358.4" cy="207.6" r="1.35" fill="#fff" stroke="#555" stroke-width="0.5"/>
<circle cx="358.4" cy="207.6" r="1.35" fill="#fff" stroke="#555" stroke-width="0.5"/>
<circle cx="358.4" cy="212.4" r="1.35" fill="#fff" stroke="#555" stroke-width="0.5"/>
<circle cx="358.4" cy="211.1" r="1.35" fill="#fff" stroke="#555" stroke-width="0.5"/>
<circle cx="358.4" cy="208" r="1.35" fill="#fff" stroke="#555" stroke-width="0.5"/>
<circle cx="358.4" cy="208.3" r="1.35" fill="#fff" stroke="#555" stroke-width="0.5"/>
<circle cx="358.4" cy="205.5" r="1.35" fill="#fff" stroke="#555" stroke-width="0.5"/>
<circle cx="358.4" cy="207.7" r="1.35" fill="#fff" stroke="#555" stroke-width="0.5"/>
<circle cx="358.4" cy="204.1" r="1.35" fill="#fff" stroke="#555" stroke-width="0.5"/>
<circle cx="358.4" cy="203.9" r="1.35" fill="#fff" stroke="#555" stroke-width="0.5"/>
<circle cx="358.4" cy="212.4" r="1.35" fill="#fff" stroke="#555" stroke-width="0.5"/>
<circle cx="358.4" cy="200.6" r="1.35" fill="#fff" stroke="#555" stroke-width="0.5"/>
<circle cx="358.4" cy="212.4" r="1.35" fill="#fff" stroke="#555" stroke-width="0.5"/>
<line x1="346.4" y1="181.3" x2="358" y2="181.3" stroke="#231f20" stroke-width="0.8"/>
<path d="M29 60 C28.5 52 35 46.5 45 45 C55 43.5 67 44 74 47.5 C79.5 50.5 81.8 56 81.5 62 C81 69.5 75.5 74.5 66 75.5 C56 76.5 44 76.5 37 73.5 C31.5 71 29.3 66 29 60 Z" fill="#eedbd0"/>
<path d="M29.5 63 C35 69 47 71.5 58 71.2 C68 71 77 68 81.3 62.5 C80.5 70 75 74.5 66 75.5 C56 76.5 44 76.5 37 73.5 C32.5 71.5 30 67.5 29.5 63 Z" fill="#e8d0c3"/>
<path d="M36 48.5 C48 55 64 56.5 78 51.5" fill="none" stroke="#e6cbbd" stroke-width="0.6"/>
<g transform="translate(58.4 0.8) rotate(0)"><rect x="-1.6" y="-0.4" width="3.2" height="0.8" fill="#888"/><line x1="0" y1="0" x2="0" y2="5.4" stroke="#999" stroke-width="0.7"/><rect x="-1.5" y="4.4" width="3" height="25.7" fill="#e6e6e6" stroke="#8a8a8a" stroke-width="0.5"/><rect x="-1.2" y="20" width="2.4" height="10" fill="#d9252c"/><line x1="-2.1" y1="7.4" x2="2.1" y2="7.4" stroke="#777" stroke-width="0.6"/><line x1="0" y1="30.1" x2="0" y2="47.7" stroke="#6a6a6a" stroke-width="0.5"/></g>
<g transform="translate(28.5 33.5) rotate(-28.4)"><rect x="-1.6" y="-0.4" width="3.2" height="0.8" fill="#888"/><line x1="0" y1="0" x2="0" y2="3" stroke="#999" stroke-width="0.7"/><rect x="-1.4" y="2" width="2.8" height="21.1" fill="#e6e6e6" stroke="#8a8a8a" stroke-width="0.5"/><rect x="-1.1" y="16" width="2.2" height="7.2" fill="#2f8a3c"/><line x1="-2" y1="5" x2="2" y2="5" stroke="#777" stroke-width="0.6"/><line x1="0" y1="23.1" x2="0" y2="42.1" stroke="#6a6a6a" stroke-width="0.5"/></g>
<g transform="translate(69.2 31.5) rotate(9.1)"><rect x="-1.6" y="-0.4" width="3.2" height="0.8" fill="#888"/><line x1="0" y1="0" x2="0" y2="3" stroke="#999" stroke-width="0.7"/><rect x="-1.4" y="2" width="2.8" height="17" fill="#e6e6e6" stroke="#8a8a8a" stroke-width="0.5"/><rect x="-1.1" y="12.5" width="2.2" height="6.5" fill="#2f8a3c"/><line x1="-2" y1="5" x2="2" y2="5" stroke="#777" stroke-width="0.6"/><line x1="0" y1="19" x2="0" y2="38" stroke="#6a6a6a" stroke-width="0.5"/></g>
<circle cx="58.4" cy="50" r="1.5" fill="#f2a0aa" stroke="none" stroke-width="0"/>
<circle cx="48.5" cy="70.5" r="1.7" fill="#6fd6c6" stroke="none" stroke-width="0"/>
<circle cx="63.2" cy="68.8" r="1.7" fill="#6fd6c6" stroke="none" stroke-width="0"/>
<g transform="translate(33.2 152.3) scale(1.0)"><path d="M30 0.5 L22.5 2.5 C19 1 15 0 11.5 0.3 C10 0.6 10.5 1.8 12.5 2 L9 2.3 C3.5 2.1 1.5 2.8 2 3.6 C2.5 4.3 5 4.3 8.5 4.6 L4 5.8 C0.5 6.3 0 7.3 1 7.8 C2 8.4 5 8 8.5 8 L4.5 9.6 C2 10.3 2 11.4 3.5 11.6 C5.5 12 8.5 11 11 10.8 C9.5 12 9 13.2 10.5 13.7 C13 14.3 17 12.8 21 12.5 L30 14 Z" fill="#c9a09c" stroke="#a88480" stroke-width="0.3"/><path d="M24 2.2 L30 0.3 L30 14.2 L24 12.2 Z" fill="#cdbcb8" stroke="#a9a09c" stroke-width="0.3"/><circle cx="15" cy="5" r="0.5" fill="#eee"/><circle cx="18" cy="4.2" r="0.5" fill="#eee"/><circle cx="16.5" cy="7.5" r="0.5" fill="#eee"/><circle cx="19.5" cy="8" r="0.5" fill="#eee"/><circle cx="14" cy="9" r="0.5" fill="#eee"/></g>
<line x1="63.2" y1="152.8" x2="80" y2="142" stroke="#b58c95" stroke-width="0.9"/>
<line x1="66" y1="151" x2="72" y2="147.3" stroke="#c79aa2" stroke-width="1.4"/>
<path d="M18.5 236.5 C30 236 40 238.5 48 243 C55 248 60 258 62.5 266 C64 270 63.5 273 60 275 C54 278 46 279 38 278.5 C30 278 23 276 18.5 272 Z" fill="#454545"/>
<path d="M30 250 C34 244 44 243 51 247 C57 252 60 261 60 267 C56 271 47 271 40 268 C33 264 29 257 30 250 Z" fill="#595959"/>
<ellipse cx="26" cy="254" rx="4.5" ry="7.5" fill="#d9aaa6" transform="rotate(-10 26 254)"/>
<ellipse cx="26.5" cy="255" rx="2.5" ry="5" fill="#c98886" transform="rotate(-10 26 255)"/>
<ellipse cx="46.3" cy="242.6" rx="4.8" ry="5.8" fill="#d8b2aa" transform="rotate(10 46.3 242.6)"/>
<ellipse cx="44" cy="252" rx="8.3" ry="8" fill="#8e6a55"/>
<circle cx="42.5" cy="255.5" r="0.9" fill="#7fe6d6" stroke="none" stroke-width="0"/>
<circle cx="47.5" cy="253" r="0.9" fill="#7fe6d6" stroke="none" stroke-width="0"/>
<ellipse cx="45" cy="263" rx="1.5" ry="1" fill="#222"/>
<ellipse cx="62.5" cy="270" rx="1.6" ry="1.3" fill="#e7a6a6"/>
<ellipse cx="30" cy="278" rx="3.5" ry="1.6" fill="#e8b8b2"/><ellipse cx="44" cy="278.5" rx="3.5" ry="1.6" fill="#e8b8b2"/>
<g transform="rotate(-35 32.5 238.5)"><rect x="28.5" y="231.5" width="8" height="14" rx="1" fill="#8793b4" stroke="#5d6788" stroke-width="0.5"/><line x1="29" y1="236" x2="36" y2="236" stroke="#5d6788" stroke-width="0.4"/><line x1="29" y1="240" x2="36" y2="240" stroke="#5d6788" stroke-width="0.4"/></g>
<g transform="rotate(30 59.5 238.5)"><rect x="55.5" y="231.5" width="8" height="14" rx="1" fill="#8793b4" stroke="#5d6788" stroke-width="0.5"/><line x1="56" y1="236" x2="63" y2="236" stroke="#5d6788" stroke-width="0.4"/><line x1="56" y1="240" x2="63" y2="240" stroke="#5d6788" stroke-width="0.4"/></g>
<path d="M28 232 C25 226 21 231 18 230 C15.5 229 14 233 12 231.5" fill="none" stroke="#333" stroke-width="0.6"/>
<path d="M63.5 231.5 C67 227 71 231 74.5 229.5 C77.5 228 79 231.5 81 230.5" fill="none" stroke="#333" stroke-width="0.6"/>
<path d="M62 268 L72 262 M62 269 L74 266 M62 270 L73 272 M63 271 L70 277" stroke="#bbb" stroke-width="0.3" fill="none"/>
<line x1="38" y1="281.5" x2="57" y2="289" stroke="#b58c95" stroke-width="0.8"/>
<path d="M30 376 C29 368 37 363.5 48 363.5 C58 363.5 68 365 74 370 C79 374 82 378 81 383 C83 387 82 392 77 393.5 C72 395.5 66 394 63 392.5 C58 395.5 50 396.5 44 395 C37 393 31 386 30 376 Z" fill="#ecccbd"/>
<path d="M40 380 C46 376 58 376 66 380 C71 383 70 389 63 392 C56 395 48 395.5 43 393.5 C38 390 36 384 40 380 Z" fill="#f0d6ca"/>
<path d="M64 383 C70 381 78 381 81 385 C83 389 81 393 76 394 C71 395 66 393.5 64 391 C62 388 62 385 64 383 Z" fill="#e6c3b3"/>
<path d="M32 378 C40 372 56 371 70 374" fill="none" stroke="#e2c2b3" stroke-width="0.5"/>
<g transform="translate(66.9 336) rotate(0)"><rect x="-1.6" y="-0.4" width="3.2" height="0.8" fill="#888"/><line x1="0" y1="0" x2="0" y2="4.9" stroke="#999" stroke-width="0.7"/><rect x="-1.4" y="3.9" width="2.8" height="19.4" fill="#e6e6e6" stroke="#8a8a8a" stroke-width="0.5"/><rect x="-1.1" y="16.1" width="2.2" height="7.1" fill="#d9252c"/><line x1="-2" y1="6.9" x2="2" y2="6.9" stroke="#777" stroke-width="0.6"/><line x1="0" y1="23.2" x2="0" y2="37.5" stroke="#6a6a6a" stroke-width="0.5"/></g>
<path d="M66.5 374 C64 381 60 386 54.5 389.5" fill="none" stroke="#e03a3a" stroke-width="0.7" stroke-dasharray="1.5 0.8"/>
<path d="M68.5 375 C67 382 62 388 56 391" fill="none" stroke="#f08080" stroke-width="0.5" stroke-dasharray="1.2 0.8"/>
<path d="M55.5 387.5 L53.2 390.3 L57 390.3 Z" fill="#d9252c"/>
<circle cx="66.9" cy="374" r="1.3" fill="#f3a0aa" stroke="none" stroke-width="0"/>
<circle cx="53.5" cy="389.8" r="1.2" fill="#f3a0aa" stroke="none" stroke-width="0"/>
<rect x="52" y="366" width="3" height="6.5" fill="#b9b9b9" stroke="#777" stroke-width="0.4"/>
<line x1="53.5" y1="372.5" x2="53.5" y2="389.5" stroke="#666" stroke-width="0.6"/>
<path d="M50.5 366 L50.5 364.8 L57.5 364.8" fill="none" stroke="#777" stroke-width="0.5"/>
<g transform="translate(112.3 381.5) scale(1.03)"><path d="M30 0.5 L22.5 2.5 C19 1 15 0 11.5 0.3 C10 0.6 10.5 1.8 12.5 2 L9 2.3 C3.5 2.1 1.5 2.8 2 3.6 C2.5 4.3 5 4.3 8.5 4.6 L4 5.8 C0.5 6.3 0 7.3 1 7.8 C2 8.4 5 8 8.5 8 L4.5 9.6 C2 10.3 2 11.4 3.5 11.6 C5.5 12 8.5 11 11 10.8 C9.5 12 9 13.2 10.5 13.7 C13 14.3 17 12.8 21 12.5 L30 14 Z" fill="#c9a09c" stroke="#a88480" stroke-width="0.3"/><path d="M24 2.2 L30 0.3 L30 14.2 L24 12.2 Z" fill="#cdbcb8" stroke="#a9a09c" stroke-width="0.3"/><circle cx="15" cy="5" r="0.5" fill="#eee"/><circle cx="18" cy="4.2" r="0.5" fill="#eee"/><circle cx="16.5" cy="7.5" r="0.5" fill="#eee"/><circle cx="19.5" cy="8" r="0.5" fill="#eee"/><circle cx="14" cy="9" r="0.5" fill="#eee"/></g>
<line x1="143.2" y1="382" x2="155" y2="375.5" stroke="#b58c95" stroke-width="0.9"/>
<line x1="145" y1="381" x2="150" y2="378.3" stroke="#c79aa2" stroke-width="1.4"/>
<defs><radialGradient id="mg" cx="0.4" cy="0.35" r="0.7"><stop offset="0" stop-color="#5a5a5a"/><stop offset="1" stop-color="#3c3c3c"/></radialGradient></defs>
<path d="M168 383 C161 386 157 393 162 399 C167 404 200 404.5 223.5 403.5" fill="none" stroke="#e9b3a2" stroke-width="2" stroke-linecap="round"/>
<path d="M167 385 C164 373 170 360 182 353.5 C192 349 206 348.5 217 351.4 C226 353.5 238 360 246 365.7 C252 371 257 378 260.5 383.5 C261 386 258 387 255 387.5 C245 389.5 230 390.5 210 390.5 C192 390.5 176 390 170 388.5 C168 387.5 167 386 167 385 Z" fill="url(#mg)"/>
<path d="M185 380 C195 372 205 372 215 377 C222 381 230 380 238 376" fill="none" stroke="#545454" stroke-width="3" opacity="0.6"/>
<ellipse cx="230" cy="365" rx="6" ry="5.5" fill="#e4aaa8" transform="rotate(-20 230 365)"/>
<ellipse cx="230.5" cy="366" rx="3.5" ry="3" fill="#cf8c8c" transform="rotate(-20 230.5 366)"/>
<ellipse cx="242" cy="364" rx="8" ry="6" fill="#8a6a5c" opacity="0.85"/>
<path d="M238 362 C241 366 244 366.5 247 364" fill="none" stroke="#e03a3a" stroke-width="0.7" stroke-dasharray="1 0.6"/>
<ellipse cx="246" cy="375" rx="1.6" ry="1.1" fill="#1d1d1d"/>
<ellipse cx="260" cy="384" rx="1.6" ry="1.4" fill="#e7a6a6"/>
<path d="M180 391 L186 396 L193 396 L196 392 Z" fill="#eab4aa"/><path d="M192 389 C195 391 199 393 200 391" fill="#f06aa0"/>
<path d="M226 391 L232 395.5 L240 395 L242 391 Z" fill="#eab4aa"/>
<rect x="237.8" y="347" width="2.4" height="6" fill="#c2c2c2" stroke="#777" stroke-width="0.3"/>
<line x1="239" y1="353" x2="239" y2="370" stroke="#666" stroke-width="0.6"/>
<path d="M237.5 347 L237.5 345.7 L244 345.7" fill="none" stroke="#888" stroke-width="0.5"/>
<path d="M257 380 L266 372 M257 381 L268 377 M257 383 L267 385 M256 384 L264 390 M252 385 L262 395" stroke="#bbb" stroke-width="0.3" fill="none"/>
<line x1="237" y1="395" x2="247" y2="405.5" stroke="#b58c95" stroke-width="0.8"/>
<line x1="240" y1="398" x2="244" y2="402" stroke="#c79aa2" stroke-width="1.4"/>
<path d="M308.3 344.8 Q309.8 349 311.6 353.6" fill="none" stroke="#c9a36a" stroke-width="0.55"/>
<g transform="rotate(-10.4 311.5 354.6)"><rect x="311.5" y="353.3" width="19.5" height="2.6" rx="1.2" fill="#f8f8f8" stroke="#777" stroke-width="0.45"/><line x1="315" y1="354.6" x2="329" y2="354.6" stroke="#aaa" stroke-width="0.4"/></g>
<rect x="310.6" y="353.2" width="3.6" height="3.4" fill="#d6d6d6" stroke="#777" stroke-width="0.4"/>
<line x1="413" y1="344.3" x2="413" y2="346.8" stroke="#666" stroke-width="1.4"/>
<line x1="413" y1="346.5" x2="413" y2="356" stroke="#c4161d" stroke-width="1.5"/>
<circle cx="413" cy="356.4" r="1.9" fill="#e41a1c" stroke="none" stroke-width="0"/>
<path d="M505 350 L509.5 358.5" stroke="#efe4b8" stroke-width="2.2" stroke-linecap="round"/>
<ellipse cx="503.2" cy="346.2" rx="3.2" ry="2.7" fill="#6b5443" transform="rotate(-30 503.2 346.2)"/>
<rect x="501.8" y="348.5" width="3.5" height="1.8" fill="#cfcfcf" transform="rotate(-30 503.5 349.4)"/>
<path d="M599.5 345 L604 340 L617 340 L613 345 Z" fill="#ddd" stroke="#555" stroke-width="0.5"/>
<path d="M602 344.5 L605.5 340.5 M605 344.5 L608.5 340.5 M608 344.5 L611.5 340.5 M611 344.5 L614.5 340.5" stroke="#555" stroke-width="0.6"/>
<path d="M613 345 L617 340 L617 353 L613 357.5 Z" fill="#f4f4f4" stroke="#777" stroke-width="0.5"/>
<rect x="599.5" y="345" width="13.5" height="12.5" fill="#fafafa" stroke="#777" stroke-width="0.5"/>
<ellipse cx="606.5" cy="351.5" rx="4.2" ry="3.6" fill="#9a9a9a"/>
<ellipse cx="605" cy="351" rx="1.3" ry="1.1" fill="#4a4a4a"/><ellipse cx="608.5" cy="352" rx="1.2" ry="1" fill="#555"/><ellipse cx="604" cy="354" rx="1" ry="0.8" fill="#444"/>
<text x="15.5" y="29" font-size="10" font-weight="bold">a</text>
<text x="100.5" y="80.1" font-size="8">-14d</text>
<text x="100.5" y="90.3" font-size="8">Viral</text>
<text x="100.5" y="100" font-size="8">injection</text>
<text x="100.5" y="125.2" font-size="8">0d</text>
<text x="100.5" y="135.1" font-size="8">CFA</text>
<text x="100.5" y="164.3" font-size="8">3d</text>
<text x="100.5" y="174.4" font-size="8">4-OHT</text>
<text x="100.5" y="184.2" font-size="8">Labeling</text>
<text x="100.5" y="228.4" font-size="8">14d</text>
<text x="100.5" y="238.5" font-size="8">CFA</text>
<text x="100.5" y="271.1" font-size="8">17d</text>
<text x="100.5" y="281.1" font-size="8">Analysis</text>
<text x="139" y="29" font-size="10" font-weight="bold">b</text>
<text x="142.3" y="88" font-size="8.5" text-anchor="middle" transform="rotate(-90 142.3 88)">S2</text>
<text x="186.9" y="46.5" font-size="7.2" text-anchor="middle">Pre</text>
<text x="255.4" y="46.5" font-size="7.2" text-anchor="middle">CNO</text>
<text x="191.2" y="129.2" font-size="7.5" text-anchor="middle">1 min</text>
<text x="162.4" y="126.6" font-size="6.5" text-anchor="middle" transform="rotate(-90 162.4 126.6)">&#916;F/F0</text>
<text x="138" y="183.5" font-size="10" font-weight="bold">d</text>
<text x="142" y="251" font-size="8.3" text-anchor="middle" transform="rotate(-90 142 251)">S1HL</text>
<text x="181.2" y="203.7" font-size="8.4" text-anchor="middle">Pre</text>
<text x="260.6" y="203.7" font-size="8.3" text-anchor="middle">CNO</text>
<text x="191.3" y="296.3" font-size="8" text-anchor="middle">1 min</text>
<text x="161.5" y="293.5" font-size="7.8" text-anchor="middle" transform="rotate(-90 161.5 293.5)">&#916;F/F0</text>
<text x="309.2" y="132.2" font-size="8" text-anchor="end">0</text>
<text x="309.2" y="95.8" font-size="8" text-anchor="end">5</text>
<text x="309.2" y="59.5" font-size="8" text-anchor="end">10</text>
<text x="309.2" y="23.1" font-size="8" text-anchor="end">15</text>
<text x="347.7" y="137.2" font-size="8" text-anchor="middle">5</text>
<text x="384.3" y="137.2" font-size="8" text-anchor="middle">10</text>
<text x="421" y="137.2" font-size="8" text-anchor="middle">15</text>
<text x="300.6" y="74.9" font-size="8" text-anchor="middle" transform="rotate(-90 300.6 74.9)">Pre ( Events/min/cell)</text>
<text x="372.3" y="144.6" font-size="8" text-anchor="middle">CNO ( Events/min/cell)</text>
<text x="312.3" y="299.1" font-size="8" text-anchor="end">0</text>
<text x="312.3" y="262.9" font-size="8" text-anchor="end">5</text>
<text x="312.3" y="226.8" font-size="8" text-anchor="end">10</text>
<text x="312.3" y="190.6" font-size="8" text-anchor="end">15</text>
<text x="350.2" y="306" font-size="8" text-anchor="middle">5</text>
<text x="386.4" y="306" font-size="8" text-anchor="middle">10</text>
<text x="422.5" y="306" font-size="8" text-anchor="middle">15</text>
<text x="302" y="241" font-size="8" text-anchor="middle" transform="rotate(-90 302 241)">Pre ( Events/min/cell)</text>
<text x="369" y="314.2" font-size="8" text-anchor="middle">CNO ( Events/min/cell)</text>
<text x="421.6" y="29" font-size="10" font-weight="bold">c</text>
<text x="468.7" y="28.6" font-size="8.5" text-anchor="middle">Pre</text>
<text x="550.6" y="28.6" font-size="8.5" text-anchor="middle">CNO</text>
<text x="441.8" y="160.2" font-size="7.5" text-anchor="middle">1 min</text>
<text x="568.2" y="161.5" font-size="7.5" text-anchor="middle">-3z</text>
<text x="584" y="161.5" font-size="7.5" text-anchor="middle">6z</text>
<text x="420" y="183.3" font-size="10" font-weight="bold">e</text>
<text x="468.9" y="177.8" font-size="8.5" text-anchor="middle">Pre</text>
<text x="550.6" y="177.8" font-size="8.5" text-anchor="middle">CNO</text>
<text x="440.6" y="312" font-size="7.5" text-anchor="middle">1 min</text>
<text x="566.2" y="311.8" font-size="7.5" text-anchor="middle">-2z</text>
<text x="586.2" y="311.8" font-size="7.5" text-anchor="middle">4z</text>
<text x="601.1" y="46.4" font-size="8" text-anchor="end">-4</text>
<text x="601.1" y="81.2" font-size="8" text-anchor="end">0</text>
<text x="601.1" y="116.6" font-size="8" text-anchor="end">4</text>
<text x="601.1" y="150.9" font-size="8" text-anchor="end">8</text>
<text x="645.8" y="47.4" font-size="8" text-anchor="middle">***</text>
<text x="629.7" y="151.2" font-size="8.5" text-anchor="middle">Pre</text>
<text x="664.5" y="151.2" font-size="8.5" text-anchor="middle">CNO</text>
<text x="595.2" y="96.7" font-size="8.1" text-anchor="middle" transform="rotate(-90 595.2 96.7)">Average z-score</text>
<text x="604.5" y="192.5" font-size="8" text-anchor="end">6</text>
<text x="604.5" y="218.6" font-size="8" text-anchor="end">3</text>
<text x="604.5" y="244.5" font-size="8" text-anchor="end">0</text>
<text x="604.5" y="270" font-size="8" text-anchor="end">-3</text>
<text x="604.5" y="295.9" font-size="8" text-anchor="end">-6</text>
<text x="645.8" y="185.8" font-size="8" text-anchor="middle">***</text>
<text x="629.7" y="299.6" font-size="8.5" text-anchor="middle">Pre</text>
<text x="664.5" y="299.6" font-size="8.5" text-anchor="middle">CNO</text>
<text x="596.9" y="242.5" font-size="8.1" text-anchor="middle" transform="rotate(-90 596.9 242.5)">Average z-score</text>
<text x="30.2" y="348.5" font-size="10" font-weight="bold">f</text>
<text x="48.2" y="325.3" font-size="8">AAV-DIO-mCherry</text>
<text x="48.2" y="334.8" font-size="8">or AAV-DIO-hM4Di-mCherry</text>
<text x="59" y="433.5" font-size="8" text-anchor="middle">-14d</text>
<text x="103.4" y="433.5" font-size="8" text-anchor="middle">0d</text>
<text x="132" y="433.5" font-size="8" text-anchor="middle">3d</text>
<text x="192.6" y="433.5" font-size="8" text-anchor="middle">14d</text>
<text x="230.6" y="433.5" font-size="8" text-anchor="middle">17d</text>
<text x="58.3" y="445" font-size="8" text-anchor="middle">Viral injection</text>
<text x="101.5" y="445" font-size="8" text-anchor="middle">CFA</text>
<text x="132" y="445" font-size="8" text-anchor="middle">4-OHT</text>
<text x="193" y="445.5" font-size="8" text-anchor="middle">CFA</text>
<text x="230.3" y="445.5" font-size="8" text-anchor="middle">CNO</text>
<text x="229.8" y="454.3" font-size="8" text-anchor="middle">Pain tests</text>
<text x="133.4" y="452.8" font-size="8.3" text-anchor="middle">S2 neuronal labeling</text>
<text x="20.1" y="370" font-size="8">Cannula</text>
<text x="69.7" y="370" font-size="8">Contra-S2</text>
<text x="41.6" y="396" font-size="8">S2</text>
<text x="40.7" y="410.7" font-size="8"><tspan font-style="italic">Fos</tspan><tspan font-size="4.6" font-style="italic" dy="-3">TRAP2</tspan><tspan dy="3"> mice</tspan></text>
<text x="136.6" y="376" font-size="8">CAP</text>
<text x="104.5" y="409.3" font-size="8">Right forepaw</text>
<text x="206.4" y="351.6" font-size="8">Cannula</text>
<text x="241.8" y="359.8" font-size="8">Contra-S2</text>
<text x="231" y="377.9" font-size="8">S2</text>
<text x="228.5" y="411.2" font-size="8">CAP</text>
<text x="277" y="349.2" font-size="10" font-weight="bold">g</text>
<text x="447.5" y="336.6" font-size="8">mCherry</text>
<text x="492.8" y="336.6" font-size="8">hM4Di</text>
<text x="307.2" y="453.8" font-size="8" text-anchor="end">0</text>
<text x="307.2" y="435.3" font-size="8" text-anchor="end">0.1</text>
<text x="307.2" y="416.9" font-size="8" text-anchor="end">0.2</text>
<text x="307.2" y="398.4" font-size="8" text-anchor="end">0.3</text>
<text x="307.2" y="380" font-size="8" text-anchor="end">0.4</text>
<text x="307.2" y="361.5" font-size="8" text-anchor="end">0.5</text>
<text x="293.7" y="406" font-size="8" text-anchor="middle" transform="rotate(-90 293.7 406)">Paw withdrawal threshold (g)</text>
<text x="331" y="359.4" font-size="8">von Frey</text>
<text x="364.3" y="371.1" font-size="8.5" text-anchor="middle">**</text>
<text x="330.4" y="461" font-size="8.5" text-anchor="middle">Pre</text>
<text x="363.6" y="461" font-size="8.5" text-anchor="middle">CNO</text>
<text x="409.5" y="453.8" font-size="8" text-anchor="end">0</text>
<text x="409.5" y="435.3" font-size="8" text-anchor="end">10</text>
<text x="409.5" y="416.9" font-size="8" text-anchor="end">20</text>
<text x="409.5" y="398.4" font-size="8" text-anchor="end">30</text>
<text x="409.5" y="380" font-size="8" text-anchor="end">40</text>
<text x="409.5" y="361.5" font-size="8" text-anchor="end">50</text>
<text x="396" y="406.7" font-size="8" text-anchor="middle" transform="rotate(-90 396 406.7)">Latency of first lick (s)</text>
<text x="422.5" y="360.5" font-size="8">Hot plate stand</text>
<text x="464.5" y="371.7" font-size="8.5" text-anchor="middle">*</text>
<text x="431.9" y="461" font-size="8.5" text-anchor="middle">Pre</text>
<text x="465.8" y="461" font-size="8.5" text-anchor="middle">CNO</text>
<text x="504.9" y="454.4" font-size="8" text-anchor="end">0</text>
<text x="504.9" y="435.9" font-size="8" text-anchor="end">0.5</text>
<text x="504.9" y="417.4" font-size="8" text-anchor="end">1.0</text>
<text x="504.9" y="398.9" font-size="8" text-anchor="end">1.5</text>
<text x="504.9" y="380.4" font-size="8" text-anchor="end">2.0</text>
<text x="491.3" y="405.6" font-size="8" text-anchor="middle" transform="rotate(-90 491.3 405.6)">Dynamic score</text>
<text x="531.3" y="360.5" font-size="8">Brush</text>
<text x="563.4" y="370.7" font-size="8.5" text-anchor="middle">**</text>
<text x="527.1" y="461" font-size="8.5" text-anchor="middle">Pre</text>
<text x="560.8" y="461" font-size="8.5" text-anchor="middle">CNO</text>
<text x="604.2" y="454.8" font-size="8" text-anchor="end">0</text>
<text x="604.2" y="436.4" font-size="8" text-anchor="end">10</text>
<text x="604.2" y="418.1" font-size="8" text-anchor="end">20</text>
<text x="604.2" y="399.7" font-size="8" text-anchor="end">30</text>
<text x="604.2" y="381.4" font-size="8" text-anchor="end">40</text>
<text x="604.2" y="363" font-size="8" text-anchor="end">50</text>
<text x="590.5" y="406.4" font-size="8" text-anchor="middle" transform="rotate(-90 590.5 406.4)">spontaneous pain scores</text>
<text x="613.6" y="361.2" font-size="8.15">Spontaneous pain</text>
<text x="667.8" y="372.3" font-size="8.5" text-anchor="middle">**</text>
<text x="626.3" y="461" font-size="8.5" text-anchor="middle">Pre</text>
<text x="660" y="461" font-size="8.5" text-anchor="middle">CNO</text>
<text x="385.6" y="112.3" font-size="6.8" text-anchor="end">0</text>
<text x="385.6" y="99.2" font-size="6.8" text-anchor="end">5</text>
<text x="385.6" y="86.1" font-size="6.8" text-anchor="end">10</text>
<text x="385.6" y="72.9" font-size="6.8" text-anchor="end">15</text>
<text x="394.1" y="116.4" font-size="6.8" text-anchor="middle">Pre</text>
<text x="409.6" y="116.4" font-size="6.8" text-anchor="middle">CNO</text>
<text x="336.6" y="224.8" font-size="8" text-anchor="end">0</text>
<text x="336.6" y="211.6" font-size="8" text-anchor="end">5</text>
<text x="336.6" y="198.4" font-size="8" text-anchor="end">10</text>
<text x="336.6" y="185.3" font-size="8" text-anchor="end">15</text>
<text x="346.2" y="229.5" font-size="7.1" text-anchor="middle">Pre</text>
<text x="360.7" y="229.5" font-size="7.1" text-anchor="middle">CNO</text>
<text x="352.2" y="181.9" font-size="8" text-anchor="middle">***</text>
<text x="62.5" y="7" font-size="8">AAV-DIO-</text>
<text x="62.5" y="16.8" font-size="8">hM4Di-mCherry</text>
<text x="1" y="55" font-size="8" fill="#2e9a3e">AAV-DIO-</text>
<text x="1" y="64.8" font-size="8" fill="#2e9a3e">GCaMP6m</text>
<text x="72.4" y="55" font-size="8" fill="#2e9a3e">AAV-CaMKII-</text>
<text x="72.4" y="64.8" font-size="8" fill="#2e9a3e">GCaMP6m</text>
<text x="38.7" y="46.3" font-size="5.8">Contra-S2</text>
<text x="39.4" y="75.2" font-size="5.8">S2</text>
<text x="59.8" y="75.2" font-size="5.8">S1HL</text>
<text x="36.7" y="89.6" font-size="8"><tspan font-style="italic">Fos</tspan><tspan font-size="4.6" font-style="italic" dy="-3">TRAP2</tspan><tspan dy="3"> mice</tspan></text>
<text x="54.7" y="144.5" font-size="8">CAP</text>
<text x="26.9" y="181.3" font-size="8">Right forepaw</text>
<text x="43.2" y="227.6" font-size="8">GRIN lens</text>
<text x="63.7" y="250" font-size="8">Scope</text>
<text x="29.8" y="261.5" font-size="8">S2</text>
<text x="51.4" y="261.5" font-size="8">S1HL</text>
<text x="57.8" y="294" font-size="8">CAP</text>
</svg>
</body></html>
